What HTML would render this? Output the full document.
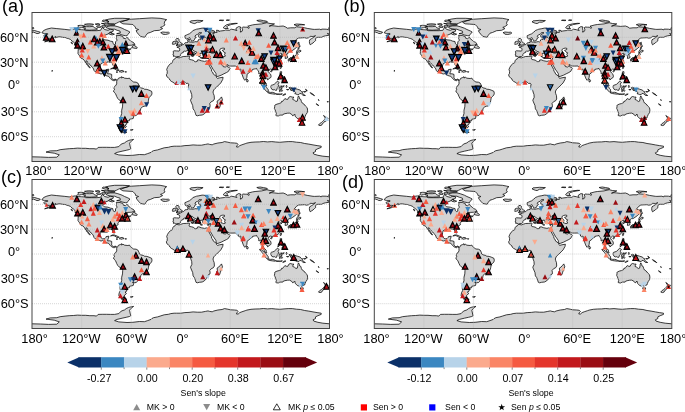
<!DOCTYPE html><html><head><meta charset="utf-8"><title>Figure</title><style>html,body{margin:0;padding:0;background:#fff}svg{display:block}text{font-family:"Liberation Sans", Arial, Helvetica, sans-serif;fill:#000}</style></head><body>
<svg width="685" height="412" viewBox="0 0 685 412">
<rect width="685" height="412" fill="#fff"/>
<clipPath id="clip"><rect x="0" y="0" width="297.5" height="149.0"/></clipPath>
<clipPath id="clipa"><rect x="32.0" y="12.5" width="297.5" height="149.0"/></clipPath>
<clipPath id="clipb"><rect x="374.3" y="12.5" width="297.5" height="149.0"/></clipPath>
<clipPath id="clipc"><rect x="32.0" y="179.5" width="297.5" height="149.0"/></clipPath>
<clipPath id="clipd"><rect x="374.3" y="179.5" width="297.5" height="149.0"/></clipPath>
<g transform="translate(32.0 12.5)">
<rect x="0" y="0" width="297.5" height="149.0" fill="#fff"/>
<g clip-path="url(#clip)">
<path d="M0.0 144.3L8.3 144.5L16.5 144.9L24.8 144.7L27.3 142.4L22.3 140.7L14.0 139.6L18.2 138.4L24.8 138.2L28.1 137.2L33.1 136.6L37.2 136.2L41.3 136.0L45.5 135.6L49.6 135.8L53.7 135.8L57.8 136.2L62.0 136.2L64.5 136.6L66.1 134.9L70.2 134.8L74.4 134.8L78.5 134.9L82.6 134.9L86.8 134.1L89.2 131.6L92.6 130.4L94.2 129.1L96.7 127.9L99.2 127.3L101.6 126.9L100.4 127.9L98.8 129.1L97.5 130.8L97.9 132.4L98.3 134.5L98.8 136.2L97.5 137.0L94.2 137.8L90.1 138.7L85.1 139.9L82.6 141.1L86.8 142.4L95.0 143.0L100.8 142.8L107.4 142.0L112.4 142.2L115.7 141.1L119.0 139.9L119.8 139.1L121.5 138.2L125.6 137.4L128.1 136.6L132.2 135.3L136.4 134.8L138.8 134.1L142.1 133.7L144.6 133.7L148.8 133.7L152.9 133.1L157.0 132.9L161.1 132.4L165.3 132.7L169.4 132.7L173.5 131.9L176.0 131.4L177.7 131.9L180.2 132.3L181.8 131.5L185.9 130.5L190.1 130.0L192.5 129.1L195.9 129.7L198.3 130.3L202.5 130.5L204.9 130.8L206.2 132.0L204.9 133.3L204.5 134.5L206.2 134.5L207.8 133.1L209.9 132.3L213.2 131.2L214.9 130.6L219.0 129.8L223.1 129.5L227.3 129.4L231.4 129.0L235.5 129.4L239.7 129.1L243.8 129.5L247.9 129.8L252.0 129.4L256.2 129.1L260.3 129.1L264.4 129.7L268.6 130.0L272.7 131.0L276.8 131.6L281.0 132.4L285.1 133.1L289.2 133.7L289.2 134.9L285.9 136.2L283.5 137.4L283.5 139.1L281.0 140.3L281.8 141.6L285.9 142.8L290.9 143.7L297.5 144.3L297.5 149.0L0.0 149.0Z" fill="#d3d3d3" stroke="none"/>
<path d="M0.0 144.3L8.3 144.5L16.5 144.9L24.8 144.7L27.3 142.4L22.3 140.7L14.0 139.6L18.2 138.4L24.8 138.2L28.1 137.2L33.1 136.6L37.2 136.2L41.3 136.0L45.5 135.6L49.6 135.8L53.7 135.8L57.8 136.2L62.0 136.2L64.5 136.6L66.1 134.9L70.2 134.8L74.4 134.8L78.5 134.9L82.6 134.9L86.8 134.1L89.2 131.6L92.6 130.4L94.2 129.1L96.7 127.9L99.2 127.3L101.6 126.9L100.4 127.9L98.8 129.1L97.5 130.8L97.9 132.4L98.3 134.5L98.8 136.2L97.5 137.0L94.2 137.8L90.1 138.7L85.1 139.9L82.6 141.1L86.8 142.4L95.0 143.0L100.8 142.8L107.4 142.0L112.4 142.2L115.7 141.1L119.0 139.9L119.8 139.1L121.5 138.2L125.6 137.4L128.1 136.6L132.2 135.3L136.4 134.8L138.8 134.1L142.1 133.7L144.6 133.7L148.8 133.7L152.9 133.1L157.0 132.9L161.1 132.4L165.3 132.7L169.4 132.7L173.5 131.9L176.0 131.4L177.7 131.9L180.2 132.3L181.8 131.5L185.9 130.5L190.1 130.0L192.5 129.1L195.9 129.7L198.3 130.3L202.5 130.5L204.9 130.8L206.2 132.0L204.9 133.3L204.5 134.5L206.2 134.5L207.8 133.1L209.9 132.3L213.2 131.2L214.9 130.6L219.0 129.8L223.1 129.5L227.3 129.4L231.4 129.0L235.5 129.4L239.7 129.1L243.8 129.5L247.9 129.8L252.0 129.4L256.2 129.1L260.3 129.1L264.4 129.7L268.6 130.0L272.7 131.0L276.8 131.6L281.0 132.4L285.1 133.1L289.2 133.7L289.2 134.9L285.9 136.2L283.5 137.4L283.5 139.1L281.0 140.3L281.8 141.6L285.9 142.8L290.9 143.7L297.5 144.3" fill="none" stroke="#000" stroke-width="0.75"/>
<path d="M9.9 20.3L11.6 18.0L14.9 16.6L19.4 15.5L24.8 16.1L32.2 16.8L37.2 17.4L43.0 16.4L46.3 17.0L52.1 17.4L53.7 18.2L59.5 18.2L64.5 18.2L68.6 17.8L70.2 14.9L72.7 17.0L76.0 17.8L78.5 16.7L81.4 17.4L81.0 19.0L77.7 19.9L76.9 21.1L71.9 23.2L70.7 25.7L72.3 27.3L76.0 27.7L78.5 28.7L80.7 29.0L81.0 31.0L82.2 32.1L83.5 31.6L83.5 29.4L85.1 27.7L84.3 25.9L84.7 24.4L84.3 22.8L88.0 23.0L90.9 24.0L91.3 25.7L93.4 26.2L95.0 24.6L95.9 26.1L97.9 27.7L99.2 29.0L101.2 29.8L102.5 31.0L100.0 32.7L95.9 32.9L93.4 33.5L90.9 35.2L92.6 34.1L95.4 33.9L95.0 35.2L95.4 36.3L97.9 36.6L99.2 36.0L98.3 37.1L95.9 37.8L94.2 38.5L94.2 37.4L93.4 37.2L90.9 38.3L90.5 39.7L90.9 40.0L89.2 40.4L87.6 40.9L87.4 41.8L86.4 43.0L85.9 43.9L86.2 45.1L84.7 46.1L83.1 47.2L81.8 48.2L81.6 49.7L82.6 52.1L82.4 53.6L81.4 53.4L80.4 51.5L80.3 50.1L79.3 49.7L78.1 49.8L76.4 49.4L74.8 49.5L74.8 50.3L73.1 50.2L71.1 50.0L69.0 51.1L68.3 53.0L68.0 55.9L69.2 58.4L70.7 59.4L72.7 59.1L73.9 57.9L74.1 57.1L76.9 56.7L76.4 58.8L75.9 60.0L75.6 61.4L77.7 61.3L79.7 61.9L79.7 64.2L79.6 65.4L80.6 66.8L81.8 67.2L83.1 66.6L84.7 67.3L85.3 67.9L86.4 65.8L88.4 65.0L89.7 64.2L89.7 65.6L90.9 64.7L92.6 65.7L95.9 66.0L97.5 65.6L98.3 67.0L100.4 68.7L101.6 69.5L104.1 69.7L105.8 70.5L107.0 72.8L107.4 74.5L108.7 75.3L111.6 76.0L112.4 76.7L114.9 76.9L116.9 77.6L119.6 78.8L120.0 80.7L119.6 82.4L118.2 84.0L116.9 85.3L116.5 87.7L116.1 89.8L115.0 91.9L114.0 93.5L112.0 93.7L110.3 94.5L108.7 96.0L108.5 97.9L107.0 100.0L105.4 101.8L104.3 103.0L102.1 103.3L100.5 102.6L101.6 104.3L101.2 106.0L97.5 106.8L97.3 108.3L95.0 108.4L96.1 109.7L94.8 110.5L94.6 111.8L93.0 112.6L94.4 113.8L93.0 115.5L91.7 116.7L92.2 117.8L90.1 119.0L88.0 118.0L86.8 115.9L87.2 113.4L88.4 110.9L88.0 108.9L88.0 106.0L88.8 103.9L89.7 101.0L89.7 97.7L90.5 94.4L90.7 91.1L90.6 89.6L89.2 88.6L86.8 87.2L85.7 85.9L84.7 84.0L83.5 81.1L81.8 79.5L81.6 78.1L82.6 77.2L82.0 76.4L82.2 74.9L82.6 73.8L83.6 73.3L84.7 71.4L84.7 69.1L84.4 68.5L84.0 67.6L83.1 67.2L82.4 68.3L81.4 68.1L80.2 67.6L79.6 67.3L78.5 66.2L77.8 65.4L76.4 63.7L75.6 63.6L73.5 63.0L72.3 62.2L70.7 61.1L69.0 61.5L66.9 60.8L64.9 60.0L62.8 58.8L61.6 57.7L61.7 56.7L60.7 55.0L59.1 53.6L58.3 52.4L57.0 51.3L55.8 50.1L55.2 48.7L54.0 48.3L54.0 49.7L55.4 51.3L56.6 53.0L57.6 54.5L58.3 55.4L57.6 55.2L56.2 54.0L55.9 52.8L54.3 51.7L54.3 50.7L53.1 49.4L52.1 47.6L50.8 46.4L49.1 45.9L48.0 44.2L47.5 43.2L46.4 41.8L46.0 41.1L46.1 38.9L46.3 36.3L45.7 34.4L47.1 33.9L45.9 33.1L43.8 32.3L43.0 31.0L41.3 29.4L40.1 28.6L38.4 26.9L36.4 26.1L35.1 25.8L33.2 25.0L30.6 24.8L28.1 24.3L26.0 24.4L23.6 25.4L24.0 24.0L22.3 24.8L21.1 26.1L19.0 27.3L16.9 28.3L14.5 29.0L12.6 29.3L14.9 28.3L16.5 27.7L18.6 26.1L17.4 25.9L14.9 25.9L14.9 24.8L12.4 24.2L11.6 23.2L12.8 22.4L15.7 21.9L15.7 21.1L12.4 21.1ZM88.4 9.8L92.6 8.3L97.5 6.8L107.4 6.2L119.8 5.4L128.1 5.8L132.2 6.6L134.7 7.2L133.0 8.3L132.2 10.8L133.0 12.4L130.6 14.1L128.5 14.9L130.6 16.1L127.3 17.8L122.3 18.2L118.2 20.0L115.7 20.7L114.0 22.8L112.8 24.8L110.7 24.4L108.7 24.0L106.6 21.9L105.0 19.9L104.1 18.2L106.6 17.0L103.7 16.1L103.3 14.5L100.8 12.0L95.0 11.6L90.9 11.3L89.2 10.3ZM95.0 23.3L95.9 21.9L97.9 19.5L95.9 18.4L92.6 17.0L90.1 15.7L85.9 14.2L82.6 13.4L78.5 13.4L74.8 14.1L74.4 15.3L78.5 16.6L82.6 16.7L85.1 17.8L88.0 18.6L88.4 20.3L84.7 21.1L87.2 21.3L90.1 22.5L93.4 23.2ZM64.9 17.4L62.0 17.5L57.8 17.7L54.5 17.5L52.1 16.7L53.7 15.7L50.8 15.3L51.2 14.3L54.5 14.1L57.8 14.2L61.2 13.8L62.4 15.3L65.3 16.1ZM45.5 14.9L47.1 15.6L49.2 15.1L51.6 14.2L53.3 13.7L51.6 13.0L48.3 12.8L45.9 13.1L46.3 14.1ZM76.0 11.2L82.6 11.4L84.3 10.8L86.8 9.5L89.2 8.7L95.0 7.5L97.5 6.2L90.9 5.8L82.6 5.8L76.9 6.6L73.5 7.5L76.0 8.3L76.9 9.5L75.2 10.3ZM82.6 12.7L77.7 12.8L72.7 12.7L72.3 11.6L69.4 10.9L75.2 11.3L78.5 11.8L81.8 11.8L83.1 12.4ZM76.9 9.1L73.5 9.7L70.2 8.7L71.1 7.5L74.4 7.9ZM71.9 14.9L69.8 14.5L69.8 13.2L73.5 13.2L74.0 14.1ZM68.6 14.9L65.3 14.9L64.5 13.7L67.4 13.3L68.6 14.1ZM61.2 12.4L57.8 12.7L54.5 12.6L52.5 11.8L56.2 11.3L59.5 11.4L61.6 11.8ZM67.8 12.4L65.3 12.3L63.2 11.6L66.1 11.0L67.8 11.6ZM82.4 21.7L80.2 22.4L77.7 21.8L76.9 21.1L78.1 19.9L79.7 20.0L78.9 20.7L81.0 21.1ZM99.7 35.0L102.9 35.8L105.0 35.8L105.2 35.1L104.5 34.3L102.6 33.3L102.9 31.9L101.6 32.3L101.0 33.5L99.8 34.5ZM46.9 34.4L45.5 34.2L42.7 32.5L43.8 32.4L45.5 33.1L46.7 33.9ZM40.5 31.5L38.8 30.0L39.8 29.7ZM78.5 56.5L80.2 55.5L82.2 55.4L85.1 56.6L87.4 57.8L84.7 58.0L84.3 57.4L82.6 56.5L81.0 56.0L79.3 56.4ZM87.3 59.3L88.8 58.0L90.9 58.1L92.2 59.1L90.5 59.4L89.5 59.8L88.4 59.4ZM84.0 59.4L85.7 59.4L85.7 59.7L84.5 59.8ZM93.2 59.2L94.5 59.3L94.4 59.6L93.2 59.6ZM92.1 118.0L92.4 118.6L94.9 119.8L92.6 120.3L90.1 120.0L89.2 119.4L90.5 118.9L90.7 118.2ZM98.3 117.4L101.0 117.0L100.4 117.7L98.8 117.7ZM128.7 20.2L130.6 19.5L133.9 19.8L136.5 19.7L137.5 20.5L136.4 21.3L133.5 22.0L130.6 21.7L130.2 20.9ZM157.8 9.5L161.1 10.8L162.8 11.1L165.3 9.7L167.8 9.7L170.2 8.7L171.1 8.1L165.3 7.8L158.7 8.4ZM191.3 15.3L192.5 16.0L196.3 16.0L194.6 14.5L195.9 13.2L199.2 12.0L205.4 10.9L203.3 10.8L198.3 11.3L194.6 12.3L192.5 13.7ZM187.2 7.9L190.9 8.2L191.7 7.7L188.4 7.5ZM227.3 9.1L231.4 9.8L235.5 9.5L234.7 8.7L231.4 8.1L228.1 7.5L224.8 8.0ZM262.0 12.2L265.3 13.4L267.8 12.4L272.7 12.3L269.4 11.8L264.4 11.5ZM296.3 15.8L297.5 15.8L297.5 15.3L296.7 15.3ZM0.0 15.8L2.1 15.7L1.7 15.3L0.0 15.3ZM0.0 17.5L2.5 18.0L5.8 19.0L8.3 19.7L7.9 20.3L6.2 21.1L4.1 20.9L3.3 20.3L1.2 19.6L0.0 20.4ZM170.1 15.6L171.9 15.7L174.4 16.3L173.5 16.7L176.0 17.1L178.5 17.2L182.6 18.6L182.6 19.3L181.8 19.7L177.7 19.5L175.6 19.0L177.5 21.1L179.3 21.7L180.2 21.3L182.2 21.0L181.8 19.9L185.1 19.9L184.5 17.7L186.8 18.0L186.8 19.0L188.4 18.5L192.5 18.0L193.4 17.5L197.5 17.8L199.2 16.7L202.1 17.2L204.9 18.0L204.1 17.0L204.0 15.7L206.6 14.1L208.7 14.5L208.2 15.7L208.7 18.2L208.2 19.6L209.9 19.0L210.7 17.4L209.9 15.3L210.7 14.5L213.2 14.7L214.9 14.7L216.9 15.9L217.3 14.9L215.7 13.7L220.6 12.4L223.1 12.0L229.7 11.4L234.9 10.2L238.0 11.0L242.5 11.4L237.2 13.7L239.7 13.2L242.1 13.4L246.3 13.9L251.2 13.5L253.7 14.5L255.4 15.7L258.7 15.3L262.8 15.3L264.4 14.3L269.4 14.7L272.7 15.3L275.2 15.9L281.0 16.8L282.6 16.9L287.6 16.7L289.2 17.4L289.6 16.6L294.2 16.7L297.5 17.5L297.5 20.5L296.3 21.1L295.4 20.9L296.9 22.8L293.4 23.3L290.9 24.0L289.5 24.8L285.9 24.8L284.3 25.0L283.5 26.7L283.7 28.0L282.5 29.0L281.0 30.5L279.7 31.3L278.2 32.3L277.5 30.6L277.4 29.0L277.7 27.3L279.3 26.3L281.4 25.0L283.5 23.2L281.0 24.0L278.1 23.8L276.8 25.3L274.4 25.7L272.7 25.2L269.0 25.4L266.5 25.5L264.4 26.9L262.0 29.8L262.8 30.0L265.3 30.4L264.7 32.3L264.9 34.4L263.2 36.0L260.7 37.8L258.7 39.1L257.0 39.2L255.9 40.1L255.8 41.4L254.1 41.8L254.9 43.0L255.7 44.3L255.5 45.4L254.1 45.8L253.1 45.9L253.3 44.3L253.5 43.3L252.0 43.0L252.3 41.8L251.5 41.4L249.3 42.2L249.6 40.9L248.7 40.7L247.5 41.6L246.3 42.1L246.0 42.6L247.1 43.5L248.6 43.2L250.0 43.7L248.7 44.3L247.3 45.5L248.3 46.8L249.4 48.2L249.5 49.0L248.3 49.4L249.6 49.8L249.2 51.1L247.9 52.6L247.1 53.8L245.9 54.8L244.6 55.5L243.2 56.0L242.1 56.3L240.5 56.9L239.9 57.7L239.5 56.7L238.2 56.6L237.0 57.5L236.2 58.8L237.2 60.4L238.6 61.7L239.1 63.7L238.8 65.0L237.2 65.9L236.8 66.6L235.5 67.3L235.5 66.2L234.3 65.7L233.5 64.6L232.2 64.0L231.8 63.3L231.4 64.2L230.8 65.8L231.4 67.0L231.8 68.5L233.0 69.4L234.2 70.8L234.3 72.4L234.9 73.3L234.2 73.3L232.5 72.2L231.7 69.9L231.1 69.0L230.0 67.6L230.1 65.8L230.3 64.2L229.6 62.5L229.4 60.8L228.1 60.6L227.5 61.4L226.7 61.2L226.8 59.6L226.0 58.1L224.8 56.7L224.6 55.9L223.5 56.3L222.3 56.5L220.6 56.9L220.5 57.7L219.0 58.4L216.9 60.4L215.1 61.7L215.0 63.5L214.8 65.0L214.3 66.0L214.0 66.8L213.4 67.2L212.8 67.8L211.8 66.4L211.0 64.6L210.3 62.5L209.5 60.8L208.9 58.8L208.8 57.1L208.5 56.5L207.4 57.3L205.8 56.0L206.6 55.6L205.2 55.0L204.1 54.0L203.7 53.5L200.0 53.6L197.5 53.5L196.0 52.6L195.4 52.1L193.8 52.5L192.1 51.7L190.7 50.5L190.1 49.5L189.1 49.3L188.4 50.2L189.1 51.3L190.1 52.4L190.3 53.2L191.1 52.9L191.3 54.2L193.4 54.5L195.2 52.8L195.4 54.2L197.3 55.0L198.2 55.9L197.1 57.5L196.5 58.8L194.6 60.0L191.9 61.3L189.2 62.7L185.9 63.9L184.7 64.0L184.1 62.5L183.9 60.8L182.2 58.4L181.0 56.7L179.7 54.4L178.1 51.7L177.5 51.1L177.7 50.1L177.1 51.5L176.0 50.5L175.6 49.7L176.4 51.5L178.1 54.6L179.5 57.1L179.6 58.8L180.6 59.6L181.4 61.7L182.8 62.5L184.4 64.2L184.5 65.0L185.5 65.9L187.6 65.3L191.1 64.7L190.7 67.0L188.8 70.4L186.8 72.4L184.7 74.5L183.0 76.0L181.8 77.4L181.0 79.5L181.4 81.1L182.2 83.2L182.4 86.5L181.4 88.2L179.3 89.2L177.7 91.1L178.1 92.7L178.0 94.4L176.0 95.6L175.9 96.8L174.4 99.2L172.3 101.4L170.2 102.5L167.3 102.8L165.3 103.3L164.0 102.8L163.6 101.4L162.4 98.1L161.1 96.4L160.7 93.1L159.1 89.4L158.5 87.7L159.9 84.8L159.7 82.0L158.8 79.5L158.5 78.2L156.4 75.7L156.4 73.7L156.8 71.6L155.9 70.8L154.1 70.9L152.9 69.7L152.3 69.3L150.8 69.3L149.6 69.6L147.1 70.5L145.0 70.2L142.6 70.9L140.9 69.7L139.2 68.8L137.8 67.5L137.6 66.4L136.4 65.4L134.9 64.2L134.3 62.3L135.1 61.3L135.3 58.8L134.7 57.1L135.5 54.9L136.8 52.8L138.4 51.3L140.5 50.1L140.7 48.4L141.7 46.9L143.1 46.3L143.9 44.9L144.4 44.8L147.1 45.4L148.8 44.8L151.2 44.0L154.5 43.9L157.0 43.6L157.8 43.9L157.4 45.1L157.0 46.4L157.8 47.0L159.5 47.3L161.4 47.8L162.0 48.6L163.6 49.3L165.3 48.8L165.3 47.6L166.9 47.3L169.4 48.3L172.7 48.9L174.4 48.4L175.4 48.7L177.0 48.6L177.7 47.3L178.3 45.5L178.5 44.0L176.8 44.5L175.2 44.5L174.0 44.0L172.7 44.3L171.5 43.9L170.6 42.6L170.6 41.8L170.4 41.2L170.2 40.7L168.6 40.7L168.4 41.4L167.6 41.1L167.8 42.2L168.6 43.0L167.8 43.5L167.8 44.3L166.7 44.0L166.3 43.0L165.3 41.6L164.8 40.6L164.9 39.7L162.8 38.9L161.1 37.7L160.2 37.2L160.1 36.7L158.9 37.0L159.1 38.1L160.3 39.5L162.0 39.9L164.0 41.3L162.6 41.4L162.9 42.2L161.7 43.0L161.8 41.4L160.6 40.7L158.9 40.0L157.4 38.9L157.0 38.1L156.0 37.7L154.9 38.2L153.7 38.8L152.1 38.5L151.3 39.3L151.4 39.9L149.4 40.7L148.5 41.8L148.9 42.5L148.2 43.4L147.1 44.0L145.0 44.1L144.1 44.7L143.5 44.1L142.7 43.7L141.4 43.9L141.5 42.6L140.9 42.4L141.5 40.6L141.1 38.9L142.1 38.3L144.6 38.4L147.1 38.6L147.7 37.7L147.8 36.4L146.9 35.4L145.0 34.8L144.9 34.4L147.4 34.2L147.3 33.4L148.9 33.5L150.1 32.4L151.6 32.0L152.5 31.0L152.9 30.4L154.5 30.1L155.9 29.9L155.9 28.6L155.5 27.3L157.5 26.7L157.3 27.7L157.0 28.6L156.8 29.1L157.8 29.6L159.1 29.5L160.5 29.8L162.4 29.4L164.0 29.1L165.1 29.5L166.1 28.7L166.1 27.5L167.3 26.7L168.6 27.2L168.9 26.2L168.2 25.5L169.4 25.2L171.9 25.2L173.5 24.8L172.3 24.3L170.2 24.5L167.8 24.9L166.4 24.2L166.4 23.2L166.5 22.2L169.0 20.9L169.7 20.3L168.7 20.0L166.9 20.3L166.4 21.1L165.7 21.8L163.9 22.5L163.0 23.6L163.0 24.3L164.3 24.8L163.8 25.5L162.6 26.1L162.4 27.3L162.0 28.0L160.6 28.5L159.4 28.6L159.2 28.0L158.5 26.7L158.0 25.7L157.5 25.0L156.6 25.7L154.5 26.5L153.3 25.8L152.9 24.4L152.9 23.2L154.5 22.5L155.8 21.9L157.4 21.3L159.1 19.9L160.7 18.6L161.1 18.0L163.2 17.2L164.5 16.7L166.9 16.3ZM189.5 84.4L190.5 87.3L189.7 89.0L188.4 92.7L187.6 95.2L185.9 95.6L184.7 94.0L184.5 92.3L185.4 91.1L185.1 88.6L186.8 87.5L188.4 85.7ZM144.0 33.0L145.9 32.8L149.9 32.1L150.2 30.8L148.9 30.5L147.7 29.0L147.1 28.1L147.1 26.8L146.0 26.0L144.6 26.0L143.8 27.1L144.2 28.3L144.6 29.1L146.1 29.4L146.3 30.3L145.0 30.5L145.3 31.3L144.5 31.6L146.1 32.0L145.0 32.3ZM140.5 31.8L142.1 31.7L143.5 31.3L143.8 30.2L144.1 29.3L143.4 28.8L142.0 28.8L140.5 29.6L141.1 30.5L140.2 31.3ZM159.1 43.0L161.6 42.9L161.2 44.1L159.2 43.5ZM155.5 42.2L155.6 40.6L156.7 40.6L156.7 42.1ZM155.9 39.3L156.5 38.9L156.6 40.1L156.0 40.1ZM168.2 45.1L170.5 45.4L169.0 45.6ZM175.4 45.5L177.3 45.0L176.7 45.7L175.9 45.9ZM214.7 66.6L215.0 66.4L216.3 68.3L215.7 69.4L214.9 69.5L214.6 67.9ZM238.6 58.5L240.1 57.9L240.5 58.4L239.2 59.4L238.6 59.1ZM248.0 55.5L248.7 53.6L249.6 53.8L249.2 55.5L248.6 56.3ZM256.9 46.4L258.2 45.1L260.7 45.0L261.7 43.7L263.2 43.5L264.4 41.8L264.4 41.0L265.5 40.2L265.7 41.1L266.1 41.8L265.3 43.0L265.1 44.0L264.9 45.1L264.3 45.5L263.5 45.8L262.0 45.9L261.8 46.2L261.0 46.8L260.3 45.9L258.7 46.1L257.0 46.4ZM256.2 46.8L257.4 46.6L257.7 47.3L257.0 48.7L256.3 48.6L256.2 47.6ZM258.2 46.5L259.9 46.2L259.7 46.9L258.7 47.3ZM264.4 40.1L264.7 38.7L265.8 36.9L266.9 37.7L268.8 37.9L269.0 38.7L267.3 39.7L265.7 39.2L265.3 40.0ZM266.1 36.4L267.3 35.8L266.9 33.9L268.2 33.9L267.1 31.5L266.9 29.6L266.1 30.2L266.1 33.1L266.1 34.8ZM248.3 59.2L249.7 59.2L249.6 60.8L249.2 62.1L251.2 63.7L250.4 63.2L248.7 63.2L248.3 62.5L247.9 61.3ZM249.6 68.7L250.8 67.4L252.5 66.4L253.3 67.9L253.0 69.3L252.5 69.8L251.2 69.1L250.8 68.3ZM251.5 64.2L252.5 64.3L252.5 66.0L251.8 66.1ZM249.6 64.7L250.6 65.0L250.6 66.9L250.0 66.5L249.6 65.8ZM245.6 67.5L247.5 65.1L247.3 66.0L246.0 67.5ZM238.8 73.3L239.4 72.8L240.7 72.4L242.1 71.9L243.8 70.4L245.3 68.7L246.0 69.1L247.3 70.1L246.3 70.9L246.1 72.0L247.1 73.7L246.1 73.8L245.9 75.2L245.0 76.2L244.6 77.8L243.4 77.8L242.5 77.2L241.1 77.4L239.8 76.8L238.8 74.9L238.8 74.1ZM227.5 69.9L229.3 70.2L231.4 72.0L232.6 72.8L234.3 74.3L235.1 76.0L236.3 77.0L236.2 79.3L235.1 79.3L233.3 77.8L231.8 75.5L230.3 73.1L228.5 71.4ZM235.7 80.1L236.9 79.5L238.4 79.9L240.3 79.8L241.9 80.2L243.4 80.9L243.4 81.7L240.5 81.4L238.0 81.0L236.7 80.6ZM247.4 79.1L247.6 77.4L246.9 76.8L247.8 74.3L248.6 73.4L250.4 73.7L252.2 73.2L251.6 74.2L248.7 74.1L248.1 75.2L249.2 75.2L250.6 75.2L250.1 75.8L249.2 76.1L249.8 77.2L250.6 78.2L250.0 79.0L249.2 78.3L248.7 76.8L248.2 77.0L248.2 79.1ZM257.0 75.2L258.2 74.8L259.5 75.2L260.3 77.2L262.4 75.8L265.3 76.7L268.2 77.6L269.4 79.1L270.9 79.5L270.2 80.1L271.5 82.0L273.4 83.0L271.1 82.9L269.4 81.3L267.8 80.9L266.9 82.1L265.3 82.1L263.6 81.3L262.8 81.4L263.5 80.3L262.8 79.1L260.7 78.2L258.7 77.8L258.5 76.8L259.5 76.4L257.8 76.3L257.0 75.7ZM271.5 79.1L273.1 79.1L274.5 78.0L274.4 78.8L272.7 79.7ZM250.8 83.0L252.0 81.6L253.9 81.5L252.0 82.6ZM243.8 81.3L245.4 81.4L247.1 81.5L248.7 81.5L250.4 81.4L248.7 81.9L246.3 81.9L244.6 81.9ZM254.1 73.7L254.5 72.8L255.1 73.7L254.5 75.2ZM254.5 77.0L256.8 77.1L255.4 77.4ZM242.7 93.1L243.0 92.5L245.0 91.6L247.1 91.1L249.2 90.2L249.8 88.6L250.8 88.8L251.6 87.7L252.9 86.1L254.5 86.8L255.8 86.8L256.8 84.8L258.2 84.0L260.3 84.6L261.8 84.6L261.1 85.7L260.7 86.9L262.4 87.7L264.0 89.0L265.3 88.6L265.8 86.1L265.9 84.8L266.5 83.4L267.3 84.8L267.6 86.3L268.8 86.9L269.4 89.0L270.2 90.5L271.9 91.5L273.4 93.5L275.2 95.2L275.6 97.7L275.2 100.2L273.9 102.1L273.1 103.9L272.7 105.4L270.6 106.0L269.7 106.8L268.4 106.0L267.3 106.6L265.3 106.0L264.2 104.7L263.2 103.9L262.8 101.8L262.6 101.5L261.1 103.3L260.7 103.3L259.5 101.7L257.4 100.6L255.4 100.7L252.9 101.2L251.2 101.8L250.8 102.6L247.9 102.6L246.3 103.5L244.6 103.3L243.8 102.9L244.4 101.0L243.8 99.3L243.1 97.3L242.4 96.0L242.7 94.2ZM268.3 108.3L269.8 108.5L271.2 108.3L271.2 109.4L270.4 110.5L269.4 110.5L268.7 109.5ZM291.5 103.0L292.8 103.9L293.8 104.7L294.2 105.6L296.1 105.7L295.7 106.9L295.0 107.1L294.4 108.4L293.4 108.9L293.2 107.6L292.4 107.0L293.1 106.0L292.8 104.7ZM291.5 108.0L292.7 108.9L291.7 110.3L290.3 111.2L289.8 112.6L288.0 113.1L286.5 112.6L287.6 111.2L289.6 109.9L290.7 108.9ZM284.3 91.2L286.8 93.0L286.1 92.9L284.3 91.7ZM19.8 58.8L20.7 58.4L20.0 57.8ZM295.3 89.0L296.3 89.0L296.2 89.6L295.4 89.6ZM194.2 7.8L197.1 7.9L197.5 7.5L195.0 7.4ZM273.4 76.7L274.8 77.6L275.2 78.4L274.5 77.8ZM278.1 80.1L280.1 81.1L281.8 82.4L282.5 83.2L281.0 82.4L278.9 81.1ZM286.4 86.9L287.0 87.6L286.9 88.2L286.5 87.6Z" fill="#d3d3d3" stroke="#000" stroke-width="0.75" stroke-linejoin="round"/>
<path d="M171.9 40.1L172.5 38.5L172.4 37.8L173.3 37.1L174.2 36.0L175.2 36.2L176.4 36.4L175.6 37.0L176.4 37.7L178.1 37.2L179.0 37.0L177.7 36.3L180.6 35.4L181.0 36.4L179.7 37.0L179.6 37.5L180.6 37.9L181.8 38.7L183.0 39.3L183.0 40.1L181.4 40.6L179.7 40.6L178.9 40.3L177.7 39.7L176.0 39.7L174.6 40.4L172.9 40.4ZM189.2 36.0L190.9 35.6L192.5 35.8L192.5 37.0L191.1 37.6L190.3 37.8L190.9 38.7L192.4 39.7L192.3 40.1L193.4 40.3L192.5 41.8L193.4 43.6L191.7 44.1L190.3 43.6L189.2 43.4L189.2 42.6L189.7 41.1L189.2 40.1L188.0 38.9L187.6 37.7L188.0 36.7Z" fill="#fff" stroke="#000" stroke-width="0.75" stroke-linejoin="round"/>
<path d="M49.6 0V149.0M99.2 0V149.0M148.8 0V149.0M198.3 0V149.0M247.9 0V149.0M0 24.8H297.5M0 49.7H297.5M0 74.5H297.5M0 99.3H297.5M0 124.2H297.5" fill="none" stroke="#b4b4b4" stroke-width="0.55" stroke-dasharray="1 1"/>
</g>
</g>
<g clip-path="url(#clipa)">
<polygon points="45.7,33.3 48.2,38.4 43.2,38.4" fill="#3b87c1"/><polygon points="46.2,34.7 49.0,40.3 43.4,40.3" fill="#65000c" stroke="#000" stroke-width="1.1"/><rect x="45.5" y="37.5" width="1.5" height="1.5" fill="#b8121a"/><polygon points="52.2,36.1 55.0,41.7 49.4,41.7" fill="#65000c" stroke="#000" stroke-width="1.1"/><rect x="51.5" y="38.9" width="1.5" height="1.5" fill="#b8121a"/><polygon points="71.7,32.0 74.2,26.9 69.2,26.9" fill="#b7d3e9"/><polygon points="76.5,30.5 78.8,35.1 74.2,35.1" fill="#65000c" stroke="#000" stroke-width="1.1"/><polygon points="76.5,33.2 79.5,27.2 73.5,27.2" fill="#3b87c1"/><polygon points="83.7,32.3 86.2,37.4 81.2,37.4" fill="#f55a41"/><polygon points="80.7,39.5 83.2,34.4 78.2,34.4" fill="#fbaa8d"/><polygon points="77.5,39.0 80.3,44.6 74.7,44.6" fill="#65000c" stroke="#000" stroke-width="1.1"/><rect x="76.8" y="41.8" width="1.5" height="1.5" fill="#b8121a"/><polygon points="79.8,47.2 82.3,42.2 77.2,42.2" fill="#b7d3e9"/><polygon points="77.5,42.5 80.3,48.1 74.7,48.1" fill="#65000c" stroke="#000" stroke-width="1.1"/><rect x="76.8" y="45.3" width="1.5" height="1.5" fill="#b8121a"/><polygon points="82.8,43.3 85.6,48.9 80.0,48.9" fill="#65000c" stroke="#000" stroke-width="1.1"/><rect x="82.0" y="46.1" width="1.5" height="1.5" fill="#b8121a"/><polygon points="82.2,47.5 84.8,52.5 79.7,52.5" fill="#e4352b"/><polygon points="81.6,52.5 84.2,57.5 79.1,57.5" fill="#f55a41"/><polygon points="87.7,54.0 90.2,49.0 85.2,49.0" fill="#fbaa8d"/><polygon points="88.7,54.4 91.2,59.5 86.2,59.5" fill="#f55a41"/><polygon points="90.3,39.3 92.8,44.4 87.8,44.4" fill="#f55a41"/><polygon points="95.8,35.3 98.3,40.4 93.2,40.4" fill="#3b87c1"/><polygon points="94.2,36.1 97.0,41.7 91.4,41.7" fill="#65000c" stroke="#000" stroke-width="1.1"/><rect x="93.5" y="38.9" width="1.5" height="1.5" fill="#b8121a"/><polygon points="93.8,43.4 96.3,48.5 91.2,48.5" fill="#fbaa8d"/><polygon points="101.5,31.8 104.0,36.9 99.0,36.9" fill="#e4352b"/><polygon points="104.3,32.9 106.8,38.0 101.8,38.0" fill="#fa8566"/><polygon points="99.8,35.7 102.3,40.8 97.2,40.8" fill="#fbaa8d"/><polygon points="99.8,38.8 102.6,44.4 97.0,44.4" fill="#0b3068" stroke="#000" stroke-width="1.1"/><rect x="99.0" y="41.6" width="1.5" height="1.5" fill="#b8121a"/><polygon points="97.3,39.4 100.1,45.0 94.5,45.0" fill="#65000c" stroke="#000" stroke-width="1.1"/><rect x="96.5" y="42.2" width="1.5" height="1.5" fill="#b8121a"/><polygon points="102.9,39.3 105.7,44.9 100.1,44.9" fill="#65000c" stroke="#000" stroke-width="1.1"/><rect x="102.2" y="42.1" width="1.5" height="1.5" fill="#b8121a"/><polygon points="98.4,48.8 101.0,43.7 95.9,43.7" fill="#3b87c1"/><polygon points="103.9,44.4 106.7,50.0 101.1,50.0" fill="#65000c" stroke="#000" stroke-width="1.1"/><rect x="103.2" y="47.2" width="1.5" height="1.5" fill="#b8121a"/><polygon points="108.2,43.7 110.8,48.8 105.7,48.8" fill="#e4352b"/><polygon points="101.9,55.3 104.5,60.4 99.4,60.4" fill="#fbaa8d"/><polygon points="102.8,63.5 105.3,58.5 100.2,58.5" fill="#3b87c1"/><polygon points="105.2,60.4 107.8,65.5 102.7,65.5" fill="#fa8566"/><polygon points="97.2,60.4 100.0,66.0 94.4,66.0" fill="#65000c" stroke="#000" stroke-width="1.1"/><rect x="96.5" y="63.2" width="1.5" height="1.5" fill="#b8121a"/><polygon points="99.3,65.2 102.1,70.8 96.5,70.8" fill="#9a0e14" stroke="#000" stroke-width="1.1"/><rect x="98.5" y="68.0" width="1.5" height="1.5" fill="#b8121a"/><polygon points="97.5,68.5 100.0,73.5 95.0,73.5" fill="#f55a41"/><polygon points="104.4,75.9 107.2,70.3 101.6,70.3" fill="#0b3068" stroke="#000" stroke-width="1.1"/><rect x="103.7" y="71.7" width="1.5" height="1.5" fill="#1a4596"/><polygon points="125.9,41.1 127.9,45.1 123.9,45.1" fill="#65000c" stroke="#000" stroke-width="1.1"/><polygon points="122.3,42.1 124.8,47.1 119.8,47.1" fill="#3b87c1"/><polygon points="117.2,44.7 119.8,49.8 114.7,49.8" fill="#fa8566"/><polygon points="115.1,45.4 117.9,51.0 112.3,51.0" fill="#65000c" stroke="#000" stroke-width="1.1"/><rect x="114.4" y="48.2" width="1.5" height="1.5" fill="#b8121a"/><polygon points="118.7,48.0 121.9,54.4 115.5,54.4" fill="#fa8566"/><polygon points="122.8,54.0 126.1,47.4 119.5,47.4" fill="#0b3068" stroke="#000" stroke-width="1.1"/><rect x="122.0" y="49.2" width="1.5" height="1.5" fill="#1a4596"/><polygon points="126.9,47.9 129.7,53.5 124.1,53.5" fill="#c2181c" stroke="#000" stroke-width="1.1"/><rect x="126.2" y="50.7" width="1.5" height="1.5" fill="#b8121a"/><polygon points="112.1,54.8 115.1,48.8 109.1,48.8" fill="#0b3068" stroke="#000" stroke-width="1.1"/><rect x="111.4" y="50.4" width="1.5" height="1.5" fill="#1a4596"/><polygon points="109.9,61.2 113.3,54.4 106.5,54.4" fill="#0b3068" stroke="#000" stroke-width="1.1"/><rect x="109.2" y="56.4" width="1.5" height="1.5" fill="#1a4596"/><polygon points="114.1,56.3 116.7,61.4 111.6,61.4" fill="#e4352b"/><polygon points="116.4,60.7 119.5,54.5 113.3,54.5" fill="#0b3068" stroke="#000" stroke-width="1.1"/><rect x="115.7" y="56.1" width="1.5" height="1.5" fill="#1a4596"/><polygon points="113.7,66.2 116.2,61.2 111.2,61.2" fill="#fbaa8d"/><polygon points="115.6,64.1 117.6,68.1 113.6,68.1" fill="#65000c" stroke="#000" stroke-width="1.1"/><polygon points="132.7,91.9 135.5,86.3 129.9,86.3" fill="#0b3068" stroke="#000" stroke-width="1.1"/><rect x="131.9" y="87.7" width="1.5" height="1.5" fill="#1a4596"/><polygon points="136.1,91.6 138.9,86.0 133.3,86.0" fill="#0b3068" stroke="#000" stroke-width="1.1"/><rect x="135.3" y="87.3" width="1.5" height="1.5" fill="#1a4596"/><polygon points="141.4,90.8 144.2,96.4 138.6,96.4" fill="#65000c" stroke="#000" stroke-width="1.1"/><rect x="140.6" y="93.6" width="1.5" height="1.5" fill="#b8121a"/><polygon points="146.5,93.0 149.1,98.0 143.9,98.0" fill="#f55a41"/><polygon points="123.0,97.2 125.8,102.8 120.2,102.8" fill="#65000c" stroke="#000" stroke-width="1.1"/><rect x="122.2" y="100.0" width="1.5" height="1.5" fill="#b8121a"/><polygon points="141.4,100.2 143.9,105.3 138.8,105.3" fill="#fa8566"/><polygon points="146.7,107.3 149.2,102.2 144.1,102.2" fill="#0b3068"/><polygon points="139.6,109.5 142.2,114.5 137.0,114.5" fill="#c2181c"/><polygon points="134.5,107.7 137.1,112.8 131.9,112.8" fill="#fbaa8d"/><polygon points="130.6,115.5 133.2,110.5 128.0,110.5" fill="#fbaa8d"/><polygon points="133.2,110.8 135.8,115.8 130.6,115.8" fill="#f55a41"/><polygon points="121.1,122.0 123.7,116.9 118.6,116.9" fill="#3b87c1"/><polygon points="124.9,116.7 127.7,122.3 122.1,122.3" fill="#9a0e14" stroke="#000" stroke-width="1.1"/><rect x="124.2" y="119.5" width="1.5" height="1.5" fill="#b8121a"/><polygon points="121.3,120.3 124.1,125.9 118.5,125.9" fill="#65000c" stroke="#000" stroke-width="1.1"/><rect x="120.5" y="123.1" width="1.5" height="1.5" fill="#b8121a"/><polygon points="122.1,123.4 123.9,127.0 120.3,127.0" fill="#e4352b"/><polygon points="123.8,125.7 125.6,129.3 122.0,129.3" fill="#fbaa8d"/><polygon points="119.9,130.3 122.7,124.7 117.1,124.7" fill="#0b3068" stroke="#000" stroke-width="1.1"/><rect x="119.2" y="126.0" width="1.5" height="1.5" fill="#1a4596"/><polygon points="121.2,132.5 124.0,126.9 118.4,126.9" fill="#0b3068" stroke="#000" stroke-width="1.1"/><rect x="120.5" y="128.2" width="1.5" height="1.5" fill="#1a4596"/><polygon points="124.9,134.4 127.5,129.3 122.4,129.3" fill="#0b3068"/><polygon points="205.9,32.9 208.4,27.8 203.3,27.8" fill="#0b3068"/><polygon points="209.9,32.9 212.4,27.8 207.3,27.8" fill="#3b87c1"/><polygon points="205.9,37.0 208.4,31.9 203.3,31.9" fill="#b7d3e9"/><polygon points="209.9,32.7 212.7,38.3 207.1,38.3" fill="#9a0e14" stroke="#000" stroke-width="1.1"/><rect x="209.1" y="35.5" width="1.5" height="1.5" fill="#b8121a"/><polygon points="213.5,35.3 216.3,40.9 210.7,40.9" fill="#65000c" stroke="#000" stroke-width="1.1"/><rect x="212.8" y="38.1" width="1.5" height="1.5" fill="#b8121a"/><polygon points="208.4,37.3 211.2,42.9 205.6,42.9" fill="#c2181c" stroke="#000" stroke-width="1.1"/><rect x="207.6" y="40.1" width="1.5" height="1.5" fill="#b8121a"/><polygon points="202.3,40.6 204.8,35.6 199.7,35.6" fill="#0b3068"/><polygon points="204.3,37.8 206.1,41.4 202.5,41.4" fill="#fbaa8d"/><polygon points="198.9,40.7 201.4,45.8 196.3,45.8" fill="#fa8566"/><polygon points="226.3,37.6 228.8,42.6 223.7,42.6" fill="#fa8566"/><polygon points="235.5,35.6 238.1,40.6 232.9,40.6" fill="#c2181c"/><polygon points="188.5,50.6 191.3,45.0 185.7,45.0" fill="#0b3068" stroke="#000" stroke-width="1.1"/><rect x="187.8" y="46.4" width="1.5" height="1.5" fill="#1a4596"/><polygon points="191.0,51.1 193.8,45.5 188.2,45.5" fill="#0b3068" stroke="#000" stroke-width="1.1"/><rect x="190.2" y="46.9" width="1.5" height="1.5" fill="#1a4596"/><polygon points="190.5,49.1 193.3,54.7 187.7,54.7" fill="#9a0e14" stroke="#000" stroke-width="1.1"/><rect x="189.8" y="51.9" width="1.5" height="1.5" fill="#b8121a"/><polygon points="206.4,43.2 208.9,48.2 203.8,48.2" fill="#fbaa8d"/><polygon points="206.4,46.3 208.9,51.4 203.8,51.4" fill="#c2181c"/><polygon points="212.5,46.5 215.3,52.1 209.7,52.1" fill="#e4352b" stroke="#000" stroke-width="1.1"/><rect x="211.8" y="49.3" width="1.5" height="1.5" fill="#b8121a"/><polygon points="216.6,51.4 219.6,57.4 213.6,57.4" fill="#9a0e14" stroke="#000" stroke-width="1.1"/><rect x="215.8" y="54.4" width="1.5" height="1.5" fill="#b8121a"/><polygon points="220.2,52.0 223.0,57.6 217.4,57.6" fill="#c2181c" stroke="#000" stroke-width="1.1"/><rect x="219.4" y="54.8" width="1.5" height="1.5" fill="#b8121a"/><polygon points="204.3,56.7 207.1,51.1 201.5,51.1" fill="#3b87c1" stroke="#000" stroke-width="1.1"/><rect x="203.5" y="52.5" width="1.5" height="1.5" fill="#1a4596"/><polygon points="205.3,52.7 208.1,58.3 202.5,58.3" fill="#c2181c" stroke="#000" stroke-width="1.1"/><rect x="204.5" y="55.5" width="1.5" height="1.5" fill="#b8121a"/><polygon points="208.9,53.0 211.4,58.0 206.3,58.0" fill="#fa8566"/><polygon points="198.2,50.9 200.8,56.0 195.6,56.0" fill="#fbaa8d"/><polygon points="234.7,53.4 237.5,59.0 231.9,59.0" fill="#9a0e14" stroke="#000" stroke-width="1.1"/><rect x="233.9" y="56.2" width="1.5" height="1.5" fill="#b8121a"/><polygon points="208.9,58.6 211.4,63.6 206.3,63.6" fill="#e4352b"/><polygon points="220.7,58.6 223.2,63.6 218.1,63.6" fill="#fa8566"/><polygon points="207.4,59.9 209.9,65.0 204.8,65.0" fill="#f55a41"/><polygon points="210.2,59.4 212.8,64.5 207.6,64.5" fill="#f55a41"/><polygon points="220.7,59.4 223.2,64.5 218.1,64.5" fill="#f55a41"/><polygon points="224.6,60.4 227.2,65.5 222.0,65.5" fill="#fbaa8d"/><polygon points="237.5,64.9 240.1,70.0 234.9,70.0" fill="#f55a41"/><polygon points="243.1,68.8 245.7,73.8 240.5,73.8" fill="#c2181c"/><polygon points="193.1,78.5 195.7,73.4 190.5,73.4" fill="#b7d3e9"/><polygon points="182.9,79.6 185.4,84.7 180.3,84.7" fill="#c2181c"/><polygon points="176.7,80.7 178.9,85.1 174.5,85.1" fill="#c2181c"/><polygon points="178.8,79.2 181.3,84.3 176.2,84.3" fill="#b7d3e9"/><polygon points="208.1,90.3 210.9,84.7 205.3,84.7" fill="#0b3068" stroke="#000" stroke-width="1.1"/><rect x="207.3" y="86.0" width="1.5" height="1.5" fill="#1a4596"/><polygon points="189.0,86.7 190.8,90.3 187.2,90.3" fill="#b7d3e9"/><polygon points="202.3,107.6 204.8,112.7 199.7,112.7" fill="#c2181c"/><polygon points="204.3,111.2 206.8,106.1 201.7,106.1" fill="#0b3068"/><polygon points="207.4,107.6 209.9,112.7 204.8,112.7" fill="#c2181c"/><polygon points="208.7,110.9 210.5,107.3 206.9,107.3" fill="#0b3068"/><polygon points="217.1,103.5 219.7,108.5 214.5,108.5" fill="#c2181c"/><polygon points="217.1,104.9 217.5,106.0 218.7,106.1 217.7,106.8 218.1,108.0 217.1,107.3 216.1,108.0 216.5,106.8 215.5,106.1 216.7,106.0" fill="#000"/><polygon points="221.2,99.5 223.8,104.5 218.6,104.5" fill="#c2181c"/><polygon points="221.2,100.9 221.6,102.0 222.8,102.1 221.8,102.8 222.2,104.0 221.2,103.3 220.2,104.0 220.6,102.8 219.6,102.1 220.8,102.0" fill="#000"/><polygon points="258.2,33.4 260.8,28.3 255.6,28.3" fill="#0b3068"/><polygon points="258.7,30.2 261.5,35.8 255.9,35.8" fill="#65000c" stroke="#000" stroke-width="1.1"/><rect x="257.9" y="33.0" width="1.5" height="1.5" fill="#b8121a"/><polygon points="273.5,32.7 276.3,38.3 270.7,38.3" fill="#65000c" stroke="#000" stroke-width="1.1"/><rect x="272.8" y="35.5" width="1.5" height="1.5" fill="#b8121a"/><polygon points="274.5,39.4 277.3,45.0 271.7,45.0" fill="#65000c" stroke="#000" stroke-width="1.1"/><rect x="273.8" y="42.2" width="1.5" height="1.5" fill="#b8121a"/><polygon points="302.7,26.4 305.2,31.6 300.1,31.6" fill="#c2181c"/><polygon points="302.7,27.9 303.1,29.0 304.3,29.1 303.3,29.8 303.7,31.0 302.7,30.3 301.7,31.0 302.1,29.8 301.1,29.1 302.3,29.0" fill="#000"/><polygon points="245.2,40.2 248.0,45.8 242.4,45.8" fill="#65000c" stroke="#000" stroke-width="1.1"/><rect x="244.4" y="43.0" width="1.5" height="1.5" fill="#b8121a"/><polygon points="241.2,40.7 243.8,45.8 238.6,45.8" fill="#fbaa8d"/><polygon points="249.3,39.7 251.8,44.8 246.7,44.8" fill="#f55a41"/><polygon points="243.8,50.9 246.3,45.8 241.2,45.8" fill="#fbaa8d"/><polygon points="249.5,46.5 252.3,52.1 246.7,52.1" fill="#65000c" stroke="#000" stroke-width="1.1"/><rect x="248.8" y="49.3" width="1.5" height="1.5" fill="#b8121a"/><polygon points="248.0,48.4 250.6,53.5 245.4,53.5" fill="#fbaa8d"/><polygon points="252.1,49.6 254.9,55.2 249.3,55.2" fill="#c2181c" stroke="#000" stroke-width="1.1"/><rect x="251.3" y="52.4" width="1.5" height="1.5" fill="#b8121a"/><polygon points="253.4,45.8 255.9,50.9 250.8,50.9" fill="#fbaa8d"/><polygon points="268.7,42.7 271.2,47.8 266.1,47.8" fill="#f55a41"/><polygon points="271.0,55.5 273.6,50.5 268.4,50.5" fill="#0b3068"/><polygon points="278.1,45.0 280.9,50.6 275.3,50.6" fill="#65000c" stroke="#000" stroke-width="1.1"/><rect x="277.3" y="47.8" width="1.5" height="1.5" fill="#b8121a"/><polygon points="277.1,49.9 279.6,55.0 274.5,55.0" fill="#c2181c"/><polygon points="283.2,51.7 286.0,46.1 280.4,46.1" fill="#0b3068" stroke="#000" stroke-width="1.1"/><rect x="282.4" y="47.5" width="1.5" height="1.5" fill="#1a4596"/><polygon points="285.4,52.4 288.2,46.8 282.6,46.8" fill="#3b87c1" stroke="#000" stroke-width="1.1"/><rect x="284.6" y="48.1" width="1.5" height="1.5" fill="#1a4596"/><polygon points="287.2,39.9 289.8,45.0 284.6,45.0" fill="#fa8566"/><polygon points="288.9,43.7 291.4,48.8 286.3,48.8" fill="#f55a41"/><polygon points="290.5,47.7 293.1,52.8 287.9,52.8" fill="#f55a41"/><polygon points="284.6,51.4 287.1,56.5 282.0,56.5" fill="#fa8566"/><polygon points="293.6,46.3 296.4,40.7 290.8,40.7" fill="#0b3068" stroke="#000" stroke-width="1.1"/><rect x="292.8" y="42.0" width="1.5" height="1.5" fill="#1a4596"/><polygon points="296.6,41.9 299.1,47.0 294.0,47.0" fill="#fbaa8d"/><polygon points="293.4,55.8 296.2,61.4 290.6,61.4" fill="#65000c" stroke="#000" stroke-width="1.1"/><rect x="292.6" y="58.6" width="1.5" height="1.5" fill="#b8121a"/><polygon points="297.0,54.0 299.6,59.0 294.4,59.0" fill="#fbaa8d"/><polygon points="258.2,53.3 260.8,58.4 255.6,58.4" fill="#fa8566"/><polygon points="256.1,54.0 258.7,59.0 253.6,59.0" fill="#fa8566"/><polygon points="261.3,55.8 264.1,61.4 258.5,61.4" fill="#65000c" stroke="#000" stroke-width="1.1"/><rect x="260.6" y="58.6" width="1.5" height="1.5" fill="#b8121a"/><polygon points="264.6,59.4 267.4,53.8 261.8,53.8" fill="#0b3068" stroke="#000" stroke-width="1.1"/><rect x="263.8" y="55.1" width="1.5" height="1.5" fill="#1a4596"/><polygon points="241.3,55.8 243.8,60.9 238.7,60.9" fill="#b7d3e9"/><polygon points="241.7,58.0 244.5,63.6 238.9,63.6" fill="#65000c" stroke="#000" stroke-width="1.1"/><rect x="240.9" y="60.8" width="1.5" height="1.5" fill="#b8121a"/><polygon points="273.5,62.9 276.3,57.3 270.7,57.3" fill="#0b3068" stroke="#000" stroke-width="1.1"/><rect x="272.8" y="58.6" width="1.5" height="1.5" fill="#1a4596"/><polygon points="277.1,55.0 279.6,60.0 274.5,60.0" fill="#fbaa8d"/><polygon points="279.5,61.6 282.3,56.0 276.7,56.0" fill="#0b3068" stroke="#000" stroke-width="1.1"/><rect x="278.8" y="57.4" width="1.5" height="1.5" fill="#1a4596"/><polygon points="280.2,58.6 282.8,63.6 277.6,63.6" fill="#e4352b"/><polygon points="255.6,58.6 258.1,63.6 253.0,63.6" fill="#3b87c1"/><polygon points="248.0,59.9 250.6,65.0 245.4,65.0" fill="#f55a41"/><polygon points="250.0,59.1 251.8,62.7 248.2,62.7" fill="#b7d3e9"/><polygon points="254.1,59.1 256.6,64.2 251.5,64.2" fill="#3b87c1"/><polygon points="256.2,59.1 258.8,64.2 253.6,64.2" fill="#3b87c1"/><polygon points="250.0,67.2 252.6,72.3 247.4,72.3" fill="#f55a41"/><polygon points="263.3,62.7 266.1,68.3 260.5,68.3" fill="#65000c" stroke="#000" stroke-width="1.1"/><rect x="262.6" y="65.5" width="1.5" height="1.5" fill="#b8121a"/><polygon points="265.9,64.7 268.7,70.3 263.1,70.3" fill="#65000c" stroke="#000" stroke-width="1.1"/><rect x="265.1" y="67.5" width="1.5" height="1.5" fill="#b8121a"/><polygon points="262.6,70.3 265.4,75.9 259.8,75.9" fill="#65000c" stroke="#000" stroke-width="1.1"/><rect x="261.8" y="73.1" width="1.5" height="1.5" fill="#b8121a"/><polygon points="265.9,71.7 268.4,76.8 263.3,76.8" fill="#c2181c"/><polygon points="262.8,73.1 265.6,78.7 260.0,78.7" fill="#9a0e14" stroke="#000" stroke-width="1.1"/><rect x="262.1" y="75.9" width="1.5" height="1.5" fill="#b8121a"/><polygon points="262.6,77.5 265.4,83.1 259.8,83.1" fill="#f55a41" stroke="#000" stroke-width="1.1"/><rect x="261.8" y="80.2" width="1.5" height="1.5" fill="#b8121a"/><polygon points="263.8,90.0 266.4,85.0 261.2,85.0" fill="#3b87c1"/><polygon points="273.5,64.7 276.3,59.1 270.7,59.1" fill="#3b87c1" stroke="#000" stroke-width="1.1"/><rect x="272.8" y="60.5" width="1.5" height="1.5" fill="#1a4596"/><polygon points="274.5,63.2 277.3,57.6 271.7,57.6" fill="#0b3068" stroke="#000" stroke-width="1.1"/><rect x="273.8" y="59.0" width="1.5" height="1.5" fill="#1a4596"/><polygon points="276.6,60.1 279.4,65.7 273.8,65.7" fill="#65000c" stroke="#000" stroke-width="1.1"/><rect x="275.8" y="62.9" width="1.5" height="1.5" fill="#b8121a"/><polygon points="280.7,59.4 283.2,64.5 278.1,64.5" fill="#e4352b"/><polygon points="279.1,60.6 281.9,66.2 276.3,66.2" fill="#65000c" stroke="#000" stroke-width="1.1"/><rect x="278.3" y="63.4" width="1.5" height="1.5" fill="#b8121a"/><polygon points="275.1,64.2 277.9,69.8 272.3,69.8" fill="#65000c" stroke="#000" stroke-width="1.1"/><rect x="274.3" y="67.0" width="1.5" height="1.5" fill="#b8121a"/><polygon points="280.7,73.4 283.5,79.0 277.9,79.0" fill="#9a0e14" stroke="#000" stroke-width="1.1"/><rect x="279.9" y="76.2" width="1.5" height="1.5" fill="#b8121a"/><polygon points="284.6,77.0 287.4,82.6 281.8,82.6" fill="#65000c" stroke="#000" stroke-width="1.1"/><rect x="283.8" y="79.8" width="1.5" height="1.5" fill="#b8121a"/><polygon points="293.9,92.5 296.4,87.4 291.3,87.4" fill="#0b3068"/><polygon points="302.5,114.6 305.3,120.2 299.7,120.2" fill="#9a0e14" stroke="#000" stroke-width="1.1"/><rect x="301.8" y="117.4" width="1.5" height="1.5" fill="#b8121a"/><polygon points="299.4,116.9 301.9,122.0 296.8,122.0" fill="#c2181c"/><polygon points="302.0,119.7 304.8,125.3 299.2,125.3" fill="#c2181c" stroke="#000" stroke-width="1.1"/><rect x="301.2" y="122.5" width="1.5" height="1.5" fill="#b8121a"/><polygon points="326.5,115.9 329.1,121.0 323.9,121.0" fill="#b7d3e9"/>
</g>
<rect x="32.0" y="12.5" width="297.5" height="149.0" fill="none" stroke="#444" stroke-width="1"/>
<g transform="translate(374.3 12.5)">
<rect x="0" y="0" width="297.5" height="149.0" fill="#fff"/>
<g clip-path="url(#clip)">
<path d="M0.0 144.3L8.3 144.5L16.5 144.9L24.8 144.7L27.3 142.4L22.3 140.7L14.0 139.6L18.2 138.4L24.8 138.2L28.1 137.2L33.1 136.6L37.2 136.2L41.3 136.0L45.5 135.6L49.6 135.8L53.7 135.8L57.8 136.2L62.0 136.2L64.5 136.6L66.1 134.9L70.2 134.8L74.4 134.8L78.5 134.9L82.6 134.9L86.8 134.1L89.2 131.6L92.6 130.4L94.2 129.1L96.7 127.9L99.2 127.3L101.6 126.9L100.4 127.9L98.8 129.1L97.5 130.8L97.9 132.4L98.3 134.5L98.8 136.2L97.5 137.0L94.2 137.8L90.1 138.7L85.1 139.9L82.6 141.1L86.8 142.4L95.0 143.0L100.8 142.8L107.4 142.0L112.4 142.2L115.7 141.1L119.0 139.9L119.8 139.1L121.5 138.2L125.6 137.4L128.1 136.6L132.2 135.3L136.4 134.8L138.8 134.1L142.1 133.7L144.6 133.7L148.8 133.7L152.9 133.1L157.0 132.9L161.1 132.4L165.3 132.7L169.4 132.7L173.5 131.9L176.0 131.4L177.7 131.9L180.2 132.3L181.8 131.5L185.9 130.5L190.1 130.0L192.5 129.1L195.9 129.7L198.3 130.3L202.5 130.5L204.9 130.8L206.2 132.0L204.9 133.3L204.5 134.5L206.2 134.5L207.8 133.1L209.9 132.3L213.2 131.2L214.9 130.6L219.0 129.8L223.1 129.5L227.3 129.4L231.4 129.0L235.5 129.4L239.7 129.1L243.8 129.5L247.9 129.8L252.0 129.4L256.2 129.1L260.3 129.1L264.4 129.7L268.6 130.0L272.7 131.0L276.8 131.6L281.0 132.4L285.1 133.1L289.2 133.7L289.2 134.9L285.9 136.2L283.5 137.4L283.5 139.1L281.0 140.3L281.8 141.6L285.9 142.8L290.9 143.7L297.5 144.3L297.5 149.0L0.0 149.0Z" fill="#d3d3d3" stroke="none"/>
<path d="M0.0 144.3L8.3 144.5L16.5 144.9L24.8 144.7L27.3 142.4L22.3 140.7L14.0 139.6L18.2 138.4L24.8 138.2L28.1 137.2L33.1 136.6L37.2 136.2L41.3 136.0L45.5 135.6L49.6 135.8L53.7 135.8L57.8 136.2L62.0 136.2L64.5 136.6L66.1 134.9L70.2 134.8L74.4 134.8L78.5 134.9L82.6 134.9L86.8 134.1L89.2 131.6L92.6 130.4L94.2 129.1L96.7 127.9L99.2 127.3L101.6 126.9L100.4 127.9L98.8 129.1L97.5 130.8L97.9 132.4L98.3 134.5L98.8 136.2L97.5 137.0L94.2 137.8L90.1 138.7L85.1 139.9L82.6 141.1L86.8 142.4L95.0 143.0L100.8 142.8L107.4 142.0L112.4 142.2L115.7 141.1L119.0 139.9L119.8 139.1L121.5 138.2L125.6 137.4L128.1 136.6L132.2 135.3L136.4 134.8L138.8 134.1L142.1 133.7L144.6 133.7L148.8 133.7L152.9 133.1L157.0 132.9L161.1 132.4L165.3 132.7L169.4 132.7L173.5 131.9L176.0 131.4L177.7 131.9L180.2 132.3L181.8 131.5L185.9 130.5L190.1 130.0L192.5 129.1L195.9 129.7L198.3 130.3L202.5 130.5L204.9 130.8L206.2 132.0L204.9 133.3L204.5 134.5L206.2 134.5L207.8 133.1L209.9 132.3L213.2 131.2L214.9 130.6L219.0 129.8L223.1 129.5L227.3 129.4L231.4 129.0L235.5 129.4L239.7 129.1L243.8 129.5L247.9 129.8L252.0 129.4L256.2 129.1L260.3 129.1L264.4 129.7L268.6 130.0L272.7 131.0L276.8 131.6L281.0 132.4L285.1 133.1L289.2 133.7L289.2 134.9L285.9 136.2L283.5 137.4L283.5 139.1L281.0 140.3L281.8 141.6L285.9 142.8L290.9 143.7L297.5 144.3" fill="none" stroke="#000" stroke-width="0.75"/>
<path d="M9.9 20.3L11.6 18.0L14.9 16.6L19.4 15.5L24.8 16.1L32.2 16.8L37.2 17.4L43.0 16.4L46.3 17.0L52.1 17.4L53.7 18.2L59.5 18.2L64.5 18.2L68.6 17.8L70.2 14.9L72.7 17.0L76.0 17.8L78.5 16.7L81.4 17.4L81.0 19.0L77.7 19.9L76.9 21.1L71.9 23.2L70.7 25.7L72.3 27.3L76.0 27.7L78.5 28.7L80.7 29.0L81.0 31.0L82.2 32.1L83.5 31.6L83.5 29.4L85.1 27.7L84.3 25.9L84.7 24.4L84.3 22.8L88.0 23.0L90.9 24.0L91.3 25.7L93.4 26.2L95.0 24.6L95.9 26.1L97.9 27.7L99.2 29.0L101.2 29.8L102.5 31.0L100.0 32.7L95.9 32.9L93.4 33.5L90.9 35.2L92.6 34.1L95.4 33.9L95.0 35.2L95.4 36.3L97.9 36.6L99.2 36.0L98.3 37.1L95.9 37.8L94.2 38.5L94.2 37.4L93.4 37.2L90.9 38.3L90.5 39.7L90.9 40.0L89.2 40.4L87.6 40.9L87.4 41.8L86.4 43.0L85.9 43.9L86.2 45.1L84.7 46.1L83.1 47.2L81.8 48.2L81.6 49.7L82.6 52.1L82.4 53.6L81.4 53.4L80.4 51.5L80.3 50.1L79.3 49.7L78.1 49.8L76.4 49.4L74.8 49.5L74.8 50.3L73.1 50.2L71.1 50.0L69.0 51.1L68.3 53.0L68.0 55.9L69.2 58.4L70.7 59.4L72.7 59.1L73.9 57.9L74.1 57.1L76.9 56.7L76.4 58.8L75.9 60.0L75.6 61.4L77.7 61.3L79.7 61.9L79.7 64.2L79.6 65.4L80.6 66.8L81.8 67.2L83.1 66.6L84.7 67.3L85.3 67.9L86.4 65.8L88.4 65.0L89.7 64.2L89.7 65.6L90.9 64.7L92.6 65.7L95.9 66.0L97.5 65.6L98.3 67.0L100.4 68.7L101.6 69.5L104.1 69.7L105.8 70.5L107.0 72.8L107.4 74.5L108.7 75.3L111.6 76.0L112.4 76.7L114.9 76.9L116.9 77.6L119.6 78.8L120.0 80.7L119.6 82.4L118.2 84.0L116.9 85.3L116.5 87.7L116.1 89.8L115.0 91.9L114.0 93.5L112.0 93.7L110.3 94.5L108.7 96.0L108.5 97.9L107.0 100.0L105.4 101.8L104.3 103.0L102.1 103.3L100.5 102.6L101.6 104.3L101.2 106.0L97.5 106.8L97.3 108.3L95.0 108.4L96.1 109.7L94.8 110.5L94.6 111.8L93.0 112.6L94.4 113.8L93.0 115.5L91.7 116.7L92.2 117.8L90.1 119.0L88.0 118.0L86.8 115.9L87.2 113.4L88.4 110.9L88.0 108.9L88.0 106.0L88.8 103.9L89.7 101.0L89.7 97.7L90.5 94.4L90.7 91.1L90.6 89.6L89.2 88.6L86.8 87.2L85.7 85.9L84.7 84.0L83.5 81.1L81.8 79.5L81.6 78.1L82.6 77.2L82.0 76.4L82.2 74.9L82.6 73.8L83.6 73.3L84.7 71.4L84.7 69.1L84.4 68.5L84.0 67.6L83.1 67.2L82.4 68.3L81.4 68.1L80.2 67.6L79.6 67.3L78.5 66.2L77.8 65.4L76.4 63.7L75.6 63.6L73.5 63.0L72.3 62.2L70.7 61.1L69.0 61.5L66.9 60.8L64.9 60.0L62.8 58.8L61.6 57.7L61.7 56.7L60.7 55.0L59.1 53.6L58.3 52.4L57.0 51.3L55.8 50.1L55.2 48.7L54.0 48.3L54.0 49.7L55.4 51.3L56.6 53.0L57.6 54.5L58.3 55.4L57.6 55.2L56.2 54.0L55.9 52.8L54.3 51.7L54.3 50.7L53.1 49.4L52.1 47.6L50.8 46.4L49.1 45.9L48.0 44.2L47.5 43.2L46.4 41.8L46.0 41.1L46.1 38.9L46.3 36.3L45.7 34.4L47.1 33.9L45.9 33.1L43.8 32.3L43.0 31.0L41.3 29.4L40.1 28.6L38.4 26.9L36.4 26.1L35.1 25.8L33.2 25.0L30.6 24.8L28.1 24.3L26.0 24.4L23.6 25.4L24.0 24.0L22.3 24.8L21.1 26.1L19.0 27.3L16.9 28.3L14.5 29.0L12.6 29.3L14.9 28.3L16.5 27.7L18.6 26.1L17.4 25.9L14.9 25.9L14.9 24.8L12.4 24.2L11.6 23.2L12.8 22.4L15.7 21.9L15.7 21.1L12.4 21.1ZM88.4 9.8L92.6 8.3L97.5 6.8L107.4 6.2L119.8 5.4L128.1 5.8L132.2 6.6L134.7 7.2L133.0 8.3L132.2 10.8L133.0 12.4L130.6 14.1L128.5 14.9L130.6 16.1L127.3 17.8L122.3 18.2L118.2 20.0L115.7 20.7L114.0 22.8L112.8 24.8L110.7 24.4L108.7 24.0L106.6 21.9L105.0 19.9L104.1 18.2L106.6 17.0L103.7 16.1L103.3 14.5L100.8 12.0L95.0 11.6L90.9 11.3L89.2 10.3ZM95.0 23.3L95.9 21.9L97.9 19.5L95.9 18.4L92.6 17.0L90.1 15.7L85.9 14.2L82.6 13.4L78.5 13.4L74.8 14.1L74.4 15.3L78.5 16.6L82.6 16.7L85.1 17.8L88.0 18.6L88.4 20.3L84.7 21.1L87.2 21.3L90.1 22.5L93.4 23.2ZM64.9 17.4L62.0 17.5L57.8 17.7L54.5 17.5L52.1 16.7L53.7 15.7L50.8 15.3L51.2 14.3L54.5 14.1L57.8 14.2L61.2 13.8L62.4 15.3L65.3 16.1ZM45.5 14.9L47.1 15.6L49.2 15.1L51.6 14.2L53.3 13.7L51.6 13.0L48.3 12.8L45.9 13.1L46.3 14.1ZM76.0 11.2L82.6 11.4L84.3 10.8L86.8 9.5L89.2 8.7L95.0 7.5L97.5 6.2L90.9 5.8L82.6 5.8L76.9 6.6L73.5 7.5L76.0 8.3L76.9 9.5L75.2 10.3ZM82.6 12.7L77.7 12.8L72.7 12.7L72.3 11.6L69.4 10.9L75.2 11.3L78.5 11.8L81.8 11.8L83.1 12.4ZM76.9 9.1L73.5 9.7L70.2 8.7L71.1 7.5L74.4 7.9ZM71.9 14.9L69.8 14.5L69.8 13.2L73.5 13.2L74.0 14.1ZM68.6 14.9L65.3 14.9L64.5 13.7L67.4 13.3L68.6 14.1ZM61.2 12.4L57.8 12.7L54.5 12.6L52.5 11.8L56.2 11.3L59.5 11.4L61.6 11.8ZM67.8 12.4L65.3 12.3L63.2 11.6L66.1 11.0L67.8 11.6ZM82.4 21.7L80.2 22.4L77.7 21.8L76.9 21.1L78.1 19.9L79.7 20.0L78.9 20.7L81.0 21.1ZM99.7 35.0L102.9 35.8L105.0 35.8L105.2 35.1L104.5 34.3L102.6 33.3L102.9 31.9L101.6 32.3L101.0 33.5L99.8 34.5ZM46.9 34.4L45.5 34.2L42.7 32.5L43.8 32.4L45.5 33.1L46.7 33.9ZM40.5 31.5L38.8 30.0L39.8 29.7ZM78.5 56.5L80.2 55.5L82.2 55.4L85.1 56.6L87.4 57.8L84.7 58.0L84.3 57.4L82.6 56.5L81.0 56.0L79.3 56.4ZM87.3 59.3L88.8 58.0L90.9 58.1L92.2 59.1L90.5 59.4L89.5 59.8L88.4 59.4ZM84.0 59.4L85.7 59.4L85.7 59.7L84.5 59.8ZM93.2 59.2L94.5 59.3L94.4 59.6L93.2 59.6ZM92.1 118.0L92.4 118.6L94.9 119.8L92.6 120.3L90.1 120.0L89.2 119.4L90.5 118.9L90.7 118.2ZM98.3 117.4L101.0 117.0L100.4 117.7L98.8 117.7ZM128.7 20.2L130.6 19.5L133.9 19.8L136.5 19.7L137.5 20.5L136.4 21.3L133.5 22.0L130.6 21.7L130.2 20.9ZM157.8 9.5L161.1 10.8L162.8 11.1L165.3 9.7L167.8 9.7L170.2 8.7L171.1 8.1L165.3 7.8L158.7 8.4ZM191.3 15.3L192.5 16.0L196.3 16.0L194.6 14.5L195.9 13.2L199.2 12.0L205.4 10.9L203.3 10.8L198.3 11.3L194.6 12.3L192.5 13.7ZM187.2 7.9L190.9 8.2L191.7 7.7L188.4 7.5ZM227.3 9.1L231.4 9.8L235.5 9.5L234.7 8.7L231.4 8.1L228.1 7.5L224.8 8.0ZM262.0 12.2L265.3 13.4L267.8 12.4L272.7 12.3L269.4 11.8L264.4 11.5ZM296.3 15.8L297.5 15.8L297.5 15.3L296.7 15.3ZM0.0 15.8L2.1 15.7L1.7 15.3L0.0 15.3ZM0.0 17.5L2.5 18.0L5.8 19.0L8.3 19.7L7.9 20.3L6.2 21.1L4.1 20.9L3.3 20.3L1.2 19.6L0.0 20.4ZM170.1 15.6L171.9 15.7L174.4 16.3L173.5 16.7L176.0 17.1L178.5 17.2L182.6 18.6L182.6 19.3L181.8 19.7L177.7 19.5L175.6 19.0L177.5 21.1L179.3 21.7L180.2 21.3L182.2 21.0L181.8 19.9L185.1 19.9L184.5 17.7L186.8 18.0L186.8 19.0L188.4 18.5L192.5 18.0L193.4 17.5L197.5 17.8L199.2 16.7L202.1 17.2L204.9 18.0L204.1 17.0L204.0 15.7L206.6 14.1L208.7 14.5L208.2 15.7L208.7 18.2L208.2 19.6L209.9 19.0L210.7 17.4L209.9 15.3L210.7 14.5L213.2 14.7L214.9 14.7L216.9 15.9L217.3 14.9L215.7 13.7L220.6 12.4L223.1 12.0L229.7 11.4L234.9 10.2L238.0 11.0L242.5 11.4L237.2 13.7L239.7 13.2L242.1 13.4L246.3 13.9L251.2 13.5L253.7 14.5L255.4 15.7L258.7 15.3L262.8 15.3L264.4 14.3L269.4 14.7L272.7 15.3L275.2 15.9L281.0 16.8L282.6 16.9L287.6 16.7L289.2 17.4L289.6 16.6L294.2 16.7L297.5 17.5L297.5 20.5L296.3 21.1L295.4 20.9L296.9 22.8L293.4 23.3L290.9 24.0L289.5 24.8L285.9 24.8L284.3 25.0L283.5 26.7L283.7 28.0L282.5 29.0L281.0 30.5L279.7 31.3L278.2 32.3L277.5 30.6L277.4 29.0L277.7 27.3L279.3 26.3L281.4 25.0L283.5 23.2L281.0 24.0L278.1 23.8L276.8 25.3L274.4 25.7L272.7 25.2L269.0 25.4L266.5 25.5L264.4 26.9L262.0 29.8L262.8 30.0L265.3 30.4L264.7 32.3L264.9 34.4L263.2 36.0L260.7 37.8L258.7 39.1L257.0 39.2L255.9 40.1L255.8 41.4L254.1 41.8L254.9 43.0L255.7 44.3L255.5 45.4L254.1 45.8L253.1 45.9L253.3 44.3L253.5 43.3L252.0 43.0L252.3 41.8L251.5 41.4L249.3 42.2L249.6 40.9L248.7 40.7L247.5 41.6L246.3 42.1L246.0 42.6L247.1 43.5L248.6 43.2L250.0 43.7L248.7 44.3L247.3 45.5L248.3 46.8L249.4 48.2L249.5 49.0L248.3 49.4L249.6 49.8L249.2 51.1L247.9 52.6L247.1 53.8L245.9 54.8L244.6 55.5L243.2 56.0L242.1 56.3L240.5 56.9L239.9 57.7L239.5 56.7L238.2 56.6L237.0 57.5L236.2 58.8L237.2 60.4L238.6 61.7L239.1 63.7L238.8 65.0L237.2 65.9L236.8 66.6L235.5 67.3L235.5 66.2L234.3 65.7L233.5 64.6L232.2 64.0L231.8 63.3L231.4 64.2L230.8 65.8L231.4 67.0L231.8 68.5L233.0 69.4L234.2 70.8L234.3 72.4L234.9 73.3L234.2 73.3L232.5 72.2L231.7 69.9L231.1 69.0L230.0 67.6L230.1 65.8L230.3 64.2L229.6 62.5L229.4 60.8L228.1 60.6L227.5 61.4L226.7 61.2L226.8 59.6L226.0 58.1L224.8 56.7L224.6 55.9L223.5 56.3L222.3 56.5L220.6 56.9L220.5 57.7L219.0 58.4L216.9 60.4L215.1 61.7L215.0 63.5L214.8 65.0L214.3 66.0L214.0 66.8L213.4 67.2L212.8 67.8L211.8 66.4L211.0 64.6L210.3 62.5L209.5 60.8L208.9 58.8L208.8 57.1L208.5 56.5L207.4 57.3L205.8 56.0L206.6 55.6L205.2 55.0L204.1 54.0L203.7 53.5L200.0 53.6L197.5 53.5L196.0 52.6L195.4 52.1L193.8 52.5L192.1 51.7L190.7 50.5L190.1 49.5L189.1 49.3L188.4 50.2L189.1 51.3L190.1 52.4L190.3 53.2L191.1 52.9L191.3 54.2L193.4 54.5L195.2 52.8L195.4 54.2L197.3 55.0L198.2 55.9L197.1 57.5L196.5 58.8L194.6 60.0L191.9 61.3L189.2 62.7L185.9 63.9L184.7 64.0L184.1 62.5L183.9 60.8L182.2 58.4L181.0 56.7L179.7 54.4L178.1 51.7L177.5 51.1L177.7 50.1L177.1 51.5L176.0 50.5L175.6 49.7L176.4 51.5L178.1 54.6L179.5 57.1L179.6 58.8L180.6 59.6L181.4 61.7L182.8 62.5L184.4 64.2L184.5 65.0L185.5 65.9L187.6 65.3L191.1 64.7L190.7 67.0L188.8 70.4L186.8 72.4L184.7 74.5L183.0 76.0L181.8 77.4L181.0 79.5L181.4 81.1L182.2 83.2L182.4 86.5L181.4 88.2L179.3 89.2L177.7 91.1L178.1 92.7L178.0 94.4L176.0 95.6L175.9 96.8L174.4 99.2L172.3 101.4L170.2 102.5L167.3 102.8L165.3 103.3L164.0 102.8L163.6 101.4L162.4 98.1L161.1 96.4L160.7 93.1L159.1 89.4L158.5 87.7L159.9 84.8L159.7 82.0L158.8 79.5L158.5 78.2L156.4 75.7L156.4 73.7L156.8 71.6L155.9 70.8L154.1 70.9L152.9 69.7L152.3 69.3L150.8 69.3L149.6 69.6L147.1 70.5L145.0 70.2L142.6 70.9L140.9 69.7L139.2 68.8L137.8 67.5L137.6 66.4L136.4 65.4L134.9 64.2L134.3 62.3L135.1 61.3L135.3 58.8L134.7 57.1L135.5 54.9L136.8 52.8L138.4 51.3L140.5 50.1L140.7 48.4L141.7 46.9L143.1 46.3L143.9 44.9L144.4 44.8L147.1 45.4L148.8 44.8L151.2 44.0L154.5 43.9L157.0 43.6L157.8 43.9L157.4 45.1L157.0 46.4L157.8 47.0L159.5 47.3L161.4 47.8L162.0 48.6L163.6 49.3L165.3 48.8L165.3 47.6L166.9 47.3L169.4 48.3L172.7 48.9L174.4 48.4L175.4 48.7L177.0 48.6L177.7 47.3L178.3 45.5L178.5 44.0L176.8 44.5L175.2 44.5L174.0 44.0L172.7 44.3L171.5 43.9L170.6 42.6L170.6 41.8L170.4 41.2L170.2 40.7L168.6 40.7L168.4 41.4L167.6 41.1L167.8 42.2L168.6 43.0L167.8 43.5L167.8 44.3L166.7 44.0L166.3 43.0L165.3 41.6L164.8 40.6L164.9 39.7L162.8 38.9L161.1 37.7L160.2 37.2L160.1 36.7L158.9 37.0L159.1 38.1L160.3 39.5L162.0 39.9L164.0 41.3L162.6 41.4L162.9 42.2L161.7 43.0L161.8 41.4L160.6 40.7L158.9 40.0L157.4 38.9L157.0 38.1L156.0 37.7L154.9 38.2L153.7 38.8L152.1 38.5L151.3 39.3L151.4 39.9L149.4 40.7L148.5 41.8L148.9 42.5L148.2 43.4L147.1 44.0L145.0 44.1L144.1 44.7L143.5 44.1L142.7 43.7L141.4 43.9L141.5 42.6L140.9 42.4L141.5 40.6L141.1 38.9L142.1 38.3L144.6 38.4L147.1 38.6L147.7 37.7L147.8 36.4L146.9 35.4L145.0 34.8L144.9 34.4L147.4 34.2L147.3 33.4L148.9 33.5L150.1 32.4L151.6 32.0L152.5 31.0L152.9 30.4L154.5 30.1L155.9 29.9L155.9 28.6L155.5 27.3L157.5 26.7L157.3 27.7L157.0 28.6L156.8 29.1L157.8 29.6L159.1 29.5L160.5 29.8L162.4 29.4L164.0 29.1L165.1 29.5L166.1 28.7L166.1 27.5L167.3 26.7L168.6 27.2L168.9 26.2L168.2 25.5L169.4 25.2L171.9 25.2L173.5 24.8L172.3 24.3L170.2 24.5L167.8 24.9L166.4 24.2L166.4 23.2L166.5 22.2L169.0 20.9L169.7 20.3L168.7 20.0L166.9 20.3L166.4 21.1L165.7 21.8L163.9 22.5L163.0 23.6L163.0 24.3L164.3 24.8L163.8 25.5L162.6 26.1L162.4 27.3L162.0 28.0L160.6 28.5L159.4 28.6L159.2 28.0L158.5 26.7L158.0 25.7L157.5 25.0L156.6 25.7L154.5 26.5L153.3 25.8L152.9 24.4L152.9 23.2L154.5 22.5L155.8 21.9L157.4 21.3L159.1 19.9L160.7 18.6L161.1 18.0L163.2 17.2L164.5 16.7L166.9 16.3ZM189.5 84.4L190.5 87.3L189.7 89.0L188.4 92.7L187.6 95.2L185.9 95.6L184.7 94.0L184.5 92.3L185.4 91.1L185.1 88.6L186.8 87.5L188.4 85.7ZM144.0 33.0L145.9 32.8L149.9 32.1L150.2 30.8L148.9 30.5L147.7 29.0L147.1 28.1L147.1 26.8L146.0 26.0L144.6 26.0L143.8 27.1L144.2 28.3L144.6 29.1L146.1 29.4L146.3 30.3L145.0 30.5L145.3 31.3L144.5 31.6L146.1 32.0L145.0 32.3ZM140.5 31.8L142.1 31.7L143.5 31.3L143.8 30.2L144.1 29.3L143.4 28.8L142.0 28.8L140.5 29.6L141.1 30.5L140.2 31.3ZM159.1 43.0L161.6 42.9L161.2 44.1L159.2 43.5ZM155.5 42.2L155.6 40.6L156.7 40.6L156.7 42.1ZM155.9 39.3L156.5 38.9L156.6 40.1L156.0 40.1ZM168.2 45.1L170.5 45.4L169.0 45.6ZM175.4 45.5L177.3 45.0L176.7 45.7L175.9 45.9ZM214.7 66.6L215.0 66.4L216.3 68.3L215.7 69.4L214.9 69.5L214.6 67.9ZM238.6 58.5L240.1 57.9L240.5 58.4L239.2 59.4L238.6 59.1ZM248.0 55.5L248.7 53.6L249.6 53.8L249.2 55.5L248.6 56.3ZM256.9 46.4L258.2 45.1L260.7 45.0L261.7 43.7L263.2 43.5L264.4 41.8L264.4 41.0L265.5 40.2L265.7 41.1L266.1 41.8L265.3 43.0L265.1 44.0L264.9 45.1L264.3 45.5L263.5 45.8L262.0 45.9L261.8 46.2L261.0 46.8L260.3 45.9L258.7 46.1L257.0 46.4ZM256.2 46.8L257.4 46.6L257.7 47.3L257.0 48.7L256.3 48.6L256.2 47.6ZM258.2 46.5L259.9 46.2L259.7 46.9L258.7 47.3ZM264.4 40.1L264.7 38.7L265.8 36.9L266.9 37.7L268.8 37.9L269.0 38.7L267.3 39.7L265.7 39.2L265.3 40.0ZM266.1 36.4L267.3 35.8L266.9 33.9L268.2 33.9L267.1 31.5L266.9 29.6L266.1 30.2L266.1 33.1L266.1 34.8ZM248.3 59.2L249.7 59.2L249.6 60.8L249.2 62.1L251.2 63.7L250.4 63.2L248.7 63.2L248.3 62.5L247.9 61.3ZM249.6 68.7L250.8 67.4L252.5 66.4L253.3 67.9L253.0 69.3L252.5 69.8L251.2 69.1L250.8 68.3ZM251.5 64.2L252.5 64.3L252.5 66.0L251.8 66.1ZM249.6 64.7L250.6 65.0L250.6 66.9L250.0 66.5L249.6 65.8ZM245.6 67.5L247.5 65.1L247.3 66.0L246.0 67.5ZM238.8 73.3L239.4 72.8L240.7 72.4L242.1 71.9L243.8 70.4L245.3 68.7L246.0 69.1L247.3 70.1L246.3 70.9L246.1 72.0L247.1 73.7L246.1 73.8L245.9 75.2L245.0 76.2L244.6 77.8L243.4 77.8L242.5 77.2L241.1 77.4L239.8 76.8L238.8 74.9L238.8 74.1ZM227.5 69.9L229.3 70.2L231.4 72.0L232.6 72.8L234.3 74.3L235.1 76.0L236.3 77.0L236.2 79.3L235.1 79.3L233.3 77.8L231.8 75.5L230.3 73.1L228.5 71.4ZM235.7 80.1L236.9 79.5L238.4 79.9L240.3 79.8L241.9 80.2L243.4 80.9L243.4 81.7L240.5 81.4L238.0 81.0L236.7 80.6ZM247.4 79.1L247.6 77.4L246.9 76.8L247.8 74.3L248.6 73.4L250.4 73.7L252.2 73.2L251.6 74.2L248.7 74.1L248.1 75.2L249.2 75.2L250.6 75.2L250.1 75.8L249.2 76.1L249.8 77.2L250.6 78.2L250.0 79.0L249.2 78.3L248.7 76.8L248.2 77.0L248.2 79.1ZM257.0 75.2L258.2 74.8L259.5 75.2L260.3 77.2L262.4 75.8L265.3 76.7L268.2 77.6L269.4 79.1L270.9 79.5L270.2 80.1L271.5 82.0L273.4 83.0L271.1 82.9L269.4 81.3L267.8 80.9L266.9 82.1L265.3 82.1L263.6 81.3L262.8 81.4L263.5 80.3L262.8 79.1L260.7 78.2L258.7 77.8L258.5 76.8L259.5 76.4L257.8 76.3L257.0 75.7ZM271.5 79.1L273.1 79.1L274.5 78.0L274.4 78.8L272.7 79.7ZM250.8 83.0L252.0 81.6L253.9 81.5L252.0 82.6ZM243.8 81.3L245.4 81.4L247.1 81.5L248.7 81.5L250.4 81.4L248.7 81.9L246.3 81.9L244.6 81.9ZM254.1 73.7L254.5 72.8L255.1 73.7L254.5 75.2ZM254.5 77.0L256.8 77.1L255.4 77.4ZM242.7 93.1L243.0 92.5L245.0 91.6L247.1 91.1L249.2 90.2L249.8 88.6L250.8 88.8L251.6 87.7L252.9 86.1L254.5 86.8L255.8 86.8L256.8 84.8L258.2 84.0L260.3 84.6L261.8 84.6L261.1 85.7L260.7 86.9L262.4 87.7L264.0 89.0L265.3 88.6L265.8 86.1L265.9 84.8L266.5 83.4L267.3 84.8L267.6 86.3L268.8 86.9L269.4 89.0L270.2 90.5L271.9 91.5L273.4 93.5L275.2 95.2L275.6 97.7L275.2 100.2L273.9 102.1L273.1 103.9L272.7 105.4L270.6 106.0L269.7 106.8L268.4 106.0L267.3 106.6L265.3 106.0L264.2 104.7L263.2 103.9L262.8 101.8L262.6 101.5L261.1 103.3L260.7 103.3L259.5 101.7L257.4 100.6L255.4 100.7L252.9 101.2L251.2 101.8L250.8 102.6L247.9 102.6L246.3 103.5L244.6 103.3L243.8 102.9L244.4 101.0L243.8 99.3L243.1 97.3L242.4 96.0L242.7 94.2ZM268.3 108.3L269.8 108.5L271.2 108.3L271.2 109.4L270.4 110.5L269.4 110.5L268.7 109.5ZM291.5 103.0L292.8 103.9L293.8 104.7L294.2 105.6L296.1 105.7L295.7 106.9L295.0 107.1L294.4 108.4L293.4 108.9L293.2 107.6L292.4 107.0L293.1 106.0L292.8 104.7ZM291.5 108.0L292.7 108.9L291.7 110.3L290.3 111.2L289.8 112.6L288.0 113.1L286.5 112.6L287.6 111.2L289.6 109.9L290.7 108.9ZM284.3 91.2L286.8 93.0L286.1 92.9L284.3 91.7ZM19.8 58.8L20.7 58.4L20.0 57.8ZM295.3 89.0L296.3 89.0L296.2 89.6L295.4 89.6ZM194.2 7.8L197.1 7.9L197.5 7.5L195.0 7.4ZM273.4 76.7L274.8 77.6L275.2 78.4L274.5 77.8ZM278.1 80.1L280.1 81.1L281.8 82.4L282.5 83.2L281.0 82.4L278.9 81.1ZM286.4 86.9L287.0 87.6L286.9 88.2L286.5 87.6Z" fill="#d3d3d3" stroke="#000" stroke-width="0.75" stroke-linejoin="round"/>
<path d="M171.9 40.1L172.5 38.5L172.4 37.8L173.3 37.1L174.2 36.0L175.2 36.2L176.4 36.4L175.6 37.0L176.4 37.7L178.1 37.2L179.0 37.0L177.7 36.3L180.6 35.4L181.0 36.4L179.7 37.0L179.6 37.5L180.6 37.9L181.8 38.7L183.0 39.3L183.0 40.1L181.4 40.6L179.7 40.6L178.9 40.3L177.7 39.7L176.0 39.7L174.6 40.4L172.9 40.4ZM189.2 36.0L190.9 35.6L192.5 35.8L192.5 37.0L191.1 37.6L190.3 37.8L190.9 38.7L192.4 39.7L192.3 40.1L193.4 40.3L192.5 41.8L193.4 43.6L191.7 44.1L190.3 43.6L189.2 43.4L189.2 42.6L189.7 41.1L189.2 40.1L188.0 38.9L187.6 37.7L188.0 36.7Z" fill="#fff" stroke="#000" stroke-width="0.75" stroke-linejoin="round"/>
<path d="M49.6 0V149.0M99.2 0V149.0M148.8 0V149.0M198.3 0V149.0M247.9 0V149.0M0 24.8H297.5M0 49.7H297.5M0 74.5H297.5M0 99.3H297.5M0 124.2H297.5" fill="none" stroke="#b4b4b4" stroke-width="0.55" stroke-dasharray="1 1"/>
</g>
</g>
<g clip-path="url(#clipb)">
<polygon points="387.8,33.3 390.4,38.4 385.2,38.4" fill="#3b87c1"/><polygon points="388.3,35.0 390.9,40.0 385.8,40.0" fill="#9a0e14"/><polygon points="394.3,36.1 397.1,41.7 391.5,41.7" fill="#65000c" stroke="#000" stroke-width="1.1"/><rect x="393.6" y="38.9" width="1.5" height="1.5" fill="#b8121a"/><polygon points="413.8,32.0 416.4,26.9 411.2,26.9" fill="#3b87c1"/><polygon points="418.6,30.5 420.9,35.1 416.3,35.1" fill="#65000c" stroke="#000" stroke-width="1.1"/><polygon points="418.6,33.2 421.6,27.2 415.6,27.2" fill="#3b87c1"/><polygon points="425.8,37.4 428.4,32.3 423.2,32.3" fill="#b7d3e9"/><polygon points="422.8,39.5 425.4,34.4 420.2,34.4" fill="#0b3068"/><polygon points="419.6,39.0 422.4,44.6 416.8,44.6" fill="#65000c" stroke="#000" stroke-width="1.1"/><rect x="418.9" y="41.8" width="1.5" height="1.5" fill="#b8121a"/><polygon points="421.9,47.2 424.4,42.2 419.3,42.2" fill="#b7d3e9"/><polygon points="419.6,42.5 422.4,48.1 416.8,48.1" fill="#65000c" stroke="#000" stroke-width="1.1"/><rect x="418.9" y="45.3" width="1.5" height="1.5" fill="#b8121a"/><polygon points="424.9,43.3 427.7,48.9 422.1,48.9" fill="#65000c" stroke="#000" stroke-width="1.1"/><rect x="424.1" y="46.1" width="1.5" height="1.5" fill="#b8121a"/><polygon points="424.3,47.5 426.9,52.5 421.8,52.5" fill="#e4352b"/><polygon points="423.7,52.5 426.3,57.5 421.2,57.5" fill="#fbaa8d"/><polygon points="429.8,49.0 432.4,54.0 427.2,54.0" fill="#b7d3e9"/><polygon points="430.8,54.4 433.4,59.5 428.2,59.5" fill="#9a0e14"/><polygon points="432.4,39.3 434.9,44.4 429.8,44.4" fill="#9a0e14"/><polygon points="437.9,35.3 440.4,40.4 435.3,40.4" fill="#3b87c1"/><polygon points="436.3,41.7 439.1,36.1 433.5,36.1" fill="#0b3068" stroke="#000" stroke-width="1.1"/><rect x="435.6" y="37.5" width="1.5" height="1.5" fill="#1a4596"/><polygon points="435.9,48.1 438.1,43.7 433.7,43.7" fill="#3b87c1"/><polygon points="443.6,31.8 446.2,36.9 441.1,36.9" fill="#f55a41"/><polygon points="446.4,33.2 448.6,37.6 444.2,37.6" fill="#fbaa8d"/><polygon points="441.9,35.7 444.4,40.8 439.3,40.8" fill="#e4352b"/><polygon points="441.9,44.1 444.4,39.1 439.3,39.1" fill="#0b3068"/><polygon points="439.4,39.7 441.9,44.8 436.8,44.8" fill="#f55a41"/><polygon points="445.0,39.3 447.8,44.9 442.2,44.9" fill="#65000c" stroke="#000" stroke-width="1.1"/><rect x="444.2" y="42.1" width="1.5" height="1.5" fill="#b8121a"/><polygon points="440.5,48.8 443.1,43.7 437.9,43.7" fill="#3b87c1"/><polygon points="446.0,44.4 448.8,50.0 443.2,50.0" fill="#65000c" stroke="#000" stroke-width="1.1"/><rect x="445.2" y="47.2" width="1.5" height="1.5" fill="#b8121a"/><polygon points="450.3,43.7 452.9,48.8 447.8,48.8" fill="#fbaa8d"/><polygon points="444.0,55.3 446.6,60.4 441.4,60.4" fill="#fbaa8d"/><polygon points="444.9,63.5 447.4,58.5 442.3,58.5" fill="#3b87c1"/><polygon points="447.3,60.4 449.9,65.5 444.8,65.5" fill="#fa8566"/><polygon points="439.3,60.4 442.1,66.0 436.5,66.0" fill="#65000c" stroke="#000" stroke-width="1.1"/><rect x="438.6" y="63.2" width="1.5" height="1.5" fill="#b8121a"/><polygon points="441.4,65.2 444.2,70.8 438.6,70.8" fill="#9a0e14" stroke="#000" stroke-width="1.1"/><rect x="440.6" y="68.0" width="1.5" height="1.5" fill="#b8121a"/><polygon points="439.6,68.5 442.2,73.5 437.1,73.5" fill="#f55a41"/><polygon points="446.5,75.7 449.1,70.6 443.9,70.6" fill="#0b3068"/><polygon points="468.0,41.1 470.0,45.1 466.0,45.1" fill="#65000c" stroke="#000" stroke-width="1.1"/><polygon points="464.4,47.1 466.9,42.1 461.8,42.1" fill="#0b3068"/><polygon points="459.3,44.7 461.9,49.8 456.8,49.8" fill="#fa8566"/><polygon points="457.2,45.4 460.0,51.0 454.4,51.0" fill="#65000c" stroke="#000" stroke-width="1.1"/><rect x="456.5" y="48.2" width="1.5" height="1.5" fill="#b8121a"/><polygon points="460.8,48.0 464.0,54.4 457.6,54.4" fill="#fa8566"/><polygon points="464.9,54.0 468.2,47.4 461.6,47.4" fill="#0b3068" stroke="#000" stroke-width="1.1"/><rect x="464.1" y="49.2" width="1.5" height="1.5" fill="#1a4596"/><polygon points="469.0,47.9 471.8,53.5 466.2,53.5" fill="#65000c" stroke="#000" stroke-width="1.1"/><rect x="468.2" y="50.7" width="1.5" height="1.5" fill="#b8121a"/><polygon points="454.2,54.8 457.2,48.8 451.2,48.8" fill="#0b3068" stroke="#000" stroke-width="1.1"/><rect x="453.5" y="50.4" width="1.5" height="1.5" fill="#1a4596"/><polygon points="452.0,61.2 455.4,54.4 448.6,54.4" fill="#0b3068" stroke="#000" stroke-width="1.1"/><rect x="451.2" y="56.4" width="1.5" height="1.5" fill="#1a4596"/><polygon points="456.2,56.3 458.8,61.4 453.7,61.4" fill="#e4352b"/><polygon points="458.5,60.7 461.6,54.5 455.4,54.5" fill="#0b3068" stroke="#000" stroke-width="1.1"/><rect x="457.8" y="56.1" width="1.5" height="1.5" fill="#1a4596"/><polygon points="455.8,66.2 458.4,61.2 453.2,61.2" fill="#fbaa8d"/><polygon points="457.7,64.1 459.7,68.1 455.7,68.1" fill="#65000c" stroke="#000" stroke-width="1.1"/><polygon points="474.8,91.9 477.6,86.3 472.0,86.3" fill="#0b3068" stroke="#000" stroke-width="1.1"/><rect x="474.1" y="87.7" width="1.5" height="1.5" fill="#1a4596"/><polygon points="478.2,91.6 481.0,86.0 475.4,86.0" fill="#0b3068" stroke="#000" stroke-width="1.1"/><rect x="477.5" y="87.3" width="1.5" height="1.5" fill="#1a4596"/><polygon points="483.5,90.8 486.3,96.4 480.7,96.4" fill="#65000c" stroke="#000" stroke-width="1.1"/><rect x="482.8" y="93.6" width="1.5" height="1.5" fill="#b8121a"/><polygon points="488.6,93.0 491.2,98.0 486.1,98.0" fill="#f55a41"/><polygon points="465.1,97.2 467.9,102.8 462.3,102.8" fill="#65000c" stroke="#000" stroke-width="1.1"/><rect x="464.4" y="100.0" width="1.5" height="1.5" fill="#b8121a"/><polygon points="483.5,100.2 486.1,105.3 480.9,105.3" fill="#fa8566"/><polygon points="488.8,107.3 491.4,102.2 486.2,102.2" fill="#b7d3e9"/><polygon points="481.7,109.5 484.3,114.5 479.2,114.5" fill="#e4352b"/><polygon points="476.6,107.7 479.2,112.8 474.1,112.8" fill="#fbaa8d"/><polygon points="472.7,115.5 475.3,110.5 470.2,110.5" fill="#fbaa8d"/><polygon points="475.3,110.8 477.9,115.8 472.8,115.8" fill="#f55a41"/><polygon points="463.2,122.0 465.8,116.9 460.7,116.9" fill="#0b3068"/><polygon points="467.0,116.7 469.8,122.3 464.2,122.3" fill="#9a0e14" stroke="#000" stroke-width="1.1"/><rect x="466.2" y="119.5" width="1.5" height="1.5" fill="#b8121a"/><polygon points="463.4,120.3 466.2,125.9 460.6,125.9" fill="#65000c" stroke="#000" stroke-width="1.1"/><rect x="462.6" y="123.1" width="1.5" height="1.5" fill="#b8121a"/><polygon points="464.2,123.4 466.0,127.0 462.4,127.0" fill="#e4352b"/><polygon points="465.9,125.7 467.7,129.3 464.1,129.3" fill="#fbaa8d"/><polygon points="462.0,130.3 464.8,124.7 459.2,124.7" fill="#0b3068" stroke="#000" stroke-width="1.1"/><rect x="461.2" y="126.0" width="1.5" height="1.5" fill="#1a4596"/><polygon points="463.3,132.5 466.1,126.9 460.5,126.9" fill="#0b3068" stroke="#000" stroke-width="1.1"/><rect x="462.6" y="128.2" width="1.5" height="1.5" fill="#1a4596"/><polygon points="467.0,134.4 469.6,129.3 464.4,129.3" fill="#3b87c1"/><polygon points="548.0,32.9 550.5,27.8 545.5,27.8" fill="#0b3068"/><polygon points="552.0,32.9 554.5,27.8 549.5,27.8" fill="#0b3068"/><polygon points="548.0,37.0 550.5,31.9 545.5,31.9" fill="#3b87c1"/><polygon points="552.0,32.7 554.8,38.3 549.2,38.3" fill="#9a0e14" stroke="#000" stroke-width="1.1"/><rect x="551.2" y="35.5" width="1.5" height="1.5" fill="#b8121a"/><polygon points="555.6,35.3 558.4,40.9 552.8,40.9" fill="#65000c" stroke="#000" stroke-width="1.1"/><rect x="554.9" y="38.1" width="1.5" height="1.5" fill="#b8121a"/><polygon points="550.5,37.3 553.3,42.9 547.7,42.9" fill="#c2181c" stroke="#000" stroke-width="1.1"/><rect x="549.8" y="40.1" width="1.5" height="1.5" fill="#b8121a"/><polygon points="544.4,40.6 546.9,35.6 541.9,35.6" fill="#0b3068"/><polygon points="546.4,37.8 548.2,41.4 544.6,41.4" fill="#fbaa8d"/><polygon points="541.0,40.7 543.5,45.8 538.5,45.8" fill="#fbaa8d"/><polygon points="568.4,42.6 570.9,37.6 565.9,37.6" fill="#b7d3e9"/><polygon points="577.6,35.6 580.1,40.6 575.1,40.6" fill="#65000c"/><polygon points="530.6,50.6 533.4,45.0 527.8,45.0" fill="#0b3068" stroke="#000" stroke-width="1.1"/><rect x="529.9" y="46.4" width="1.5" height="1.5" fill="#1a4596"/><polygon points="533.1,51.1 535.9,45.5 530.3,45.5" fill="#0b3068" stroke="#000" stroke-width="1.1"/><rect x="532.4" y="46.9" width="1.5" height="1.5" fill="#1a4596"/><polygon points="532.6,49.1 535.4,54.7 529.8,54.7" fill="#9a0e14" stroke="#000" stroke-width="1.1"/><rect x="531.9" y="51.9" width="1.5" height="1.5" fill="#b8121a"/><polygon points="548.5,43.2 551.0,48.2 546.0,48.2" fill="#fbaa8d"/><polygon points="548.5,46.0 551.3,51.6 545.7,51.6" fill="#c2181c" stroke="#000" stroke-width="1.1"/><rect x="547.8" y="48.8" width="1.5" height="1.5" fill="#b8121a"/><polygon points="554.6,46.5 557.4,52.1 551.8,52.1" fill="#f55a41" stroke="#000" stroke-width="1.1"/><rect x="553.9" y="49.3" width="1.5" height="1.5" fill="#b8121a"/><polygon points="558.7,51.4 561.7,57.4 555.7,57.4" fill="#c2181c" stroke="#000" stroke-width="1.1"/><rect x="558.0" y="54.4" width="1.5" height="1.5" fill="#b8121a"/><polygon points="562.3,52.0 565.1,57.6 559.5,57.6" fill="#c2181c" stroke="#000" stroke-width="1.1"/><rect x="561.5" y="54.8" width="1.5" height="1.5" fill="#b8121a"/><polygon points="546.4,56.7 549.2,51.1 543.6,51.1" fill="#3b87c1" stroke="#000" stroke-width="1.1"/><rect x="545.6" y="52.5" width="1.5" height="1.5" fill="#1a4596"/><polygon points="547.4,52.7 550.2,58.3 544.6,58.3" fill="#c2181c" stroke="#000" stroke-width="1.1"/><rect x="546.6" y="55.5" width="1.5" height="1.5" fill="#b8121a"/><polygon points="551.0,53.0 553.5,58.0 548.5,58.0" fill="#fa8566"/><polygon points="540.3,50.9 542.8,56.0 537.8,56.0" fill="#fbaa8d"/><polygon points="576.8,53.4 579.6,59.0 574.0,59.0" fill="#c2181c" stroke="#000" stroke-width="1.1"/><rect x="576.0" y="56.2" width="1.5" height="1.5" fill="#b8121a"/><polygon points="551.0,58.6 553.5,63.6 548.5,63.6" fill="#e4352b"/><polygon points="562.8,58.6 565.3,63.6 560.2,63.6" fill="#fa8566"/><polygon points="549.5,59.9 552.0,65.0 547.0,65.0" fill="#f55a41"/><polygon points="552.3,59.4 554.8,64.5 549.8,64.5" fill="#f55a41"/><polygon points="562.8,59.4 565.3,64.5 560.2,64.5" fill="#fa8566"/><polygon points="566.7,60.4 569.2,65.5 564.2,65.5" fill="#fbaa8d"/><polygon points="579.6,64.9 582.1,70.0 577.1,70.0" fill="#fa8566"/><polygon points="585.2,68.5 588.0,74.1 582.4,74.1" fill="#65000c" stroke="#000" stroke-width="1.1"/><rect x="584.5" y="71.2" width="1.5" height="1.5" fill="#b8121a"/><polygon points="535.2,78.5 537.8,73.4 532.7,73.4" fill="#b7d3e9"/><polygon points="525.0,79.6 527.5,84.7 522.5,84.7" fill="#e4352b"/><polygon points="518.8,80.4 521.3,85.5 516.2,85.5" fill="#fa8566"/><polygon points="520.9,79.2 523.4,84.3 518.4,84.3" fill="#b7d3e9"/><polygon points="550.2,90.3 553.0,84.7 547.4,84.7" fill="#3b87c1" stroke="#000" stroke-width="1.1"/><rect x="549.5" y="86.0" width="1.5" height="1.5" fill="#1a4596"/><polygon points="531.1,86.7 532.9,90.3 529.3,90.3" fill="#b7d3e9"/><polygon points="544.4,107.6 546.9,112.7 541.9,112.7" fill="#e4352b"/><polygon points="546.4,111.2 548.9,106.1 543.9,106.1" fill="#3b87c1"/><polygon points="549.5,107.9 551.7,112.3 547.3,112.3" fill="#9a0e14"/><polygon points="550.8,110.9 552.6,107.3 549.0,107.3" fill="#0b3068"/><polygon points="559.2,103.2 562.0,108.8 556.4,108.8" fill="#65000c" stroke="#000" stroke-width="1.1"/><rect x="558.5" y="106.0" width="1.5" height="1.5" fill="#b8121a"/><polygon points="563.3,99.2 566.1,104.8 560.5,104.8" fill="#65000c" stroke="#000" stroke-width="1.1"/><rect x="562.5" y="102.0" width="1.5" height="1.5" fill="#b8121a"/><polygon points="600.3,33.4 602.8,28.3 597.8,28.3" fill="#0b3068"/><polygon points="600.8,30.2 603.6,35.8 598.0,35.8" fill="#65000c" stroke="#000" stroke-width="1.1"/><rect x="600.0" y="33.0" width="1.5" height="1.5" fill="#b8121a"/><polygon points="615.6,32.7 618.4,38.3 612.8,38.3" fill="#65000c" stroke="#000" stroke-width="1.1"/><rect x="614.9" y="35.5" width="1.5" height="1.5" fill="#b8121a"/><polygon points="616.6,39.4 619.4,45.0 613.8,45.0" fill="#65000c" stroke="#000" stroke-width="1.1"/><rect x="615.9" y="42.2" width="1.5" height="1.5" fill="#b8121a"/><polygon points="644.8,26.2 647.6,31.8 642.0,31.8" fill="#65000c" stroke="#000" stroke-width="1.1"/><rect x="644.0" y="28.9" width="1.5" height="1.5" fill="#b8121a"/><polygon points="587.3,40.2 590.1,45.8 584.5,45.8" fill="#65000c" stroke="#000" stroke-width="1.1"/><rect x="586.5" y="43.0" width="1.5" height="1.5" fill="#b8121a"/><polygon points="583.3,45.8 585.8,40.7 580.8,40.7" fill="#3b87c1"/><polygon points="591.4,44.8 593.9,39.7 588.9,39.7" fill="#b7d3e9"/><polygon points="585.9,50.9 588.4,45.8 583.4,45.8" fill="#3b87c1"/><polygon points="591.6,46.5 594.4,52.1 588.8,52.1" fill="#65000c" stroke="#000" stroke-width="1.1"/><rect x="590.9" y="49.3" width="1.5" height="1.5" fill="#b8121a"/><polygon points="590.1,48.4 592.6,53.5 587.6,53.5" fill="#fa8566"/><polygon points="594.2,49.6 597.0,55.2 591.4,55.2" fill="#c2181c" stroke="#000" stroke-width="1.1"/><rect x="593.5" y="52.4" width="1.5" height="1.5" fill="#b8121a"/><polygon points="595.5,50.9 598.0,45.8 593.0,45.8" fill="#3b87c1"/><polygon points="610.8,42.7 613.3,47.8 608.2,47.8" fill="#f55a41"/><polygon points="613.1,55.5 615.6,50.5 610.6,50.5" fill="#0b3068"/><polygon points="620.2,45.0 623.0,50.6 617.4,50.6" fill="#65000c" stroke="#000" stroke-width="1.1"/><rect x="619.5" y="47.8" width="1.5" height="1.5" fill="#b8121a"/><polygon points="619.2,49.9 621.8,55.0 616.7,55.0" fill="#c2181c"/><polygon points="625.3,51.7 628.1,46.1 622.5,46.1" fill="#0b3068" stroke="#000" stroke-width="1.1"/><rect x="624.5" y="47.5" width="1.5" height="1.5" fill="#1a4596"/><polygon points="627.5,52.4 630.3,46.8 624.7,46.8" fill="#3b87c1" stroke="#000" stroke-width="1.1"/><rect x="626.8" y="48.1" width="1.5" height="1.5" fill="#1a4596"/><polygon points="629.3,39.9 631.8,45.0 626.8,45.0" fill="#c2181c"/><polygon points="631.0,43.7 633.5,48.8 628.5,48.8" fill="#f55a41"/><polygon points="632.6,47.7 635.1,52.8 630.1,52.8" fill="#f55a41"/><polygon points="626.7,56.5 629.2,51.4 624.2,51.4" fill="#b7d3e9"/><polygon points="635.7,46.3 638.5,40.7 632.9,40.7" fill="#0b3068" stroke="#000" stroke-width="1.1"/><rect x="635.0" y="42.0" width="1.5" height="1.5" fill="#1a4596"/><polygon points="638.7,41.9 641.2,47.0 636.2,47.0" fill="#fbaa8d"/><polygon points="635.5,55.8 638.3,61.4 632.7,61.4" fill="#65000c" stroke="#000" stroke-width="1.1"/><rect x="634.8" y="58.6" width="1.5" height="1.5" fill="#b8121a"/><polygon points="639.1,54.0 641.6,59.0 636.6,59.0" fill="#fbaa8d"/><polygon points="600.3,53.3 602.8,58.4 597.8,58.4" fill="#fa8566"/><polygon points="598.2,54.0 600.8,59.0 595.7,59.0" fill="#fa8566"/><polygon points="603.4,55.8 606.2,61.4 600.6,61.4" fill="#65000c" stroke="#000" stroke-width="1.1"/><rect x="602.7" y="58.6" width="1.5" height="1.5" fill="#b8121a"/><polygon points="606.7,59.4 609.5,53.8 603.9,53.8" fill="#0b3068" stroke="#000" stroke-width="1.1"/><rect x="606.0" y="55.1" width="1.5" height="1.5" fill="#1a4596"/><polygon points="583.4,60.9 585.9,55.8 580.9,55.8" fill="#3b87c1"/><polygon points="583.8,58.0 586.6,63.6 581.0,63.6" fill="#65000c" stroke="#000" stroke-width="1.1"/><rect x="583.0" y="60.8" width="1.5" height="1.5" fill="#b8121a"/><polygon points="615.6,62.9 618.4,57.3 612.8,57.3" fill="#0b3068" stroke="#000" stroke-width="1.1"/><rect x="614.9" y="58.6" width="1.5" height="1.5" fill="#1a4596"/><polygon points="619.2,55.0 621.8,60.0 616.7,60.0" fill="#fbaa8d"/><polygon points="621.6,61.6 624.4,56.0 618.8,56.0" fill="#0b3068" stroke="#000" stroke-width="1.1"/><rect x="620.9" y="57.4" width="1.5" height="1.5" fill="#1a4596"/><polygon points="622.3,58.6 624.8,63.6 619.8,63.6" fill="#e4352b"/><polygon points="597.7,63.6 600.2,58.6 595.2,58.6" fill="#3b87c1"/><polygon points="590.1,59.9 592.6,65.0 587.6,65.0" fill="#fa8566"/><polygon points="592.1,63.5 594.6,58.4 589.6,58.4" fill="#3b87c1"/><polygon points="596.2,59.1 598.8,64.2 593.7,64.2" fill="#b7d3e9"/><polygon points="598.3,59.1 600.8,64.2 595.8,64.2" fill="#b7d3e9"/><polygon points="592.1,67.2 594.6,72.3 589.6,72.3" fill="#fa8566"/><polygon points="605.4,62.7 608.2,68.3 602.6,68.3" fill="#65000c" stroke="#000" stroke-width="1.1"/><rect x="604.7" y="65.5" width="1.5" height="1.5" fill="#b8121a"/><polygon points="608.0,64.7 610.8,70.3 605.2,70.3" fill="#c2181c" stroke="#000" stroke-width="1.1"/><rect x="607.2" y="67.5" width="1.5" height="1.5" fill="#b8121a"/><polygon points="604.7,70.3 607.5,75.9 601.9,75.9" fill="#65000c" stroke="#000" stroke-width="1.1"/><rect x="604.0" y="73.1" width="1.5" height="1.5" fill="#b8121a"/><polygon points="608.0,71.7 610.5,76.8 605.5,76.8" fill="#c2181c"/><polygon points="604.9,73.1 607.7,78.7 602.1,78.7" fill="#9a0e14" stroke="#000" stroke-width="1.1"/><rect x="604.2" y="75.9" width="1.5" height="1.5" fill="#b8121a"/><polygon points="604.7,77.5 607.5,83.1 601.9,83.1" fill="#f55a41" stroke="#000" stroke-width="1.1"/><rect x="604.0" y="80.2" width="1.5" height="1.5" fill="#b8121a"/><polygon points="605.9,90.0 608.5,85.0 603.4,85.0" fill="#0b3068"/><polygon points="615.6,64.7 618.4,59.1 612.8,59.1" fill="#3b87c1" stroke="#000" stroke-width="1.1"/><rect x="614.9" y="60.5" width="1.5" height="1.5" fill="#1a4596"/><polygon points="616.6,63.2 619.4,57.6 613.8,57.6" fill="#0b3068" stroke="#000" stroke-width="1.1"/><rect x="615.9" y="59.0" width="1.5" height="1.5" fill="#1a4596"/><polygon points="618.7,60.1 621.5,65.7 615.9,65.7" fill="#65000c" stroke="#000" stroke-width="1.1"/><rect x="618.0" y="62.9" width="1.5" height="1.5" fill="#b8121a"/><polygon points="622.8,59.7 625.0,64.1 620.6,64.1" fill="#fbaa8d"/><polygon points="621.2,60.6 624.0,66.2 618.4,66.2" fill="#65000c" stroke="#000" stroke-width="1.1"/><rect x="620.5" y="63.4" width="1.5" height="1.5" fill="#b8121a"/><polygon points="617.2,64.2 620.0,69.8 614.4,69.8" fill="#65000c" stroke="#000" stroke-width="1.1"/><rect x="616.5" y="67.0" width="1.5" height="1.5" fill="#b8121a"/><polygon points="622.8,73.4 625.6,79.0 620.0,79.0" fill="#65000c" stroke="#000" stroke-width="1.1"/><rect x="622.0" y="76.2" width="1.5" height="1.5" fill="#b8121a"/><polygon points="626.7,77.0 629.5,82.6 623.9,82.6" fill="#65000c" stroke="#000" stroke-width="1.1"/><rect x="626.0" y="79.8" width="1.5" height="1.5" fill="#b8121a"/><polygon points="636.0,92.5 638.5,87.4 633.5,87.4" fill="#3b87c1"/><polygon points="644.6,114.9 647.1,120.0 642.1,120.0" fill="#9a0e14"/><polygon points="644.6,116.3 645.0,117.4 646.2,117.5 645.2,118.2 645.6,119.4 644.6,118.7 643.6,119.4 644.0,118.2 643.0,117.5 644.2,117.4" fill="#000"/><polygon points="641.5,116.9 644.0,122.0 639.0,122.0" fill="#9a0e14"/><polygon points="644.1,119.7 646.9,125.3 641.3,125.3" fill="#9a0e14" stroke="#000" stroke-width="1.1"/><rect x="643.4" y="122.5" width="1.5" height="1.5" fill="#b8121a"/><polygon points="668.6,115.9 671.1,121.0 666.1,121.0" fill="#f55a41"/><polygon points="426.3,34.3 428.1,37.9 424.5,37.9" fill="#e4352b"/><polygon points="628.3,53.8 630.8,48.7 625.8,48.7" fill="#3b87c1"/><polygon points="595.7,48.0 597.9,52.4 593.5,52.4" fill="#fa8566"/><polygon points="592.8,63.0 595.3,57.9 590.2,57.9" fill="#3b87c1"/><polygon points="596.8,62.8 599.3,57.7 594.2,57.7" fill="#b7d3e9"/>
</g>
<rect x="374.3" y="12.5" width="297.5" height="149.0" fill="none" stroke="#444" stroke-width="1"/>
<g transform="translate(32.0 179.5)">
<rect x="0" y="0" width="297.5" height="149.0" fill="#fff"/>
<g clip-path="url(#clip)">
<path d="M0.0 144.3L8.3 144.5L16.5 144.9L24.8 144.7L27.3 142.4L22.3 140.7L14.0 139.6L18.2 138.4L24.8 138.2L28.1 137.2L33.1 136.6L37.2 136.2L41.3 136.0L45.5 135.6L49.6 135.8L53.7 135.8L57.8 136.2L62.0 136.2L64.5 136.6L66.1 134.9L70.2 134.8L74.4 134.8L78.5 134.9L82.6 134.9L86.8 134.1L89.2 131.6L92.6 130.4L94.2 129.1L96.7 127.9L99.2 127.3L101.6 126.9L100.4 127.9L98.8 129.1L97.5 130.8L97.9 132.4L98.3 134.5L98.8 136.2L97.5 137.0L94.2 137.8L90.1 138.7L85.1 139.9L82.6 141.1L86.8 142.4L95.0 143.0L100.8 142.8L107.4 142.0L112.4 142.2L115.7 141.1L119.0 139.9L119.8 139.1L121.5 138.2L125.6 137.4L128.1 136.6L132.2 135.3L136.4 134.8L138.8 134.1L142.1 133.7L144.6 133.7L148.8 133.7L152.9 133.1L157.0 132.9L161.1 132.4L165.3 132.7L169.4 132.7L173.5 131.9L176.0 131.4L177.7 131.9L180.2 132.3L181.8 131.5L185.9 130.5L190.1 130.0L192.5 129.1L195.9 129.7L198.3 130.3L202.5 130.5L204.9 130.8L206.2 132.0L204.9 133.3L204.5 134.5L206.2 134.5L207.8 133.1L209.9 132.3L213.2 131.2L214.9 130.6L219.0 129.8L223.1 129.5L227.3 129.4L231.4 129.0L235.5 129.4L239.7 129.1L243.8 129.5L247.9 129.8L252.0 129.4L256.2 129.1L260.3 129.1L264.4 129.7L268.6 130.0L272.7 131.0L276.8 131.6L281.0 132.4L285.1 133.1L289.2 133.7L289.2 134.9L285.9 136.2L283.5 137.4L283.5 139.1L281.0 140.3L281.8 141.6L285.9 142.8L290.9 143.7L297.5 144.3L297.5 149.0L0.0 149.0Z" fill="#d3d3d3" stroke="none"/>
<path d="M0.0 144.3L8.3 144.5L16.5 144.9L24.8 144.7L27.3 142.4L22.3 140.7L14.0 139.6L18.2 138.4L24.8 138.2L28.1 137.2L33.1 136.6L37.2 136.2L41.3 136.0L45.5 135.6L49.6 135.8L53.7 135.8L57.8 136.2L62.0 136.2L64.5 136.6L66.1 134.9L70.2 134.8L74.4 134.8L78.5 134.9L82.6 134.9L86.8 134.1L89.2 131.6L92.6 130.4L94.2 129.1L96.7 127.9L99.2 127.3L101.6 126.9L100.4 127.9L98.8 129.1L97.5 130.8L97.9 132.4L98.3 134.5L98.8 136.2L97.5 137.0L94.2 137.8L90.1 138.7L85.1 139.9L82.6 141.1L86.8 142.4L95.0 143.0L100.8 142.8L107.4 142.0L112.4 142.2L115.7 141.1L119.0 139.9L119.8 139.1L121.5 138.2L125.6 137.4L128.1 136.6L132.2 135.3L136.4 134.8L138.8 134.1L142.1 133.7L144.6 133.7L148.8 133.7L152.9 133.1L157.0 132.9L161.1 132.4L165.3 132.7L169.4 132.7L173.5 131.9L176.0 131.4L177.7 131.9L180.2 132.3L181.8 131.5L185.9 130.5L190.1 130.0L192.5 129.1L195.9 129.7L198.3 130.3L202.5 130.5L204.9 130.8L206.2 132.0L204.9 133.3L204.5 134.5L206.2 134.5L207.8 133.1L209.9 132.3L213.2 131.2L214.9 130.6L219.0 129.8L223.1 129.5L227.3 129.4L231.4 129.0L235.5 129.4L239.7 129.1L243.8 129.5L247.9 129.8L252.0 129.4L256.2 129.1L260.3 129.1L264.4 129.7L268.6 130.0L272.7 131.0L276.8 131.6L281.0 132.4L285.1 133.1L289.2 133.7L289.2 134.9L285.9 136.2L283.5 137.4L283.5 139.1L281.0 140.3L281.8 141.6L285.9 142.8L290.9 143.7L297.5 144.3" fill="none" stroke="#000" stroke-width="0.75"/>
<path d="M9.9 20.3L11.6 18.0L14.9 16.6L19.4 15.5L24.8 16.1L32.2 16.8L37.2 17.4L43.0 16.4L46.3 17.0L52.1 17.4L53.7 18.2L59.5 18.2L64.5 18.2L68.6 17.8L70.2 14.9L72.7 17.0L76.0 17.8L78.5 16.7L81.4 17.4L81.0 19.0L77.7 19.9L76.9 21.1L71.9 23.2L70.7 25.7L72.3 27.3L76.0 27.7L78.5 28.7L80.7 29.0L81.0 31.0L82.2 32.1L83.5 31.6L83.5 29.4L85.1 27.7L84.3 25.9L84.7 24.4L84.3 22.8L88.0 23.0L90.9 24.0L91.3 25.7L93.4 26.2L95.0 24.6L95.9 26.1L97.9 27.7L99.2 29.0L101.2 29.8L102.5 31.0L100.0 32.7L95.9 32.9L93.4 33.5L90.9 35.2L92.6 34.1L95.4 33.9L95.0 35.2L95.4 36.3L97.9 36.6L99.2 36.0L98.3 37.1L95.9 37.8L94.2 38.5L94.2 37.4L93.4 37.2L90.9 38.3L90.5 39.7L90.9 40.0L89.2 40.4L87.6 40.9L87.4 41.8L86.4 43.0L85.9 43.9L86.2 45.1L84.7 46.1L83.1 47.2L81.8 48.2L81.6 49.7L82.6 52.1L82.4 53.6L81.4 53.4L80.4 51.5L80.3 50.1L79.3 49.7L78.1 49.8L76.4 49.4L74.8 49.5L74.8 50.3L73.1 50.2L71.1 50.0L69.0 51.1L68.3 53.0L68.0 55.9L69.2 58.4L70.7 59.4L72.7 59.1L73.9 57.9L74.1 57.1L76.9 56.7L76.4 58.8L75.9 60.0L75.6 61.4L77.7 61.3L79.7 61.9L79.7 64.2L79.6 65.4L80.6 66.8L81.8 67.2L83.1 66.6L84.7 67.3L85.3 67.9L86.4 65.8L88.4 65.0L89.7 64.2L89.7 65.6L90.9 64.7L92.6 65.7L95.9 66.0L97.5 65.6L98.3 67.0L100.4 68.7L101.6 69.5L104.1 69.7L105.8 70.5L107.0 72.8L107.4 74.5L108.7 75.3L111.6 76.0L112.4 76.7L114.9 76.9L116.9 77.6L119.6 78.8L120.0 80.7L119.6 82.4L118.2 84.0L116.9 85.3L116.5 87.7L116.1 89.8L115.0 91.9L114.0 93.5L112.0 93.7L110.3 94.5L108.7 96.0L108.5 97.9L107.0 100.0L105.4 101.8L104.3 103.0L102.1 103.3L100.5 102.6L101.6 104.3L101.2 106.0L97.5 106.8L97.3 108.3L95.0 108.4L96.1 109.7L94.8 110.5L94.6 111.8L93.0 112.6L94.4 113.8L93.0 115.5L91.7 116.7L92.2 117.8L90.1 119.0L88.0 118.0L86.8 115.9L87.2 113.4L88.4 110.9L88.0 108.9L88.0 106.0L88.8 103.9L89.7 101.0L89.7 97.7L90.5 94.4L90.7 91.1L90.6 89.6L89.2 88.6L86.8 87.2L85.7 85.9L84.7 84.0L83.5 81.1L81.8 79.5L81.6 78.1L82.6 77.2L82.0 76.4L82.2 74.9L82.6 73.8L83.6 73.3L84.7 71.4L84.7 69.1L84.4 68.5L84.0 67.6L83.1 67.2L82.4 68.3L81.4 68.1L80.2 67.6L79.6 67.3L78.5 66.2L77.8 65.4L76.4 63.7L75.6 63.6L73.5 63.0L72.3 62.2L70.7 61.1L69.0 61.5L66.9 60.8L64.9 60.0L62.8 58.8L61.6 57.7L61.7 56.7L60.7 55.0L59.1 53.6L58.3 52.4L57.0 51.3L55.8 50.1L55.2 48.7L54.0 48.3L54.0 49.7L55.4 51.3L56.6 53.0L57.6 54.5L58.3 55.4L57.6 55.2L56.2 54.0L55.9 52.8L54.3 51.7L54.3 50.7L53.1 49.4L52.1 47.6L50.8 46.4L49.1 45.9L48.0 44.2L47.5 43.2L46.4 41.8L46.0 41.1L46.1 38.9L46.3 36.3L45.7 34.4L47.1 33.9L45.9 33.1L43.8 32.3L43.0 31.0L41.3 29.4L40.1 28.6L38.4 26.9L36.4 26.1L35.1 25.8L33.2 25.0L30.6 24.8L28.1 24.3L26.0 24.4L23.6 25.4L24.0 24.0L22.3 24.8L21.1 26.1L19.0 27.3L16.9 28.3L14.5 29.0L12.6 29.3L14.9 28.3L16.5 27.7L18.6 26.1L17.4 25.9L14.9 25.9L14.9 24.8L12.4 24.2L11.6 23.2L12.8 22.4L15.7 21.9L15.7 21.1L12.4 21.1ZM88.4 9.8L92.6 8.3L97.5 6.8L107.4 6.2L119.8 5.4L128.1 5.8L132.2 6.6L134.7 7.2L133.0 8.3L132.2 10.8L133.0 12.4L130.6 14.1L128.5 14.9L130.6 16.1L127.3 17.8L122.3 18.2L118.2 20.0L115.7 20.7L114.0 22.8L112.8 24.8L110.7 24.4L108.7 24.0L106.6 21.9L105.0 19.9L104.1 18.2L106.6 17.0L103.7 16.1L103.3 14.5L100.8 12.0L95.0 11.6L90.9 11.3L89.2 10.3ZM95.0 23.3L95.9 21.9L97.9 19.5L95.9 18.4L92.6 17.0L90.1 15.7L85.9 14.2L82.6 13.4L78.5 13.4L74.8 14.1L74.4 15.3L78.5 16.6L82.6 16.7L85.1 17.8L88.0 18.6L88.4 20.3L84.7 21.1L87.2 21.3L90.1 22.5L93.4 23.2ZM64.9 17.4L62.0 17.5L57.8 17.7L54.5 17.5L52.1 16.7L53.7 15.7L50.8 15.3L51.2 14.3L54.5 14.1L57.8 14.2L61.2 13.8L62.4 15.3L65.3 16.1ZM45.5 14.9L47.1 15.6L49.2 15.1L51.6 14.2L53.3 13.7L51.6 13.0L48.3 12.8L45.9 13.1L46.3 14.1ZM76.0 11.2L82.6 11.4L84.3 10.8L86.8 9.5L89.2 8.7L95.0 7.5L97.5 6.2L90.9 5.8L82.6 5.8L76.9 6.6L73.5 7.5L76.0 8.3L76.9 9.5L75.2 10.3ZM82.6 12.7L77.7 12.8L72.7 12.7L72.3 11.6L69.4 10.9L75.2 11.3L78.5 11.8L81.8 11.8L83.1 12.4ZM76.9 9.1L73.5 9.7L70.2 8.7L71.1 7.5L74.4 7.9ZM71.9 14.9L69.8 14.5L69.8 13.2L73.5 13.2L74.0 14.1ZM68.6 14.9L65.3 14.9L64.5 13.7L67.4 13.3L68.6 14.1ZM61.2 12.4L57.8 12.7L54.5 12.6L52.5 11.8L56.2 11.3L59.5 11.4L61.6 11.8ZM67.8 12.4L65.3 12.3L63.2 11.6L66.1 11.0L67.8 11.6ZM82.4 21.7L80.2 22.4L77.7 21.8L76.9 21.1L78.1 19.9L79.7 20.0L78.9 20.7L81.0 21.1ZM99.7 35.0L102.9 35.8L105.0 35.8L105.2 35.1L104.5 34.3L102.6 33.3L102.9 31.9L101.6 32.3L101.0 33.5L99.8 34.5ZM46.9 34.4L45.5 34.2L42.7 32.5L43.8 32.4L45.5 33.1L46.7 33.9ZM40.5 31.5L38.8 30.0L39.8 29.7ZM78.5 56.5L80.2 55.5L82.2 55.4L85.1 56.6L87.4 57.8L84.7 58.0L84.3 57.4L82.6 56.5L81.0 56.0L79.3 56.4ZM87.3 59.3L88.8 58.0L90.9 58.1L92.2 59.1L90.5 59.4L89.5 59.8L88.4 59.4ZM84.0 59.4L85.7 59.4L85.7 59.7L84.5 59.8ZM93.2 59.2L94.5 59.3L94.4 59.6L93.2 59.6ZM92.1 118.0L92.4 118.6L94.9 119.8L92.6 120.3L90.1 120.0L89.2 119.4L90.5 118.9L90.7 118.2ZM98.3 117.4L101.0 117.0L100.4 117.7L98.8 117.7ZM128.7 20.2L130.6 19.5L133.9 19.8L136.5 19.7L137.5 20.5L136.4 21.3L133.5 22.0L130.6 21.7L130.2 20.9ZM157.8 9.5L161.1 10.8L162.8 11.1L165.3 9.7L167.8 9.7L170.2 8.7L171.1 8.1L165.3 7.8L158.7 8.4ZM191.3 15.3L192.5 16.0L196.3 16.0L194.6 14.5L195.9 13.2L199.2 12.0L205.4 10.9L203.3 10.8L198.3 11.3L194.6 12.3L192.5 13.7ZM187.2 7.9L190.9 8.2L191.7 7.7L188.4 7.5ZM227.3 9.1L231.4 9.8L235.5 9.5L234.7 8.7L231.4 8.1L228.1 7.5L224.8 8.0ZM262.0 12.2L265.3 13.4L267.8 12.4L272.7 12.3L269.4 11.8L264.4 11.5ZM296.3 15.8L297.5 15.8L297.5 15.3L296.7 15.3ZM0.0 15.8L2.1 15.7L1.7 15.3L0.0 15.3ZM0.0 17.5L2.5 18.0L5.8 19.0L8.3 19.7L7.9 20.3L6.2 21.1L4.1 20.9L3.3 20.3L1.2 19.6L0.0 20.4ZM170.1 15.6L171.9 15.7L174.4 16.3L173.5 16.7L176.0 17.1L178.5 17.2L182.6 18.6L182.6 19.3L181.8 19.7L177.7 19.5L175.6 19.0L177.5 21.1L179.3 21.7L180.2 21.3L182.2 21.0L181.8 19.9L185.1 19.9L184.5 17.7L186.8 18.0L186.8 19.0L188.4 18.5L192.5 18.0L193.4 17.5L197.5 17.8L199.2 16.7L202.1 17.2L204.9 18.0L204.1 17.0L204.0 15.7L206.6 14.1L208.7 14.5L208.2 15.7L208.7 18.2L208.2 19.6L209.9 19.0L210.7 17.4L209.9 15.3L210.7 14.5L213.2 14.7L214.9 14.7L216.9 15.9L217.3 14.9L215.7 13.7L220.6 12.4L223.1 12.0L229.7 11.4L234.9 10.2L238.0 11.0L242.5 11.4L237.2 13.7L239.7 13.2L242.1 13.4L246.3 13.9L251.2 13.5L253.7 14.5L255.4 15.7L258.7 15.3L262.8 15.3L264.4 14.3L269.4 14.7L272.7 15.3L275.2 15.9L281.0 16.8L282.6 16.9L287.6 16.7L289.2 17.4L289.6 16.6L294.2 16.7L297.5 17.5L297.5 20.5L296.3 21.1L295.4 20.9L296.9 22.8L293.4 23.3L290.9 24.0L289.5 24.8L285.9 24.8L284.3 25.0L283.5 26.7L283.7 28.0L282.5 29.0L281.0 30.5L279.7 31.3L278.2 32.3L277.5 30.6L277.4 29.0L277.7 27.3L279.3 26.3L281.4 25.0L283.5 23.2L281.0 24.0L278.1 23.8L276.8 25.3L274.4 25.7L272.7 25.2L269.0 25.4L266.5 25.5L264.4 26.9L262.0 29.8L262.8 30.0L265.3 30.4L264.7 32.3L264.9 34.4L263.2 36.0L260.7 37.8L258.7 39.1L257.0 39.2L255.9 40.1L255.8 41.4L254.1 41.8L254.9 43.0L255.7 44.3L255.5 45.4L254.1 45.8L253.1 45.9L253.3 44.3L253.5 43.3L252.0 43.0L252.3 41.8L251.5 41.4L249.3 42.2L249.6 40.9L248.7 40.7L247.5 41.6L246.3 42.1L246.0 42.6L247.1 43.5L248.6 43.2L250.0 43.7L248.7 44.3L247.3 45.5L248.3 46.8L249.4 48.2L249.5 49.0L248.3 49.4L249.6 49.8L249.2 51.1L247.9 52.6L247.1 53.8L245.9 54.8L244.6 55.5L243.2 56.0L242.1 56.3L240.5 56.9L239.9 57.7L239.5 56.7L238.2 56.6L237.0 57.5L236.2 58.8L237.2 60.4L238.6 61.7L239.1 63.7L238.8 65.0L237.2 65.9L236.8 66.6L235.5 67.3L235.5 66.2L234.3 65.7L233.5 64.6L232.2 64.0L231.8 63.3L231.4 64.2L230.8 65.8L231.4 67.0L231.8 68.5L233.0 69.4L234.2 70.8L234.3 72.4L234.9 73.3L234.2 73.3L232.5 72.2L231.7 69.9L231.1 69.0L230.0 67.6L230.1 65.8L230.3 64.2L229.6 62.5L229.4 60.8L228.1 60.6L227.5 61.4L226.7 61.2L226.8 59.6L226.0 58.1L224.8 56.7L224.6 55.9L223.5 56.3L222.3 56.5L220.6 56.9L220.5 57.7L219.0 58.4L216.9 60.4L215.1 61.7L215.0 63.5L214.8 65.0L214.3 66.0L214.0 66.8L213.4 67.2L212.8 67.8L211.8 66.4L211.0 64.6L210.3 62.5L209.5 60.8L208.9 58.8L208.8 57.1L208.5 56.5L207.4 57.3L205.8 56.0L206.6 55.6L205.2 55.0L204.1 54.0L203.7 53.5L200.0 53.6L197.5 53.5L196.0 52.6L195.4 52.1L193.8 52.5L192.1 51.7L190.7 50.5L190.1 49.5L189.1 49.3L188.4 50.2L189.1 51.3L190.1 52.4L190.3 53.2L191.1 52.9L191.3 54.2L193.4 54.5L195.2 52.8L195.4 54.2L197.3 55.0L198.2 55.9L197.1 57.5L196.5 58.8L194.6 60.0L191.9 61.3L189.2 62.7L185.9 63.9L184.7 64.0L184.1 62.5L183.9 60.8L182.2 58.4L181.0 56.7L179.7 54.4L178.1 51.7L177.5 51.1L177.7 50.1L177.1 51.5L176.0 50.5L175.6 49.7L176.4 51.5L178.1 54.6L179.5 57.1L179.6 58.8L180.6 59.6L181.4 61.7L182.8 62.5L184.4 64.2L184.5 65.0L185.5 65.9L187.6 65.3L191.1 64.7L190.7 67.0L188.8 70.4L186.8 72.4L184.7 74.5L183.0 76.0L181.8 77.4L181.0 79.5L181.4 81.1L182.2 83.2L182.4 86.5L181.4 88.2L179.3 89.2L177.7 91.1L178.1 92.7L178.0 94.4L176.0 95.6L175.9 96.8L174.4 99.2L172.3 101.4L170.2 102.5L167.3 102.8L165.3 103.3L164.0 102.8L163.6 101.4L162.4 98.1L161.1 96.4L160.7 93.1L159.1 89.4L158.5 87.7L159.9 84.8L159.7 82.0L158.8 79.5L158.5 78.2L156.4 75.7L156.4 73.7L156.8 71.6L155.9 70.8L154.1 70.9L152.9 69.7L152.3 69.3L150.8 69.3L149.6 69.6L147.1 70.5L145.0 70.2L142.6 70.9L140.9 69.7L139.2 68.8L137.8 67.5L137.6 66.4L136.4 65.4L134.9 64.2L134.3 62.3L135.1 61.3L135.3 58.8L134.7 57.1L135.5 54.9L136.8 52.8L138.4 51.3L140.5 50.1L140.7 48.4L141.7 46.9L143.1 46.3L143.9 44.9L144.4 44.8L147.1 45.4L148.8 44.8L151.2 44.0L154.5 43.9L157.0 43.6L157.8 43.9L157.4 45.1L157.0 46.4L157.8 47.0L159.5 47.3L161.4 47.8L162.0 48.6L163.6 49.3L165.3 48.8L165.3 47.6L166.9 47.3L169.4 48.3L172.7 48.9L174.4 48.4L175.4 48.7L177.0 48.6L177.7 47.3L178.3 45.5L178.5 44.0L176.8 44.5L175.2 44.5L174.0 44.0L172.7 44.3L171.5 43.9L170.6 42.6L170.6 41.8L170.4 41.2L170.2 40.7L168.6 40.7L168.4 41.4L167.6 41.1L167.8 42.2L168.6 43.0L167.8 43.5L167.8 44.3L166.7 44.0L166.3 43.0L165.3 41.6L164.8 40.6L164.9 39.7L162.8 38.9L161.1 37.7L160.2 37.2L160.1 36.7L158.9 37.0L159.1 38.1L160.3 39.5L162.0 39.9L164.0 41.3L162.6 41.4L162.9 42.2L161.7 43.0L161.8 41.4L160.6 40.7L158.9 40.0L157.4 38.9L157.0 38.1L156.0 37.7L154.9 38.2L153.7 38.8L152.1 38.5L151.3 39.3L151.4 39.9L149.4 40.7L148.5 41.8L148.9 42.5L148.2 43.4L147.1 44.0L145.0 44.1L144.1 44.7L143.5 44.1L142.7 43.7L141.4 43.9L141.5 42.6L140.9 42.4L141.5 40.6L141.1 38.9L142.1 38.3L144.6 38.4L147.1 38.6L147.7 37.7L147.8 36.4L146.9 35.4L145.0 34.8L144.9 34.4L147.4 34.2L147.3 33.4L148.9 33.5L150.1 32.4L151.6 32.0L152.5 31.0L152.9 30.4L154.5 30.1L155.9 29.9L155.9 28.6L155.5 27.3L157.5 26.7L157.3 27.7L157.0 28.6L156.8 29.1L157.8 29.6L159.1 29.5L160.5 29.8L162.4 29.4L164.0 29.1L165.1 29.5L166.1 28.7L166.1 27.5L167.3 26.7L168.6 27.2L168.9 26.2L168.2 25.5L169.4 25.2L171.9 25.2L173.5 24.8L172.3 24.3L170.2 24.5L167.8 24.9L166.4 24.2L166.4 23.2L166.5 22.2L169.0 20.9L169.7 20.3L168.7 20.0L166.9 20.3L166.4 21.1L165.7 21.8L163.9 22.5L163.0 23.6L163.0 24.3L164.3 24.8L163.8 25.5L162.6 26.1L162.4 27.3L162.0 28.0L160.6 28.5L159.4 28.6L159.2 28.0L158.5 26.7L158.0 25.7L157.5 25.0L156.6 25.7L154.5 26.5L153.3 25.8L152.9 24.4L152.9 23.2L154.5 22.5L155.8 21.9L157.4 21.3L159.1 19.9L160.7 18.6L161.1 18.0L163.2 17.2L164.5 16.7L166.9 16.3ZM189.5 84.4L190.5 87.3L189.7 89.0L188.4 92.7L187.6 95.2L185.9 95.6L184.7 94.0L184.5 92.3L185.4 91.1L185.1 88.6L186.8 87.5L188.4 85.7ZM144.0 33.0L145.9 32.8L149.9 32.1L150.2 30.8L148.9 30.5L147.7 29.0L147.1 28.1L147.1 26.8L146.0 26.0L144.6 26.0L143.8 27.1L144.2 28.3L144.6 29.1L146.1 29.4L146.3 30.3L145.0 30.5L145.3 31.3L144.5 31.6L146.1 32.0L145.0 32.3ZM140.5 31.8L142.1 31.7L143.5 31.3L143.8 30.2L144.1 29.3L143.4 28.8L142.0 28.8L140.5 29.6L141.1 30.5L140.2 31.3ZM159.1 43.0L161.6 42.9L161.2 44.1L159.2 43.5ZM155.5 42.2L155.6 40.6L156.7 40.6L156.7 42.1ZM155.9 39.3L156.5 38.9L156.6 40.1L156.0 40.1ZM168.2 45.1L170.5 45.4L169.0 45.6ZM175.4 45.5L177.3 45.0L176.7 45.7L175.9 45.9ZM214.7 66.6L215.0 66.4L216.3 68.3L215.7 69.4L214.9 69.5L214.6 67.9ZM238.6 58.5L240.1 57.9L240.5 58.4L239.2 59.4L238.6 59.1ZM248.0 55.5L248.7 53.6L249.6 53.8L249.2 55.5L248.6 56.3ZM256.9 46.4L258.2 45.1L260.7 45.0L261.7 43.7L263.2 43.5L264.4 41.8L264.4 41.0L265.5 40.2L265.7 41.1L266.1 41.8L265.3 43.0L265.1 44.0L264.9 45.1L264.3 45.5L263.5 45.8L262.0 45.9L261.8 46.2L261.0 46.8L260.3 45.9L258.7 46.1L257.0 46.4ZM256.2 46.8L257.4 46.6L257.7 47.3L257.0 48.7L256.3 48.6L256.2 47.6ZM258.2 46.5L259.9 46.2L259.7 46.9L258.7 47.3ZM264.4 40.1L264.7 38.7L265.8 36.9L266.9 37.7L268.8 37.9L269.0 38.7L267.3 39.7L265.7 39.2L265.3 40.0ZM266.1 36.4L267.3 35.8L266.9 33.9L268.2 33.9L267.1 31.5L266.9 29.6L266.1 30.2L266.1 33.1L266.1 34.8ZM248.3 59.2L249.7 59.2L249.6 60.8L249.2 62.1L251.2 63.7L250.4 63.2L248.7 63.2L248.3 62.5L247.9 61.3ZM249.6 68.7L250.8 67.4L252.5 66.4L253.3 67.9L253.0 69.3L252.5 69.8L251.2 69.1L250.8 68.3ZM251.5 64.2L252.5 64.3L252.5 66.0L251.8 66.1ZM249.6 64.7L250.6 65.0L250.6 66.9L250.0 66.5L249.6 65.8ZM245.6 67.5L247.5 65.1L247.3 66.0L246.0 67.5ZM238.8 73.3L239.4 72.8L240.7 72.4L242.1 71.9L243.8 70.4L245.3 68.7L246.0 69.1L247.3 70.1L246.3 70.9L246.1 72.0L247.1 73.7L246.1 73.8L245.9 75.2L245.0 76.2L244.6 77.8L243.4 77.8L242.5 77.2L241.1 77.4L239.8 76.8L238.8 74.9L238.8 74.1ZM227.5 69.9L229.3 70.2L231.4 72.0L232.6 72.8L234.3 74.3L235.1 76.0L236.3 77.0L236.2 79.3L235.1 79.3L233.3 77.8L231.8 75.5L230.3 73.1L228.5 71.4ZM235.7 80.1L236.9 79.5L238.4 79.9L240.3 79.8L241.9 80.2L243.4 80.9L243.4 81.7L240.5 81.4L238.0 81.0L236.7 80.6ZM247.4 79.1L247.6 77.4L246.9 76.8L247.8 74.3L248.6 73.4L250.4 73.7L252.2 73.2L251.6 74.2L248.7 74.1L248.1 75.2L249.2 75.2L250.6 75.2L250.1 75.8L249.2 76.1L249.8 77.2L250.6 78.2L250.0 79.0L249.2 78.3L248.7 76.8L248.2 77.0L248.2 79.1ZM257.0 75.2L258.2 74.8L259.5 75.2L260.3 77.2L262.4 75.8L265.3 76.7L268.2 77.6L269.4 79.1L270.9 79.5L270.2 80.1L271.5 82.0L273.4 83.0L271.1 82.9L269.4 81.3L267.8 80.9L266.9 82.1L265.3 82.1L263.6 81.3L262.8 81.4L263.5 80.3L262.8 79.1L260.7 78.2L258.7 77.8L258.5 76.8L259.5 76.4L257.8 76.3L257.0 75.7ZM271.5 79.1L273.1 79.1L274.5 78.0L274.4 78.8L272.7 79.7ZM250.8 83.0L252.0 81.6L253.9 81.5L252.0 82.6ZM243.8 81.3L245.4 81.4L247.1 81.5L248.7 81.5L250.4 81.4L248.7 81.9L246.3 81.9L244.6 81.9ZM254.1 73.7L254.5 72.8L255.1 73.7L254.5 75.2ZM254.5 77.0L256.8 77.1L255.4 77.4ZM242.7 93.1L243.0 92.5L245.0 91.6L247.1 91.1L249.2 90.2L249.8 88.6L250.8 88.8L251.6 87.7L252.9 86.1L254.5 86.8L255.8 86.8L256.8 84.8L258.2 84.0L260.3 84.6L261.8 84.6L261.1 85.7L260.7 86.9L262.4 87.7L264.0 89.0L265.3 88.6L265.8 86.1L265.9 84.8L266.5 83.4L267.3 84.8L267.6 86.3L268.8 86.9L269.4 89.0L270.2 90.5L271.9 91.5L273.4 93.5L275.2 95.2L275.6 97.7L275.2 100.2L273.9 102.1L273.1 103.9L272.7 105.4L270.6 106.0L269.7 106.8L268.4 106.0L267.3 106.6L265.3 106.0L264.2 104.7L263.2 103.9L262.8 101.8L262.6 101.5L261.1 103.3L260.7 103.3L259.5 101.7L257.4 100.6L255.4 100.7L252.9 101.2L251.2 101.8L250.8 102.6L247.9 102.6L246.3 103.5L244.6 103.3L243.8 102.9L244.4 101.0L243.8 99.3L243.1 97.3L242.4 96.0L242.7 94.2ZM268.3 108.3L269.8 108.5L271.2 108.3L271.2 109.4L270.4 110.5L269.4 110.5L268.7 109.5ZM291.5 103.0L292.8 103.9L293.8 104.7L294.2 105.6L296.1 105.7L295.7 106.9L295.0 107.1L294.4 108.4L293.4 108.9L293.2 107.6L292.4 107.0L293.1 106.0L292.8 104.7ZM291.5 108.0L292.7 108.9L291.7 110.3L290.3 111.2L289.8 112.6L288.0 113.1L286.5 112.6L287.6 111.2L289.6 109.9L290.7 108.9ZM284.3 91.2L286.8 93.0L286.1 92.9L284.3 91.7ZM19.8 58.8L20.7 58.4L20.0 57.8ZM295.3 89.0L296.3 89.0L296.2 89.6L295.4 89.6ZM194.2 7.8L197.1 7.9L197.5 7.5L195.0 7.4ZM273.4 76.7L274.8 77.6L275.2 78.4L274.5 77.8ZM278.1 80.1L280.1 81.1L281.8 82.4L282.5 83.2L281.0 82.4L278.9 81.1ZM286.4 86.9L287.0 87.6L286.9 88.2L286.5 87.6Z" fill="#d3d3d3" stroke="#000" stroke-width="0.75" stroke-linejoin="round"/>
<path d="M171.9 40.1L172.5 38.5L172.4 37.8L173.3 37.1L174.2 36.0L175.2 36.2L176.4 36.4L175.6 37.0L176.4 37.7L178.1 37.2L179.0 37.0L177.7 36.3L180.6 35.4L181.0 36.4L179.7 37.0L179.6 37.5L180.6 37.9L181.8 38.7L183.0 39.3L183.0 40.1L181.4 40.6L179.7 40.6L178.9 40.3L177.7 39.7L176.0 39.7L174.6 40.4L172.9 40.4ZM189.2 36.0L190.9 35.6L192.5 35.8L192.5 37.0L191.1 37.6L190.3 37.8L190.9 38.7L192.4 39.7L192.3 40.1L193.4 40.3L192.5 41.8L193.4 43.6L191.7 44.1L190.3 43.6L189.2 43.4L189.2 42.6L189.7 41.1L189.2 40.1L188.0 38.9L187.6 37.7L188.0 36.7Z" fill="#fff" stroke="#000" stroke-width="0.75" stroke-linejoin="round"/>
<path d="M49.6 0V149.0M99.2 0V149.0M148.8 0V149.0M198.3 0V149.0M247.9 0V149.0M0 24.8H297.5M0 49.7H297.5M0 74.5H297.5M0 99.3H297.5M0 124.2H297.5" fill="none" stroke="#b4b4b4" stroke-width="0.55" stroke-dasharray="1 1"/>
</g>
</g>
<g clip-path="url(#clipc)">
<polygon points="46.5,202.9 48.4,206.7 44.6,206.7" fill="#e4352b"/><polygon points="52.6,202.5 55.4,208.1 49.8,208.1" fill="#65000c" stroke="#000" stroke-width="1.1"/><rect x="51.9" y="205.2" width="1.5" height="1.5" fill="#b8121a"/><polygon points="71.7,194.5 74.2,199.7 69.2,199.7" fill="#fa8566"/><polygon points="76.9,196.1 79.7,201.7 74.1,201.7" fill="#65000c" stroke="#000" stroke-width="1.1"/><rect x="76.2" y="198.8" width="1.5" height="1.5" fill="#b8121a"/><polygon points="83.9,198.8 86.5,203.9 81.4,203.9" fill="#c2181c"/><polygon points="80.7,201.9 83.2,207.1 78.2,207.1" fill="#e4352b"/><polygon points="76.4,206.2 78.2,209.8 74.6,209.8" fill="#b7d3e9"/><polygon points="77.5,206.8 80.0,211.9 75.0,211.9" fill="#fa8566"/><polygon points="80.2,211.2 82.8,216.3 77.7,216.3" fill="#fa8566"/><polygon points="77.5,210.3 80.3,215.9 74.7,215.9" fill="#65000c" stroke="#000" stroke-width="1.1"/><rect x="76.8" y="213.0" width="1.5" height="1.5" fill="#b8121a"/><polygon points="82.8,209.5 85.6,215.1 80.0,215.1" fill="#65000c" stroke="#000" stroke-width="1.1"/><rect x="82.0" y="212.2" width="1.5" height="1.5" fill="#b8121a"/><polygon points="82.2,214.4 84.2,218.4 80.2,218.4" fill="#fbaa8d"/><polygon points="87.4,216.1 90.0,221.2 84.9,221.2" fill="#f55a41"/><polygon points="81.6,219.4 84.2,224.6 79.1,224.6" fill="#fa8566"/><polygon points="88.9,221.4 91.5,226.6 86.4,226.6" fill="#fa8566"/><polygon points="101.4,198.2 104.2,203.8 98.6,203.8" fill="#65000c" stroke="#000" stroke-width="1.1"/><rect x="100.7" y="200.9" width="1.5" height="1.5" fill="#b8121a"/><polygon points="104.5,200.3 106.5,204.3 102.5,204.3" fill="#c2181c"/><polygon points="93.3,202.1 95.8,207.2 90.8,207.2" fill="#fbaa8d"/><polygon points="96.2,202.9 98.0,206.5 94.4,206.5" fill="#3b87c1"/><polygon points="90.9,206.2 93.5,211.3 88.4,211.3" fill="#c2181c"/><polygon points="94.4,205.6 97.0,210.8 91.9,210.8" fill="#f55a41"/><polygon points="97.9,210.8 100.7,205.2 95.1,205.2" fill="#0b3068" stroke="#000" stroke-width="1.1"/><rect x="97.2" y="206.6" width="1.5" height="1.5" fill="#1a4596"/><polygon points="100.5,204.4 103.0,209.6 98.0,209.6" fill="#3b87c1"/><polygon points="93.3,210.5 95.8,215.7 90.8,215.7" fill="#e4352b"/><polygon points="99.5,209.9 102.0,215.1 97.0,215.1" fill="#fbaa8d"/><polygon points="104.5,214.5 107.6,208.3 101.4,208.3" fill="#0b3068"/><polygon points="108.5,215.1 111.6,208.9 105.4,208.9" fill="#0b3068"/><polygon points="101.6,225.7 104.2,220.5 99.1,220.5" fill="#b7d3e9"/><polygon points="102.7,223.2 105.2,228.3 100.2,228.3" fill="#fbaa8d"/><polygon points="97.3,227.3 99.8,232.4 94.8,232.4" fill="#c2181c"/><polygon points="104.1,226.3 106.9,231.9 101.3,231.9" fill="#65000c" stroke="#000" stroke-width="1.1"/><rect x="103.4" y="229.0" width="1.5" height="1.5" fill="#b8121a"/><polygon points="106.9,226.8 109.5,231.9 104.4,231.9" fill="#fa8566"/><polygon points="99.1,232.1 101.7,237.2 96.6,237.2" fill="#c2181c"/><polygon points="97.2,235.8 99.8,240.9 94.7,240.9" fill="#fa8566"/><polygon points="104.6,238.6 107.2,243.8 102.1,243.8" fill="#f55a41"/><polygon points="125.7,212.2 128.2,207.0 123.2,207.0" fill="#3b87c1"/><polygon points="122.3,210.0 124.8,215.2 119.8,215.2" fill="#fbaa8d"/><polygon points="117.2,211.1 119.8,216.2 114.7,216.2" fill="#f55a41"/><polygon points="119.7,213.1 122.2,218.2 117.2,218.2" fill="#e4352b"/><polygon points="114.6,213.6 117.2,218.8 112.1,218.8" fill="#fa8566"/><polygon points="118.2,216.2 120.8,221.3 115.7,221.3" fill="#e4352b"/><polygon points="122.3,215.5 125.1,221.1 119.5,221.1" fill="#65000c" stroke="#000" stroke-width="1.1"/><rect x="121.5" y="218.2" width="1.5" height="1.5" fill="#b8121a"/><polygon points="125.9,212.4 128.7,218.0 123.1,218.0" fill="#65000c" stroke="#000" stroke-width="1.1"/><rect x="125.2" y="215.1" width="1.5" height="1.5" fill="#b8121a"/><polygon points="127.4,215.5 130.2,221.1 124.6,221.1" fill="#f55a41" stroke="#000" stroke-width="1.1"/><rect x="126.7" y="218.2" width="1.5" height="1.5" fill="#b8121a"/><polygon points="112.6,216.7 115.2,221.8 110.1,221.8" fill="#fbaa8d"/><polygon points="110.5,222.1 113.3,227.7 107.7,227.7" fill="#65000c" stroke="#000" stroke-width="1.1"/><rect x="109.8" y="224.8" width="1.5" height="1.5" fill="#b8121a"/><polygon points="114.6,223.6 117.4,229.2 111.8,229.2" fill="#65000c" stroke="#000" stroke-width="1.1"/><rect x="113.9" y="226.3" width="1.5" height="1.5" fill="#b8121a"/><polygon points="113.7,229.0 115.7,233.0 111.7,233.0" fill="#e4352b"/><polygon points="135.9,252.6 138.7,258.2 133.1,258.2" fill="#65000c" stroke="#000" stroke-width="1.1"/><rect x="135.1" y="255.3" width="1.5" height="1.5" fill="#b8121a"/><polygon points="132.8,254.3 135.3,259.4 130.2,259.4" fill="#fa8566"/><polygon points="141.5,257.8 144.3,263.4 138.7,263.4" fill="#65000c" stroke="#000" stroke-width="1.1"/><rect x="140.8" y="260.6" width="1.5" height="1.5" fill="#b8121a"/><polygon points="146.5,259.1 149.3,264.7 143.7,264.7" fill="#65000c" stroke="#000" stroke-width="1.1"/><rect x="145.8" y="261.8" width="1.5" height="1.5" fill="#b8121a"/><polygon points="123.0,263.7 125.8,269.3 120.2,269.3" fill="#65000c" stroke="#000" stroke-width="1.1"/><rect x="122.2" y="266.4" width="1.5" height="1.5" fill="#b8121a"/><polygon points="141.5,267.2 144.1,272.3 138.9,272.3" fill="#f55a41"/><polygon points="146.5,269.2 149.3,274.8 143.7,274.8" fill="#65000c" stroke="#000" stroke-width="1.1"/><rect x="145.8" y="271.9" width="1.5" height="1.5" fill="#b8121a"/><polygon points="134.6,273.8 137.4,279.4 131.8,279.4" fill="#65000c" stroke="#000" stroke-width="1.1"/><rect x="133.8" y="276.6" width="1.5" height="1.5" fill="#b8121a"/><polygon points="139.6,275.9 142.2,281.1 137.0,281.1" fill="#c2181c"/><polygon points="130.4,282.3 132.9,277.2 127.8,277.2" fill="#3b87c1"/><polygon points="133.5,282.3 136.1,277.2 130.9,277.2" fill="#0b3068"/><polygon points="120.8,287.8 123.3,282.7 118.2,282.7" fill="#3b87c1"/><polygon points="121.2,290.1 123.8,284.9 118.7,284.9" fill="#b7d3e9"/><polygon points="124.7,283.8 127.5,289.4 121.9,289.4" fill="#9a0e14" stroke="#000" stroke-width="1.1"/><rect x="124.0" y="286.6" width="1.5" height="1.5" fill="#b8121a"/><polygon points="122.1,294.8 124.7,289.7 119.6,289.7" fill="#b7d3e9"/><polygon points="120.5,293.2 123.0,298.3 118.0,298.3" fill="#c2181c"/><polygon points="124.7,297.0 127.5,302.6 121.9,302.6" fill="#c2181c" stroke="#000" stroke-width="1.1"/><rect x="124.0" y="299.7" width="1.5" height="1.5" fill="#b8121a"/><polygon points="207.4,199.9 209.9,194.8 204.8,194.8" fill="#3b87c1"/><polygon points="210.5,199.9 213.1,194.8 207.9,194.8" fill="#b7d3e9"/><polygon points="205.9,197.9 208.4,203.1 203.3,203.1" fill="#fa8566"/><polygon points="206.9,199.7 209.7,205.3 204.1,205.3" fill="#9a0e14" stroke="#000" stroke-width="1.1"/><rect x="206.1" y="202.4" width="1.5" height="1.5" fill="#b8121a"/><polygon points="209.9,199.2 212.7,204.8 207.1,204.8" fill="#65000c" stroke="#000" stroke-width="1.1"/><rect x="209.1" y="201.9" width="1.5" height="1.5" fill="#b8121a"/><polygon points="213.5,202.5 216.1,207.7 210.9,207.7" fill="#f55a41"/><polygon points="207.9,204.0 210.4,209.2 205.3,209.2" fill="#c2181c"/><polygon points="202.8,208.2 205.3,203.0 200.2,203.0" fill="#b7d3e9"/><polygon points="198.9,211.4 201.4,206.3 196.3,206.3" fill="#3b87c1"/><polygon points="226.3,204.5 228.8,209.7 223.7,209.7" fill="#fa8566"/><polygon points="235.4,202.8 237.9,207.9 232.8,207.9" fill="#f55a41"/><polygon points="188.3,213.0 191.1,218.6 185.5,218.6" fill="#65000c" stroke="#000" stroke-width="1.1"/><rect x="187.5" y="215.7" width="1.5" height="1.5" fill="#b8121a"/><polygon points="190.5,215.8 193.1,221.0 187.9,221.0" fill="#e4352b" stroke="#000" stroke-width="1.1"/><rect x="189.8" y="218.3" width="1.5" height="1.5" fill="#b8121a"/><polygon points="197.9,217.6 200.7,223.2 195.1,223.2" fill="#65000c" stroke="#000" stroke-width="1.1"/><rect x="197.1" y="220.3" width="1.5" height="1.5" fill="#b8121a"/><polygon points="206.4,210.7 208.9,215.8 203.8,215.8" fill="#c2181c"/><polygon points="205.9,214.0 208.7,219.6 203.1,219.6" fill="#c2181c" stroke="#000" stroke-width="1.1"/><rect x="205.1" y="216.7" width="1.5" height="1.5" fill="#b8121a"/><polygon points="212.5,213.5 215.3,219.1 209.7,219.1" fill="#65000c" stroke="#000" stroke-width="1.1"/><rect x="211.8" y="216.2" width="1.5" height="1.5" fill="#b8121a"/><polygon points="204.8,218.8 207.3,223.9 202.2,223.9" fill="#fbaa8d"/><polygon points="208.4,223.9 210.9,218.8 205.8,218.8" fill="#3b87c1"/><polygon points="213.5,219.9 216.1,225.1 210.9,225.1" fill="#f55a41"/><polygon points="216.6,224.2 219.4,218.6 213.8,218.6" fill="#3b87c1" stroke="#000" stroke-width="1.1"/><rect x="215.8" y="219.9" width="1.5" height="1.5" fill="#1a4596"/><polygon points="218.1,220.7 220.9,226.3 215.3,226.3" fill="#65000c" stroke="#000" stroke-width="1.1"/><rect x="217.3" y="223.4" width="1.5" height="1.5" fill="#b8121a"/><polygon points="219.7,217.7 221.9,222.1 217.5,222.1" fill="#fbaa8d"/><polygon points="234.2,219.4 236.8,224.6 231.6,224.6" fill="#9a0e14"/><polygon points="241.4,207.1 243.9,212.2 238.8,212.2" fill="#f55a41"/><polygon points="244.8,211.0 246.8,207.0 242.8,207.0" fill="#3b87c1"/><polygon points="243.7,213.2 246.2,218.3 241.1,218.3" fill="#f55a41"/><polygon points="241.5,227.9 244.1,222.8 238.9,222.8" fill="#b7d3e9"/><polygon points="241.7,225.1 244.2,230.2 239.1,230.2" fill="#fbaa8d"/><polygon points="208.9,225.5 211.4,230.7 206.3,230.7" fill="#fa8566"/><polygon points="220.7,225.4 223.5,231.0 217.9,231.0" fill="#65000c" stroke="#000" stroke-width="1.1"/><rect x="219.9" y="228.1" width="1.5" height="1.5" fill="#b8121a"/><polygon points="224.4,227.0 227.2,232.6 221.6,232.6" fill="#65000c" stroke="#000" stroke-width="1.1"/><rect x="223.6" y="229.7" width="1.5" height="1.5" fill="#b8121a"/><polygon points="208.4,226.7 210.9,231.8 205.8,231.8" fill="#fa8566"/><polygon points="237.9,234.8 239.7,231.2 236.1,231.2" fill="#b7d3e9"/><polygon points="243.4,235.4 245.9,240.6 240.8,240.6" fill="#e4352b"/><polygon points="249.9,234.6 251.7,238.2 248.1,238.2" fill="#b7d3e9"/><polygon points="248.1,226.4 250.7,231.6 245.5,231.6" fill="#e4352b"/><polygon points="254.5,225.5 257.5,231.5 251.5,231.5" fill="#65000c" stroke="#000" stroke-width="1.1"/><rect x="253.8" y="228.4" width="1.5" height="1.5" fill="#b8121a"/><polygon points="253.0,217.4 255.8,223.0 250.2,223.0" fill="#65000c" stroke="#000" stroke-width="1.1"/><rect x="252.2" y="220.1" width="1.5" height="1.5" fill="#b8121a"/><polygon points="192.7,244.8 195.2,239.7 190.1,239.7" fill="#b7d3e9"/><polygon points="177.4,246.8 180.2,252.4 174.6,252.4" fill="#e4352b" stroke="#000" stroke-width="1.1"/><rect x="176.6" y="249.5" width="1.5" height="1.5" fill="#b8121a"/><polygon points="177.2,245.4 178.8,248.6 175.6,248.6" fill="#3b87c1"/><polygon points="182.9,245.9 185.7,251.5 180.1,251.5" fill="#65000c" stroke="#000" stroke-width="1.1"/><rect x="182.1" y="248.6" width="1.5" height="1.5" fill="#b8121a"/><polygon points="189.0,251.5 191.8,257.1 186.2,257.1" fill="#c2181c" stroke="#000" stroke-width="1.1"/><rect x="188.2" y="254.2" width="1.5" height="1.5" fill="#b8121a"/><polygon points="208.0,253.0 210.2,257.4 205.8,257.4" fill="#fbaa8d"/><polygon points="202.9,274.2 205.4,279.3 200.3,279.3" fill="#9a0e14"/><polygon points="208.0,279.3 210.0,275.3 206.0,275.3" fill="#b7d3e9"/><polygon points="217.3,270.1 219.8,275.2 214.7,275.2" fill="#c2181c"/><polygon points="221.0,266.6 223.0,270.6 219.0,270.6" fill="#fbaa8d"/><polygon points="258.2,196.2 261.0,201.8 255.4,201.8" fill="#65000c" stroke="#000" stroke-width="1.1"/><rect x="257.4" y="198.9" width="1.5" height="1.5" fill="#b8121a"/><polygon points="273.5,199.5 276.3,205.1 270.7,205.1" fill="#65000c" stroke="#000" stroke-width="1.1"/><rect x="272.8" y="202.2" width="1.5" height="1.5" fill="#b8121a"/><polygon points="302.6,197.4 305.1,192.3 300.0,192.3" fill="#fbaa8d"/><polygon points="246.2,207.8 248.2,211.8 244.2,211.8" fill="#fa8566"/><polygon points="245.2,211.8 247.8,206.6 242.6,206.6" fill="#3b87c1"/><polygon points="249.3,211.8 251.8,206.6 246.7,206.6" fill="#3b87c1"/><polygon points="243.9,213.2 246.4,218.3 241.3,218.3" fill="#f55a41"/><polygon points="248.0,219.3 250.6,214.2 245.4,214.2" fill="#3b87c1"/><polygon points="253.1,212.7 255.7,217.8 250.5,217.8" fill="#f55a41"/><polygon points="252.8,217.1 255.6,222.7 250.0,222.7" fill="#65000c" stroke="#000" stroke-width="1.1"/><rect x="252.0" y="219.8" width="1.5" height="1.5" fill="#b8121a"/><polygon points="256.1,224.5 258.1,220.5 254.1,220.5" fill="#3b87c1"/><polygon points="258.5,218.9 260.5,222.9 256.5,222.9" fill="#b7d3e9"/><polygon points="261.6,221.9 264.1,227.1 259.0,227.1" fill="#f55a41"/><polygon points="263.8,220.9 266.4,226.1 261.2,226.1" fill="#fa8566"/><polygon points="268.7,214.2 271.2,209.1 266.1,209.1" fill="#3b87c1"/><polygon points="274.0,206.7 276.0,210.7 272.0,210.7" fill="#b7d3e9"/><polygon points="277.9,216.1 280.7,210.5 275.1,210.5" fill="#0b3068" stroke="#000" stroke-width="1.1"/><rect x="277.1" y="211.8" width="1.5" height="1.5" fill="#1a4596"/><polygon points="271.0,217.8 273.6,222.9 268.4,222.9" fill="#fbaa8d"/><polygon points="277.3,215.8 279.9,220.9 274.8,220.9" fill="#fbaa8d"/><polygon points="287.3,206.4 290.1,212.0 284.5,212.0" fill="#65000c" stroke="#000" stroke-width="1.1"/><rect x="286.6" y="209.1" width="1.5" height="1.5" fill="#b8121a"/><polygon points="290.4,218.8 292.9,213.7 287.8,213.7" fill="#3b87c1"/><polygon points="283.2,215.3 285.2,219.3 281.2,219.3" fill="#e4352b"/><polygon points="285.3,216.6 288.1,222.2 282.5,222.2" fill="#c2181c" stroke="#000" stroke-width="1.1"/><rect x="284.6" y="219.3" width="1.5" height="1.5" fill="#b8121a"/><polygon points="294.0,208.5 296.2,212.9 291.8,212.9" fill="#fbaa8d"/><polygon points="296.5,209.1 299.1,214.2 293.9,214.2" fill="#fbaa8d"/><polygon points="293.4,222.2 296.2,227.8 290.6,227.8" fill="#65000c" stroke="#000" stroke-width="1.1"/><rect x="292.6" y="224.9" width="1.5" height="1.5" fill="#b8121a"/><polygon points="297.0,221.7 299.8,227.3 294.2,227.3" fill="#65000c" stroke="#000" stroke-width="1.1"/><rect x="296.2" y="224.4" width="1.5" height="1.5" fill="#b8121a"/><polygon points="278.1,222.6 281.1,228.6 275.1,228.6" fill="#65000c" stroke="#000" stroke-width="1.1"/><rect x="277.3" y="225.5" width="1.5" height="1.5" fill="#b8121a"/><polygon points="279.6,226.5 281.6,230.5 277.6,230.5" fill="#f55a41"/><polygon points="274.7,230.0 276.9,225.6 272.5,225.6" fill="#0b3068"/><polygon points="274.0,227.3 276.6,232.4 271.4,232.4" fill="#e4352b"/><polygon points="280.7,226.1 283.5,231.7 277.9,231.7" fill="#65000c" stroke="#000" stroke-width="1.1"/><rect x="279.9" y="228.8" width="1.5" height="1.5" fill="#b8121a"/><polygon points="248.5,225.5 251.1,230.7 245.9,230.7" fill="#e4352b"/><polygon points="237.2,235.6 239.8,230.4 234.6,230.4" fill="#b7d3e9"/><polygon points="242.9,236.0 245.4,241.2 240.3,241.2" fill="#e4352b"/><polygon points="250.0,224.6 251.8,228.2 248.2,228.2" fill="#b7d3e9"/><polygon points="265.9,234.8 268.7,229.2 263.1,229.2" fill="#0b3068" stroke="#000" stroke-width="1.1"/><rect x="265.1" y="230.6" width="1.5" height="1.5" fill="#1a4596"/><polygon points="264.8,230.7 267.6,236.3 262.0,236.3" fill="#65000c" stroke="#000" stroke-width="1.1"/><rect x="264.1" y="233.4" width="1.5" height="1.5" fill="#b8121a"/><polygon points="263.3,237.3 266.1,242.9 260.5,242.9" fill="#65000c" stroke="#000" stroke-width="1.1"/><rect x="262.6" y="240.0" width="1.5" height="1.5" fill="#b8121a"/><polygon points="265.9,237.9 268.7,243.5 263.1,243.5" fill="#65000c" stroke="#000" stroke-width="1.1"/><rect x="265.1" y="240.6" width="1.5" height="1.5" fill="#b8121a"/><polygon points="262.6,240.1 265.1,245.2 260.0,245.2" fill="#f55a41"/><polygon points="262.6,244.4 265.1,249.6 260.0,249.6" fill="#f55a41"/><polygon points="264.0,252.4 266.6,257.6 261.4,257.6" fill="#fa8566"/><polygon points="275.6,231.9 278.1,237.1 273.0,237.1" fill="#e4352b"/><polygon points="281.0,239.4 283.8,245.0 278.2,245.0" fill="#65000c" stroke="#000" stroke-width="1.1"/><rect x="280.2" y="242.1" width="1.5" height="1.5" fill="#b8121a"/><polygon points="284.8,243.8 287.6,249.4 282.0,249.4" fill="#65000c" stroke="#000" stroke-width="1.1"/><rect x="284.1" y="246.5" width="1.5" height="1.5" fill="#b8121a"/><polygon points="293.7,254.5 296.7,260.5 290.7,260.5" fill="#65000c" stroke="#000" stroke-width="1.1"/><rect x="292.9" y="257.4" width="1.5" height="1.5" fill="#b8121a"/><polygon points="302.5,286.9 305.1,281.8 299.9,281.8" fill="#3b87c1"/><polygon points="299.9,287.4 301.9,283.4 297.9,283.4" fill="#b7d3e9"/><polygon points="302.0,286.9 304.6,292.1 299.4,292.1" fill="#f55a41"/><polygon points="326.5,283.6 329.3,289.2 323.7,289.2" fill="#9a0e14" stroke="#000" stroke-width="1.1"/><rect x="325.8" y="286.3" width="1.5" height="1.5" fill="#b8121a"/>
</g>
<rect x="32.0" y="179.5" width="297.5" height="149.0" fill="none" stroke="#444" stroke-width="1"/>
<g transform="translate(374.3 179.5)">
<rect x="0" y="0" width="297.5" height="149.0" fill="#fff"/>
<g clip-path="url(#clip)">
<path d="M0.0 144.3L8.3 144.5L16.5 144.9L24.8 144.7L27.3 142.4L22.3 140.7L14.0 139.6L18.2 138.4L24.8 138.2L28.1 137.2L33.1 136.6L37.2 136.2L41.3 136.0L45.5 135.6L49.6 135.8L53.7 135.8L57.8 136.2L62.0 136.2L64.5 136.6L66.1 134.9L70.2 134.8L74.4 134.8L78.5 134.9L82.6 134.9L86.8 134.1L89.2 131.6L92.6 130.4L94.2 129.1L96.7 127.9L99.2 127.3L101.6 126.9L100.4 127.9L98.8 129.1L97.5 130.8L97.9 132.4L98.3 134.5L98.8 136.2L97.5 137.0L94.2 137.8L90.1 138.7L85.1 139.9L82.6 141.1L86.8 142.4L95.0 143.0L100.8 142.8L107.4 142.0L112.4 142.2L115.7 141.1L119.0 139.9L119.8 139.1L121.5 138.2L125.6 137.4L128.1 136.6L132.2 135.3L136.4 134.8L138.8 134.1L142.1 133.7L144.6 133.7L148.8 133.7L152.9 133.1L157.0 132.9L161.1 132.4L165.3 132.7L169.4 132.7L173.5 131.9L176.0 131.4L177.7 131.9L180.2 132.3L181.8 131.5L185.9 130.5L190.1 130.0L192.5 129.1L195.9 129.7L198.3 130.3L202.5 130.5L204.9 130.8L206.2 132.0L204.9 133.3L204.5 134.5L206.2 134.5L207.8 133.1L209.9 132.3L213.2 131.2L214.9 130.6L219.0 129.8L223.1 129.5L227.3 129.4L231.4 129.0L235.5 129.4L239.7 129.1L243.8 129.5L247.9 129.8L252.0 129.4L256.2 129.1L260.3 129.1L264.4 129.7L268.6 130.0L272.7 131.0L276.8 131.6L281.0 132.4L285.1 133.1L289.2 133.7L289.2 134.9L285.9 136.2L283.5 137.4L283.5 139.1L281.0 140.3L281.8 141.6L285.9 142.8L290.9 143.7L297.5 144.3L297.5 149.0L0.0 149.0Z" fill="#d3d3d3" stroke="none"/>
<path d="M0.0 144.3L8.3 144.5L16.5 144.9L24.8 144.7L27.3 142.4L22.3 140.7L14.0 139.6L18.2 138.4L24.8 138.2L28.1 137.2L33.1 136.6L37.2 136.2L41.3 136.0L45.5 135.6L49.6 135.8L53.7 135.8L57.8 136.2L62.0 136.2L64.5 136.6L66.1 134.9L70.2 134.8L74.4 134.8L78.5 134.9L82.6 134.9L86.8 134.1L89.2 131.6L92.6 130.4L94.2 129.1L96.7 127.9L99.2 127.3L101.6 126.9L100.4 127.9L98.8 129.1L97.5 130.8L97.9 132.4L98.3 134.5L98.8 136.2L97.5 137.0L94.2 137.8L90.1 138.7L85.1 139.9L82.6 141.1L86.8 142.4L95.0 143.0L100.8 142.8L107.4 142.0L112.4 142.2L115.7 141.1L119.0 139.9L119.8 139.1L121.5 138.2L125.6 137.4L128.1 136.6L132.2 135.3L136.4 134.8L138.8 134.1L142.1 133.7L144.6 133.7L148.8 133.7L152.9 133.1L157.0 132.9L161.1 132.4L165.3 132.7L169.4 132.7L173.5 131.9L176.0 131.4L177.7 131.9L180.2 132.3L181.8 131.5L185.9 130.5L190.1 130.0L192.5 129.1L195.9 129.7L198.3 130.3L202.5 130.5L204.9 130.8L206.2 132.0L204.9 133.3L204.5 134.5L206.2 134.5L207.8 133.1L209.9 132.3L213.2 131.2L214.9 130.6L219.0 129.8L223.1 129.5L227.3 129.4L231.4 129.0L235.5 129.4L239.7 129.1L243.8 129.5L247.9 129.8L252.0 129.4L256.2 129.1L260.3 129.1L264.4 129.7L268.6 130.0L272.7 131.0L276.8 131.6L281.0 132.4L285.1 133.1L289.2 133.7L289.2 134.9L285.9 136.2L283.5 137.4L283.5 139.1L281.0 140.3L281.8 141.6L285.9 142.8L290.9 143.7L297.5 144.3" fill="none" stroke="#000" stroke-width="0.75"/>
<path d="M9.9 20.3L11.6 18.0L14.9 16.6L19.4 15.5L24.8 16.1L32.2 16.8L37.2 17.4L43.0 16.4L46.3 17.0L52.1 17.4L53.7 18.2L59.5 18.2L64.5 18.2L68.6 17.8L70.2 14.9L72.7 17.0L76.0 17.8L78.5 16.7L81.4 17.4L81.0 19.0L77.7 19.9L76.9 21.1L71.9 23.2L70.7 25.7L72.3 27.3L76.0 27.7L78.5 28.7L80.7 29.0L81.0 31.0L82.2 32.1L83.5 31.6L83.5 29.4L85.1 27.7L84.3 25.9L84.7 24.4L84.3 22.8L88.0 23.0L90.9 24.0L91.3 25.7L93.4 26.2L95.0 24.6L95.9 26.1L97.9 27.7L99.2 29.0L101.2 29.8L102.5 31.0L100.0 32.7L95.9 32.9L93.4 33.5L90.9 35.2L92.6 34.1L95.4 33.9L95.0 35.2L95.4 36.3L97.9 36.6L99.2 36.0L98.3 37.1L95.9 37.8L94.2 38.5L94.2 37.4L93.4 37.2L90.9 38.3L90.5 39.7L90.9 40.0L89.2 40.4L87.6 40.9L87.4 41.8L86.4 43.0L85.9 43.9L86.2 45.1L84.7 46.1L83.1 47.2L81.8 48.2L81.6 49.7L82.6 52.1L82.4 53.6L81.4 53.4L80.4 51.5L80.3 50.1L79.3 49.7L78.1 49.8L76.4 49.4L74.8 49.5L74.8 50.3L73.1 50.2L71.1 50.0L69.0 51.1L68.3 53.0L68.0 55.9L69.2 58.4L70.7 59.4L72.7 59.1L73.9 57.9L74.1 57.1L76.9 56.7L76.4 58.8L75.9 60.0L75.6 61.4L77.7 61.3L79.7 61.9L79.7 64.2L79.6 65.4L80.6 66.8L81.8 67.2L83.1 66.6L84.7 67.3L85.3 67.9L86.4 65.8L88.4 65.0L89.7 64.2L89.7 65.6L90.9 64.7L92.6 65.7L95.9 66.0L97.5 65.6L98.3 67.0L100.4 68.7L101.6 69.5L104.1 69.7L105.8 70.5L107.0 72.8L107.4 74.5L108.7 75.3L111.6 76.0L112.4 76.7L114.9 76.9L116.9 77.6L119.6 78.8L120.0 80.7L119.6 82.4L118.2 84.0L116.9 85.3L116.5 87.7L116.1 89.8L115.0 91.9L114.0 93.5L112.0 93.7L110.3 94.5L108.7 96.0L108.5 97.9L107.0 100.0L105.4 101.8L104.3 103.0L102.1 103.3L100.5 102.6L101.6 104.3L101.2 106.0L97.5 106.8L97.3 108.3L95.0 108.4L96.1 109.7L94.8 110.5L94.6 111.8L93.0 112.6L94.4 113.8L93.0 115.5L91.7 116.7L92.2 117.8L90.1 119.0L88.0 118.0L86.8 115.9L87.2 113.4L88.4 110.9L88.0 108.9L88.0 106.0L88.8 103.9L89.7 101.0L89.7 97.7L90.5 94.4L90.7 91.1L90.6 89.6L89.2 88.6L86.8 87.2L85.7 85.9L84.7 84.0L83.5 81.1L81.8 79.5L81.6 78.1L82.6 77.2L82.0 76.4L82.2 74.9L82.6 73.8L83.6 73.3L84.7 71.4L84.7 69.1L84.4 68.5L84.0 67.6L83.1 67.2L82.4 68.3L81.4 68.1L80.2 67.6L79.6 67.3L78.5 66.2L77.8 65.4L76.4 63.7L75.6 63.6L73.5 63.0L72.3 62.2L70.7 61.1L69.0 61.5L66.9 60.8L64.9 60.0L62.8 58.8L61.6 57.7L61.7 56.7L60.7 55.0L59.1 53.6L58.3 52.4L57.0 51.3L55.8 50.1L55.2 48.7L54.0 48.3L54.0 49.7L55.4 51.3L56.6 53.0L57.6 54.5L58.3 55.4L57.6 55.2L56.2 54.0L55.9 52.8L54.3 51.7L54.3 50.7L53.1 49.4L52.1 47.6L50.8 46.4L49.1 45.9L48.0 44.2L47.5 43.2L46.4 41.8L46.0 41.1L46.1 38.9L46.3 36.3L45.7 34.4L47.1 33.9L45.9 33.1L43.8 32.3L43.0 31.0L41.3 29.4L40.1 28.6L38.4 26.9L36.4 26.1L35.1 25.8L33.2 25.0L30.6 24.8L28.1 24.3L26.0 24.4L23.6 25.4L24.0 24.0L22.3 24.8L21.1 26.1L19.0 27.3L16.9 28.3L14.5 29.0L12.6 29.3L14.9 28.3L16.5 27.7L18.6 26.1L17.4 25.9L14.9 25.9L14.9 24.8L12.4 24.2L11.6 23.2L12.8 22.4L15.7 21.9L15.7 21.1L12.4 21.1ZM88.4 9.8L92.6 8.3L97.5 6.8L107.4 6.2L119.8 5.4L128.1 5.8L132.2 6.6L134.7 7.2L133.0 8.3L132.2 10.8L133.0 12.4L130.6 14.1L128.5 14.9L130.6 16.1L127.3 17.8L122.3 18.2L118.2 20.0L115.7 20.7L114.0 22.8L112.8 24.8L110.7 24.4L108.7 24.0L106.6 21.9L105.0 19.9L104.1 18.2L106.6 17.0L103.7 16.1L103.3 14.5L100.8 12.0L95.0 11.6L90.9 11.3L89.2 10.3ZM95.0 23.3L95.9 21.9L97.9 19.5L95.9 18.4L92.6 17.0L90.1 15.7L85.9 14.2L82.6 13.4L78.5 13.4L74.8 14.1L74.4 15.3L78.5 16.6L82.6 16.7L85.1 17.8L88.0 18.6L88.4 20.3L84.7 21.1L87.2 21.3L90.1 22.5L93.4 23.2ZM64.9 17.4L62.0 17.5L57.8 17.7L54.5 17.5L52.1 16.7L53.7 15.7L50.8 15.3L51.2 14.3L54.5 14.1L57.8 14.2L61.2 13.8L62.4 15.3L65.3 16.1ZM45.5 14.9L47.1 15.6L49.2 15.1L51.6 14.2L53.3 13.7L51.6 13.0L48.3 12.8L45.9 13.1L46.3 14.1ZM76.0 11.2L82.6 11.4L84.3 10.8L86.8 9.5L89.2 8.7L95.0 7.5L97.5 6.2L90.9 5.8L82.6 5.8L76.9 6.6L73.5 7.5L76.0 8.3L76.9 9.5L75.2 10.3ZM82.6 12.7L77.7 12.8L72.7 12.7L72.3 11.6L69.4 10.9L75.2 11.3L78.5 11.8L81.8 11.8L83.1 12.4ZM76.9 9.1L73.5 9.7L70.2 8.7L71.1 7.5L74.4 7.9ZM71.9 14.9L69.8 14.5L69.8 13.2L73.5 13.2L74.0 14.1ZM68.6 14.9L65.3 14.9L64.5 13.7L67.4 13.3L68.6 14.1ZM61.2 12.4L57.8 12.7L54.5 12.6L52.5 11.8L56.2 11.3L59.5 11.4L61.6 11.8ZM67.8 12.4L65.3 12.3L63.2 11.6L66.1 11.0L67.8 11.6ZM82.4 21.7L80.2 22.4L77.7 21.8L76.9 21.1L78.1 19.9L79.7 20.0L78.9 20.7L81.0 21.1ZM99.7 35.0L102.9 35.8L105.0 35.8L105.2 35.1L104.5 34.3L102.6 33.3L102.9 31.9L101.6 32.3L101.0 33.5L99.8 34.5ZM46.9 34.4L45.5 34.2L42.7 32.5L43.8 32.4L45.5 33.1L46.7 33.9ZM40.5 31.5L38.8 30.0L39.8 29.7ZM78.5 56.5L80.2 55.5L82.2 55.4L85.1 56.6L87.4 57.8L84.7 58.0L84.3 57.4L82.6 56.5L81.0 56.0L79.3 56.4ZM87.3 59.3L88.8 58.0L90.9 58.1L92.2 59.1L90.5 59.4L89.5 59.8L88.4 59.4ZM84.0 59.4L85.7 59.4L85.7 59.7L84.5 59.8ZM93.2 59.2L94.5 59.3L94.4 59.6L93.2 59.6ZM92.1 118.0L92.4 118.6L94.9 119.8L92.6 120.3L90.1 120.0L89.2 119.4L90.5 118.9L90.7 118.2ZM98.3 117.4L101.0 117.0L100.4 117.7L98.8 117.7ZM128.7 20.2L130.6 19.5L133.9 19.8L136.5 19.7L137.5 20.5L136.4 21.3L133.5 22.0L130.6 21.7L130.2 20.9ZM157.8 9.5L161.1 10.8L162.8 11.1L165.3 9.7L167.8 9.7L170.2 8.7L171.1 8.1L165.3 7.8L158.7 8.4ZM191.3 15.3L192.5 16.0L196.3 16.0L194.6 14.5L195.9 13.2L199.2 12.0L205.4 10.9L203.3 10.8L198.3 11.3L194.6 12.3L192.5 13.7ZM187.2 7.9L190.9 8.2L191.7 7.7L188.4 7.5ZM227.3 9.1L231.4 9.8L235.5 9.5L234.7 8.7L231.4 8.1L228.1 7.5L224.8 8.0ZM262.0 12.2L265.3 13.4L267.8 12.4L272.7 12.3L269.4 11.8L264.4 11.5ZM296.3 15.8L297.5 15.8L297.5 15.3L296.7 15.3ZM0.0 15.8L2.1 15.7L1.7 15.3L0.0 15.3ZM0.0 17.5L2.5 18.0L5.8 19.0L8.3 19.7L7.9 20.3L6.2 21.1L4.1 20.9L3.3 20.3L1.2 19.6L0.0 20.4ZM170.1 15.6L171.9 15.7L174.4 16.3L173.5 16.7L176.0 17.1L178.5 17.2L182.6 18.6L182.6 19.3L181.8 19.7L177.7 19.5L175.6 19.0L177.5 21.1L179.3 21.7L180.2 21.3L182.2 21.0L181.8 19.9L185.1 19.9L184.5 17.7L186.8 18.0L186.8 19.0L188.4 18.5L192.5 18.0L193.4 17.5L197.5 17.8L199.2 16.7L202.1 17.2L204.9 18.0L204.1 17.0L204.0 15.7L206.6 14.1L208.7 14.5L208.2 15.7L208.7 18.2L208.2 19.6L209.9 19.0L210.7 17.4L209.9 15.3L210.7 14.5L213.2 14.7L214.9 14.7L216.9 15.9L217.3 14.9L215.7 13.7L220.6 12.4L223.1 12.0L229.7 11.4L234.9 10.2L238.0 11.0L242.5 11.4L237.2 13.7L239.7 13.2L242.1 13.4L246.3 13.9L251.2 13.5L253.7 14.5L255.4 15.7L258.7 15.3L262.8 15.3L264.4 14.3L269.4 14.7L272.7 15.3L275.2 15.9L281.0 16.8L282.6 16.9L287.6 16.7L289.2 17.4L289.6 16.6L294.2 16.7L297.5 17.5L297.5 20.5L296.3 21.1L295.4 20.9L296.9 22.8L293.4 23.3L290.9 24.0L289.5 24.8L285.9 24.8L284.3 25.0L283.5 26.7L283.7 28.0L282.5 29.0L281.0 30.5L279.7 31.3L278.2 32.3L277.5 30.6L277.4 29.0L277.7 27.3L279.3 26.3L281.4 25.0L283.5 23.2L281.0 24.0L278.1 23.8L276.8 25.3L274.4 25.7L272.7 25.2L269.0 25.4L266.5 25.5L264.4 26.9L262.0 29.8L262.8 30.0L265.3 30.4L264.7 32.3L264.9 34.4L263.2 36.0L260.7 37.8L258.7 39.1L257.0 39.2L255.9 40.1L255.8 41.4L254.1 41.8L254.9 43.0L255.7 44.3L255.5 45.4L254.1 45.8L253.1 45.9L253.3 44.3L253.5 43.3L252.0 43.0L252.3 41.8L251.5 41.4L249.3 42.2L249.6 40.9L248.7 40.7L247.5 41.6L246.3 42.1L246.0 42.6L247.1 43.5L248.6 43.2L250.0 43.7L248.7 44.3L247.3 45.5L248.3 46.8L249.4 48.2L249.5 49.0L248.3 49.4L249.6 49.8L249.2 51.1L247.9 52.6L247.1 53.8L245.9 54.8L244.6 55.5L243.2 56.0L242.1 56.3L240.5 56.9L239.9 57.7L239.5 56.7L238.2 56.6L237.0 57.5L236.2 58.8L237.2 60.4L238.6 61.7L239.1 63.7L238.8 65.0L237.2 65.9L236.8 66.6L235.5 67.3L235.5 66.2L234.3 65.7L233.5 64.6L232.2 64.0L231.8 63.3L231.4 64.2L230.8 65.8L231.4 67.0L231.8 68.5L233.0 69.4L234.2 70.8L234.3 72.4L234.9 73.3L234.2 73.3L232.5 72.2L231.7 69.9L231.1 69.0L230.0 67.6L230.1 65.8L230.3 64.2L229.6 62.5L229.4 60.8L228.1 60.6L227.5 61.4L226.7 61.2L226.8 59.6L226.0 58.1L224.8 56.7L224.6 55.9L223.5 56.3L222.3 56.5L220.6 56.9L220.5 57.7L219.0 58.4L216.9 60.4L215.1 61.7L215.0 63.5L214.8 65.0L214.3 66.0L214.0 66.8L213.4 67.2L212.8 67.8L211.8 66.4L211.0 64.6L210.3 62.5L209.5 60.8L208.9 58.8L208.8 57.1L208.5 56.5L207.4 57.3L205.8 56.0L206.6 55.6L205.2 55.0L204.1 54.0L203.7 53.5L200.0 53.6L197.5 53.5L196.0 52.6L195.4 52.1L193.8 52.5L192.1 51.7L190.7 50.5L190.1 49.5L189.1 49.3L188.4 50.2L189.1 51.3L190.1 52.4L190.3 53.2L191.1 52.9L191.3 54.2L193.4 54.5L195.2 52.8L195.4 54.2L197.3 55.0L198.2 55.9L197.1 57.5L196.5 58.8L194.6 60.0L191.9 61.3L189.2 62.7L185.9 63.9L184.7 64.0L184.1 62.5L183.9 60.8L182.2 58.4L181.0 56.7L179.7 54.4L178.1 51.7L177.5 51.1L177.7 50.1L177.1 51.5L176.0 50.5L175.6 49.7L176.4 51.5L178.1 54.6L179.5 57.1L179.6 58.8L180.6 59.6L181.4 61.7L182.8 62.5L184.4 64.2L184.5 65.0L185.5 65.9L187.6 65.3L191.1 64.7L190.7 67.0L188.8 70.4L186.8 72.4L184.7 74.5L183.0 76.0L181.8 77.4L181.0 79.5L181.4 81.1L182.2 83.2L182.4 86.5L181.4 88.2L179.3 89.2L177.7 91.1L178.1 92.7L178.0 94.4L176.0 95.6L175.9 96.8L174.4 99.2L172.3 101.4L170.2 102.5L167.3 102.8L165.3 103.3L164.0 102.8L163.6 101.4L162.4 98.1L161.1 96.4L160.7 93.1L159.1 89.4L158.5 87.7L159.9 84.8L159.7 82.0L158.8 79.5L158.5 78.2L156.4 75.7L156.4 73.7L156.8 71.6L155.9 70.8L154.1 70.9L152.9 69.7L152.3 69.3L150.8 69.3L149.6 69.6L147.1 70.5L145.0 70.2L142.6 70.9L140.9 69.7L139.2 68.8L137.8 67.5L137.6 66.4L136.4 65.4L134.9 64.2L134.3 62.3L135.1 61.3L135.3 58.8L134.7 57.1L135.5 54.9L136.8 52.8L138.4 51.3L140.5 50.1L140.7 48.4L141.7 46.9L143.1 46.3L143.9 44.9L144.4 44.8L147.1 45.4L148.8 44.8L151.2 44.0L154.5 43.9L157.0 43.6L157.8 43.9L157.4 45.1L157.0 46.4L157.8 47.0L159.5 47.3L161.4 47.8L162.0 48.6L163.6 49.3L165.3 48.8L165.3 47.6L166.9 47.3L169.4 48.3L172.7 48.9L174.4 48.4L175.4 48.7L177.0 48.6L177.7 47.3L178.3 45.5L178.5 44.0L176.8 44.5L175.2 44.5L174.0 44.0L172.7 44.3L171.5 43.9L170.6 42.6L170.6 41.8L170.4 41.2L170.2 40.7L168.6 40.7L168.4 41.4L167.6 41.1L167.8 42.2L168.6 43.0L167.8 43.5L167.8 44.3L166.7 44.0L166.3 43.0L165.3 41.6L164.8 40.6L164.9 39.7L162.8 38.9L161.1 37.7L160.2 37.2L160.1 36.7L158.9 37.0L159.1 38.1L160.3 39.5L162.0 39.9L164.0 41.3L162.6 41.4L162.9 42.2L161.7 43.0L161.8 41.4L160.6 40.7L158.9 40.0L157.4 38.9L157.0 38.1L156.0 37.7L154.9 38.2L153.7 38.8L152.1 38.5L151.3 39.3L151.4 39.9L149.4 40.7L148.5 41.8L148.9 42.5L148.2 43.4L147.1 44.0L145.0 44.1L144.1 44.7L143.5 44.1L142.7 43.7L141.4 43.9L141.5 42.6L140.9 42.4L141.5 40.6L141.1 38.9L142.1 38.3L144.6 38.4L147.1 38.6L147.7 37.7L147.8 36.4L146.9 35.4L145.0 34.8L144.9 34.4L147.4 34.2L147.3 33.4L148.9 33.5L150.1 32.4L151.6 32.0L152.5 31.0L152.9 30.4L154.5 30.1L155.9 29.9L155.9 28.6L155.5 27.3L157.5 26.7L157.3 27.7L157.0 28.6L156.8 29.1L157.8 29.6L159.1 29.5L160.5 29.8L162.4 29.4L164.0 29.1L165.1 29.5L166.1 28.7L166.1 27.5L167.3 26.7L168.6 27.2L168.9 26.2L168.2 25.5L169.4 25.2L171.9 25.2L173.5 24.8L172.3 24.3L170.2 24.5L167.8 24.9L166.4 24.2L166.4 23.2L166.5 22.2L169.0 20.9L169.7 20.3L168.7 20.0L166.9 20.3L166.4 21.1L165.7 21.8L163.9 22.5L163.0 23.6L163.0 24.3L164.3 24.8L163.8 25.5L162.6 26.1L162.4 27.3L162.0 28.0L160.6 28.5L159.4 28.6L159.2 28.0L158.5 26.7L158.0 25.7L157.5 25.0L156.6 25.7L154.5 26.5L153.3 25.8L152.9 24.4L152.9 23.2L154.5 22.5L155.8 21.9L157.4 21.3L159.1 19.9L160.7 18.6L161.1 18.0L163.2 17.2L164.5 16.7L166.9 16.3ZM189.5 84.4L190.5 87.3L189.7 89.0L188.4 92.7L187.6 95.2L185.9 95.6L184.7 94.0L184.5 92.3L185.4 91.1L185.1 88.6L186.8 87.5L188.4 85.7ZM144.0 33.0L145.9 32.8L149.9 32.1L150.2 30.8L148.9 30.5L147.7 29.0L147.1 28.1L147.1 26.8L146.0 26.0L144.6 26.0L143.8 27.1L144.2 28.3L144.6 29.1L146.1 29.4L146.3 30.3L145.0 30.5L145.3 31.3L144.5 31.6L146.1 32.0L145.0 32.3ZM140.5 31.8L142.1 31.7L143.5 31.3L143.8 30.2L144.1 29.3L143.4 28.8L142.0 28.8L140.5 29.6L141.1 30.5L140.2 31.3ZM159.1 43.0L161.6 42.9L161.2 44.1L159.2 43.5ZM155.5 42.2L155.6 40.6L156.7 40.6L156.7 42.1ZM155.9 39.3L156.5 38.9L156.6 40.1L156.0 40.1ZM168.2 45.1L170.5 45.4L169.0 45.6ZM175.4 45.5L177.3 45.0L176.7 45.7L175.9 45.9ZM214.7 66.6L215.0 66.4L216.3 68.3L215.7 69.4L214.9 69.5L214.6 67.9ZM238.6 58.5L240.1 57.9L240.5 58.4L239.2 59.4L238.6 59.1ZM248.0 55.5L248.7 53.6L249.6 53.8L249.2 55.5L248.6 56.3ZM256.9 46.4L258.2 45.1L260.7 45.0L261.7 43.7L263.2 43.5L264.4 41.8L264.4 41.0L265.5 40.2L265.7 41.1L266.1 41.8L265.3 43.0L265.1 44.0L264.9 45.1L264.3 45.5L263.5 45.8L262.0 45.9L261.8 46.2L261.0 46.8L260.3 45.9L258.7 46.1L257.0 46.4ZM256.2 46.8L257.4 46.6L257.7 47.3L257.0 48.7L256.3 48.6L256.2 47.6ZM258.2 46.5L259.9 46.2L259.7 46.9L258.7 47.3ZM264.4 40.1L264.7 38.7L265.8 36.9L266.9 37.7L268.8 37.9L269.0 38.7L267.3 39.7L265.7 39.2L265.3 40.0ZM266.1 36.4L267.3 35.8L266.9 33.9L268.2 33.9L267.1 31.5L266.9 29.6L266.1 30.2L266.1 33.1L266.1 34.8ZM248.3 59.2L249.7 59.2L249.6 60.8L249.2 62.1L251.2 63.7L250.4 63.2L248.7 63.2L248.3 62.5L247.9 61.3ZM249.6 68.7L250.8 67.4L252.5 66.4L253.3 67.9L253.0 69.3L252.5 69.8L251.2 69.1L250.8 68.3ZM251.5 64.2L252.5 64.3L252.5 66.0L251.8 66.1ZM249.6 64.7L250.6 65.0L250.6 66.9L250.0 66.5L249.6 65.8ZM245.6 67.5L247.5 65.1L247.3 66.0L246.0 67.5ZM238.8 73.3L239.4 72.8L240.7 72.4L242.1 71.9L243.8 70.4L245.3 68.7L246.0 69.1L247.3 70.1L246.3 70.9L246.1 72.0L247.1 73.7L246.1 73.8L245.9 75.2L245.0 76.2L244.6 77.8L243.4 77.8L242.5 77.2L241.1 77.4L239.8 76.8L238.8 74.9L238.8 74.1ZM227.5 69.9L229.3 70.2L231.4 72.0L232.6 72.8L234.3 74.3L235.1 76.0L236.3 77.0L236.2 79.3L235.1 79.3L233.3 77.8L231.8 75.5L230.3 73.1L228.5 71.4ZM235.7 80.1L236.9 79.5L238.4 79.9L240.3 79.8L241.9 80.2L243.4 80.9L243.4 81.7L240.5 81.4L238.0 81.0L236.7 80.6ZM247.4 79.1L247.6 77.4L246.9 76.8L247.8 74.3L248.6 73.4L250.4 73.7L252.2 73.2L251.6 74.2L248.7 74.1L248.1 75.2L249.2 75.2L250.6 75.2L250.1 75.8L249.2 76.1L249.8 77.2L250.6 78.2L250.0 79.0L249.2 78.3L248.7 76.8L248.2 77.0L248.2 79.1ZM257.0 75.2L258.2 74.8L259.5 75.2L260.3 77.2L262.4 75.8L265.3 76.7L268.2 77.6L269.4 79.1L270.9 79.5L270.2 80.1L271.5 82.0L273.4 83.0L271.1 82.9L269.4 81.3L267.8 80.9L266.9 82.1L265.3 82.1L263.6 81.3L262.8 81.4L263.5 80.3L262.8 79.1L260.7 78.2L258.7 77.8L258.5 76.8L259.5 76.4L257.8 76.3L257.0 75.7ZM271.5 79.1L273.1 79.1L274.5 78.0L274.4 78.8L272.7 79.7ZM250.8 83.0L252.0 81.6L253.9 81.5L252.0 82.6ZM243.8 81.3L245.4 81.4L247.1 81.5L248.7 81.5L250.4 81.4L248.7 81.9L246.3 81.9L244.6 81.9ZM254.1 73.7L254.5 72.8L255.1 73.7L254.5 75.2ZM254.5 77.0L256.8 77.1L255.4 77.4ZM242.7 93.1L243.0 92.5L245.0 91.6L247.1 91.1L249.2 90.2L249.8 88.6L250.8 88.8L251.6 87.7L252.9 86.1L254.5 86.8L255.8 86.8L256.8 84.8L258.2 84.0L260.3 84.6L261.8 84.6L261.1 85.7L260.7 86.9L262.4 87.7L264.0 89.0L265.3 88.6L265.8 86.1L265.9 84.8L266.5 83.4L267.3 84.8L267.6 86.3L268.8 86.9L269.4 89.0L270.2 90.5L271.9 91.5L273.4 93.5L275.2 95.2L275.6 97.7L275.2 100.2L273.9 102.1L273.1 103.9L272.7 105.4L270.6 106.0L269.7 106.8L268.4 106.0L267.3 106.6L265.3 106.0L264.2 104.7L263.2 103.9L262.8 101.8L262.6 101.5L261.1 103.3L260.7 103.3L259.5 101.7L257.4 100.6L255.4 100.7L252.9 101.2L251.2 101.8L250.8 102.6L247.9 102.6L246.3 103.5L244.6 103.3L243.8 102.9L244.4 101.0L243.8 99.3L243.1 97.3L242.4 96.0L242.7 94.2ZM268.3 108.3L269.8 108.5L271.2 108.3L271.2 109.4L270.4 110.5L269.4 110.5L268.7 109.5ZM291.5 103.0L292.8 103.9L293.8 104.7L294.2 105.6L296.1 105.7L295.7 106.9L295.0 107.1L294.4 108.4L293.4 108.9L293.2 107.6L292.4 107.0L293.1 106.0L292.8 104.7ZM291.5 108.0L292.7 108.9L291.7 110.3L290.3 111.2L289.8 112.6L288.0 113.1L286.5 112.6L287.6 111.2L289.6 109.9L290.7 108.9ZM284.3 91.2L286.8 93.0L286.1 92.9L284.3 91.7ZM19.8 58.8L20.7 58.4L20.0 57.8ZM295.3 89.0L296.3 89.0L296.2 89.6L295.4 89.6ZM194.2 7.8L197.1 7.9L197.5 7.5L195.0 7.4ZM273.4 76.7L274.8 77.6L275.2 78.4L274.5 77.8ZM278.1 80.1L280.1 81.1L281.8 82.4L282.5 83.2L281.0 82.4L278.9 81.1ZM286.4 86.9L287.0 87.6L286.9 88.2L286.5 87.6Z" fill="#d3d3d3" stroke="#000" stroke-width="0.75" stroke-linejoin="round"/>
<path d="M171.9 40.1L172.5 38.5L172.4 37.8L173.3 37.1L174.2 36.0L175.2 36.2L176.4 36.4L175.6 37.0L176.4 37.7L178.1 37.2L179.0 37.0L177.7 36.3L180.6 35.4L181.0 36.4L179.7 37.0L179.6 37.5L180.6 37.9L181.8 38.7L183.0 39.3L183.0 40.1L181.4 40.6L179.7 40.6L178.9 40.3L177.7 39.7L176.0 39.7L174.6 40.4L172.9 40.4ZM189.2 36.0L190.9 35.6L192.5 35.8L192.5 37.0L191.1 37.6L190.3 37.8L190.9 38.7L192.4 39.7L192.3 40.1L193.4 40.3L192.5 41.8L193.4 43.6L191.7 44.1L190.3 43.6L189.2 43.4L189.2 42.6L189.7 41.1L189.2 40.1L188.0 38.9L187.6 37.7L188.0 36.7Z" fill="#fff" stroke="#000" stroke-width="0.75" stroke-linejoin="round"/>
<path d="M49.6 0V149.0M99.2 0V149.0M148.8 0V149.0M198.3 0V149.0M247.9 0V149.0M0 24.8H297.5M0 49.7H297.5M0 74.5H297.5M0 99.3H297.5M0 124.2H297.5" fill="none" stroke="#b4b4b4" stroke-width="0.55" stroke-dasharray="1 1"/>
</g>
</g>
<g clip-path="url(#clipd)">
<polygon points="388.6,202.6 390.8,207.0 386.4,207.0" fill="#c2181c"/><polygon points="394.7,202.7 397.2,207.8 392.1,207.8" fill="#f55a41"/><polygon points="394.7,204.2 395.1,205.3 396.3,205.4 395.3,206.1 395.7,207.3 394.7,206.6 393.7,207.3 394.1,206.1 393.1,205.4 394.3,205.3" fill="#000"/><polygon points="413.8,194.5 416.4,199.7 411.2,199.7" fill="#c2181c"/><polygon points="419.0,196.1 421.8,201.7 416.2,201.7" fill="#65000c" stroke="#000" stroke-width="1.1"/><rect x="418.2" y="198.8" width="1.5" height="1.5" fill="#b8121a"/><polygon points="426.0,198.8 428.6,203.9 423.4,203.9" fill="#f55a41"/><polygon points="422.8,201.9 425.4,207.1 420.2,207.1" fill="#c2181c"/><polygon points="418.5,206.2 420.3,209.8 416.7,209.8" fill="#b7d3e9"/><polygon points="419.6,211.9 422.2,206.8 417.1,206.8" fill="#3b87c1"/><polygon points="419.6,210.3 422.4,215.9 416.8,215.9" fill="#65000c" stroke="#000" stroke-width="1.1"/><rect x="418.9" y="213.0" width="1.5" height="1.5" fill="#b8121a"/><polygon points="424.9,209.5 427.7,215.1 422.1,215.1" fill="#65000c" stroke="#000" stroke-width="1.1"/><rect x="424.1" y="212.2" width="1.5" height="1.5" fill="#b8121a"/><polygon points="424.3,214.4 426.3,218.4 422.3,218.4" fill="#fbaa8d"/><polygon points="429.5,216.1 432.1,221.2 426.9,221.2" fill="#f55a41"/><polygon points="423.7,219.4 426.3,224.6 421.2,224.6" fill="#f55a41"/><polygon points="431.0,221.4 433.6,226.6 428.4,226.6" fill="#fbaa8d"/><polygon points="443.5,198.2 446.3,203.8 440.7,203.8" fill="#65000c" stroke="#000" stroke-width="1.1"/><rect x="442.8" y="200.9" width="1.5" height="1.5" fill="#b8121a"/><polygon points="446.6,200.3 448.6,204.3 444.6,204.3" fill="#c2181c"/><polygon points="435.4,202.1 437.9,207.2 432.8,207.2" fill="#fbaa8d"/><polygon points="438.3,202.9 440.1,206.5 436.5,206.5" fill="#3b87c1"/><polygon points="433.0,206.4 435.4,211.2 430.6,211.2" fill="#fbaa8d" stroke="#000" stroke-width="1.1"/><polygon points="436.5,205.6 439.1,210.8 433.9,210.8" fill="#f55a41"/><polygon points="440.0,210.8 442.8,205.2 437.2,205.2" fill="#0b3068" stroke="#000" stroke-width="1.1"/><rect x="439.2" y="206.6" width="1.5" height="1.5" fill="#1a4596"/><polygon points="442.6,204.4 445.2,209.6 440.1,209.6" fill="#3b87c1"/><polygon points="435.4,210.5 437.9,215.7 432.8,215.7" fill="#e4352b"/><polygon points="441.6,209.9 444.2,215.1 439.1,215.1" fill="#fbaa8d"/><polygon points="446.6,214.5 449.7,208.3 443.5,208.3" fill="#0b3068"/><polygon points="450.6,215.1 453.7,208.9 447.5,208.9" fill="#0b3068"/><polygon points="443.7,225.7 446.3,220.5 441.2,220.5" fill="#b7d3e9"/><polygon points="444.8,223.2 447.4,228.3 442.2,228.3" fill="#fbaa8d"/><polygon points="439.4,227.3 441.9,232.4 436.8,232.4" fill="#c2181c"/><polygon points="446.2,226.5 448.8,231.7 443.7,231.7" fill="#f55a41"/><polygon points="449.0,226.8 451.6,231.9 446.4,231.9" fill="#fa8566"/><polygon points="441.2,232.1 443.8,237.2 438.7,237.2" fill="#c2181c"/><polygon points="439.3,235.8 441.9,240.9 436.8,240.9" fill="#fa8566"/><polygon points="446.7,238.6 449.3,243.8 444.2,243.8" fill="#f55a41"/><polygon points="467.8,212.2 470.4,207.0 465.2,207.0" fill="#3b87c1"/><polygon points="464.4,210.0 466.9,215.2 461.8,215.2" fill="#fbaa8d"/><polygon points="459.3,211.1 461.9,216.2 456.8,216.2" fill="#f55a41"/><polygon points="461.8,213.1 464.4,218.2 459.2,218.2" fill="#e4352b"/><polygon points="456.7,213.6 459.3,218.8 454.2,218.8" fill="#fa8566"/><polygon points="460.3,216.2 462.9,221.3 457.8,221.3" fill="#e4352b"/><polygon points="464.4,215.5 467.2,221.1 461.6,221.1" fill="#65000c" stroke="#000" stroke-width="1.1"/><rect x="463.6" y="218.2" width="1.5" height="1.5" fill="#b8121a"/><polygon points="468.0,212.4 470.8,218.0 465.2,218.0" fill="#65000c" stroke="#000" stroke-width="1.1"/><rect x="467.2" y="215.1" width="1.5" height="1.5" fill="#b8121a"/><polygon points="469.5,215.5 472.3,221.1 466.7,221.1" fill="#f55a41" stroke="#000" stroke-width="1.1"/><rect x="468.8" y="218.2" width="1.5" height="1.5" fill="#b8121a"/><polygon points="454.7,216.7 457.3,221.8 452.2,221.8" fill="#fbaa8d"/><polygon points="452.6,222.1 455.4,227.7 449.8,227.7" fill="#65000c" stroke="#000" stroke-width="1.1"/><rect x="451.9" y="224.8" width="1.5" height="1.5" fill="#b8121a"/><polygon points="456.7,223.6 459.5,229.2 453.9,229.2" fill="#65000c" stroke="#000" stroke-width="1.1"/><rect x="456.0" y="226.3" width="1.5" height="1.5" fill="#b8121a"/><polygon points="455.8,229.0 457.8,233.0 453.8,233.0" fill="#e4352b"/><polygon points="478.0,252.6 480.8,258.2 475.2,258.2" fill="#65000c" stroke="#000" stroke-width="1.1"/><rect x="477.2" y="255.3" width="1.5" height="1.5" fill="#b8121a"/><polygon points="474.9,254.3 477.4,259.4 472.3,259.4" fill="#fbaa8d"/><polygon points="483.6,258.1 486.2,263.2 481.1,263.2" fill="#fbaa8d"/><polygon points="488.6,259.1 491.4,264.7 485.8,264.7" fill="#65000c" stroke="#000" stroke-width="1.1"/><rect x="487.9" y="261.8" width="1.5" height="1.5" fill="#b8121a"/><polygon points="465.1,263.7 467.9,269.3 462.3,269.3" fill="#65000c" stroke="#000" stroke-width="1.1"/><rect x="464.4" y="266.4" width="1.5" height="1.5" fill="#b8121a"/><polygon points="483.6,267.2 486.2,272.3 481.1,272.3" fill="#e4352b"/><polygon points="488.6,269.2 491.4,274.8 485.8,274.8" fill="#65000c" stroke="#000" stroke-width="1.1"/><rect x="487.9" y="271.9" width="1.5" height="1.5" fill="#b8121a"/><polygon points="476.7,273.8 479.5,279.4 473.9,279.4" fill="#65000c" stroke="#000" stroke-width="1.1"/><rect x="476.0" y="276.6" width="1.5" height="1.5" fill="#b8121a"/><polygon points="481.7,275.9 484.3,281.1 479.2,281.1" fill="#9a0e14"/><polygon points="472.5,282.3 475.1,277.2 469.9,277.2" fill="#3b87c1"/><polygon points="475.6,282.3 478.2,277.2 473.1,277.2" fill="#3b87c1"/><polygon points="462.9,287.8 465.4,282.7 460.3,282.7" fill="#b7d3e9"/><polygon points="463.3,290.1 465.9,284.9 460.8,284.9" fill="#b7d3e9"/><polygon points="466.8,283.8 469.6,289.4 464.0,289.4" fill="#9a0e14" stroke="#000" stroke-width="1.1"/><rect x="466.1" y="286.6" width="1.5" height="1.5" fill="#b8121a"/><polygon points="464.2,289.7 466.8,294.8 461.7,294.8" fill="#fbaa8d"/><polygon points="462.6,293.2 465.2,298.3 460.1,298.3" fill="#c2181c"/><polygon points="466.8,297.0 469.6,302.6 464.0,302.6" fill="#c2181c" stroke="#000" stroke-width="1.1"/><rect x="466.1" y="299.7" width="1.5" height="1.5" fill="#b8121a"/><polygon points="549.5,199.9 552.0,194.8 547.0,194.8" fill="#3b87c1"/><polygon points="552.6,199.9 555.1,194.8 550.1,194.8" fill="#b7d3e9"/><polygon points="548.0,197.9 550.5,203.1 545.5,203.1" fill="#fa8566"/><polygon points="549.0,199.7 551.8,205.3 546.2,205.3" fill="#9a0e14" stroke="#000" stroke-width="1.1"/><rect x="548.2" y="202.4" width="1.5" height="1.5" fill="#b8121a"/><polygon points="552.0,199.2 554.8,204.8 549.2,204.8" fill="#65000c" stroke="#000" stroke-width="1.1"/><rect x="551.2" y="201.9" width="1.5" height="1.5" fill="#b8121a"/><polygon points="555.6,202.5 558.1,207.7 553.1,207.7" fill="#f55a41"/><polygon points="550.0,204.0 552.5,209.2 547.5,209.2" fill="#c2181c"/><polygon points="544.9,208.2 547.4,203.0 542.4,203.0" fill="#b7d3e9"/><polygon points="541.0,211.4 543.5,206.3 538.5,206.3" fill="#3b87c1"/><polygon points="568.4,204.5 570.9,209.7 565.9,209.7" fill="#fbaa8d"/><polygon points="577.5,202.8 580.0,207.9 575.0,207.9" fill="#e4352b"/><polygon points="530.4,213.0 533.2,218.6 527.6,218.6" fill="#65000c" stroke="#000" stroke-width="1.1"/><rect x="529.6" y="215.7" width="1.5" height="1.5" fill="#b8121a"/><polygon points="532.6,215.8 535.2,221.0 530.0,221.0" fill="#e4352b" stroke="#000" stroke-width="1.1"/><rect x="531.9" y="218.3" width="1.5" height="1.5" fill="#b8121a"/><polygon points="540.0,217.6 542.8,223.2 537.2,223.2" fill="#65000c" stroke="#000" stroke-width="1.1"/><rect x="539.2" y="220.3" width="1.5" height="1.5" fill="#b8121a"/><polygon points="548.5,210.7 551.0,215.8 546.0,215.8" fill="#f55a41"/><polygon points="548.0,214.2 550.5,219.3 545.5,219.3" fill="#f55a41"/><polygon points="554.6,213.5 557.4,219.1 551.8,219.1" fill="#65000c" stroke="#000" stroke-width="1.1"/><rect x="553.9" y="216.2" width="1.5" height="1.5" fill="#b8121a"/><polygon points="546.9,218.8 549.4,223.9 544.4,223.9" fill="#fbaa8d"/><polygon points="550.5,218.8 553.0,223.9 548.0,223.9" fill="#f55a41"/><polygon points="555.6,219.9 558.1,225.1 553.1,225.1" fill="#f55a41"/><polygon points="558.7,224.2 561.5,218.6 555.9,218.6" fill="#3b87c1" stroke="#000" stroke-width="1.1"/><rect x="558.0" y="219.9" width="1.5" height="1.5" fill="#1a4596"/><polygon points="560.2,220.7 563.0,226.3 557.4,226.3" fill="#65000c" stroke="#000" stroke-width="1.1"/><rect x="559.5" y="223.4" width="1.5" height="1.5" fill="#b8121a"/><polygon points="561.8,217.7 564.0,222.1 559.6,222.1" fill="#fbaa8d"/><polygon points="576.3,219.4 578.8,224.6 573.8,224.6" fill="#c2181c"/><polygon points="583.5,207.1 586.0,212.2 581.0,212.2" fill="#fbaa8d"/><polygon points="586.9,211.0 588.9,207.0 584.9,207.0" fill="#3b87c1"/><polygon points="585.8,213.2 588.3,218.3 583.2,218.3" fill="#f55a41"/><polygon points="583.6,227.9 586.1,222.8 581.1,222.8" fill="#b7d3e9"/><polygon points="583.8,225.1 586.3,230.2 581.2,230.2" fill="#fbaa8d"/><polygon points="551.0,225.5 553.5,230.7 548.5,230.7" fill="#fa8566"/><polygon points="562.8,225.4 565.6,231.0 560.0,231.0" fill="#65000c" stroke="#000" stroke-width="1.1"/><rect x="562.0" y="228.1" width="1.5" height="1.5" fill="#b8121a"/><polygon points="566.5,227.0 569.3,232.6 563.7,232.6" fill="#65000c" stroke="#000" stroke-width="1.1"/><rect x="565.8" y="229.7" width="1.5" height="1.5" fill="#b8121a"/><polygon points="550.5,226.7 553.0,231.8 548.0,231.8" fill="#fa8566"/><polygon points="580.0,234.8 581.8,231.2 578.2,231.2" fill="#b7d3e9"/><polygon points="585.5,235.4 588.0,240.6 583.0,240.6" fill="#e4352b"/><polygon points="592.0,234.6 593.8,238.2 590.2,238.2" fill="#b7d3e9"/><polygon points="590.2,226.4 592.8,231.6 587.7,231.6" fill="#e4352b"/><polygon points="596.6,225.5 599.6,231.5 593.6,231.5" fill="#65000c" stroke="#000" stroke-width="1.1"/><rect x="595.9" y="228.4" width="1.5" height="1.5" fill="#b8121a"/><polygon points="595.1,217.6 597.6,222.8 592.6,222.8" fill="#c2181c"/><polygon points="534.8,244.8 537.3,239.7 532.2,239.7" fill="#fbaa8d"/><polygon points="519.5,246.8 522.3,252.4 516.7,252.4" fill="#f55a41" stroke="#000" stroke-width="1.1"/><rect x="518.8" y="249.5" width="1.5" height="1.5" fill="#b8121a"/><polygon points="519.3,245.4 520.9,248.6 517.7,248.6" fill="#3b87c1"/><polygon points="525.0,245.9 527.8,251.5 522.2,251.5" fill="#f55a41" stroke="#000" stroke-width="1.1"/><rect x="524.2" y="248.6" width="1.5" height="1.5" fill="#b8121a"/><polygon points="531.1,251.5 533.9,257.1 528.3,257.1" fill="#fa8566" stroke="#000" stroke-width="1.1"/><rect x="530.4" y="254.2" width="1.5" height="1.5" fill="#b8121a"/><polygon points="550.1,253.0 552.3,257.4 547.9,257.4" fill="#3b87c1"/><polygon points="545.0,274.2 547.5,279.3 542.5,279.3" fill="#9a0e14"/><polygon points="550.1,279.3 552.1,275.3 548.1,275.3" fill="#b7d3e9"/><polygon points="559.4,270.1 561.9,275.2 556.9,275.2" fill="#c2181c"/><polygon points="563.1,266.6 565.1,270.6 561.1,270.6" fill="#fbaa8d"/><polygon points="600.3,196.2 603.1,201.8 597.5,201.8" fill="#65000c" stroke="#000" stroke-width="1.1"/><rect x="599.5" y="198.9" width="1.5" height="1.5" fill="#b8121a"/><polygon points="615.6,199.7 618.1,204.8 613.1,204.8" fill="#9a0e14"/><polygon points="644.7,192.3 647.2,197.4 642.2,197.4" fill="#fbaa8d"/><polygon points="588.3,207.8 590.3,211.8 586.3,211.8" fill="#fa8566"/><polygon points="587.3,211.8 589.8,206.6 584.8,206.6" fill="#0b3068"/><polygon points="591.4,211.8 593.9,206.6 588.9,206.6" fill="#b7d3e9"/><polygon points="586.0,213.2 588.5,218.3 583.5,218.3" fill="#f55a41"/><polygon points="590.1,219.3 592.6,214.2 587.6,214.2" fill="#3b87c1"/><polygon points="595.2,212.7 597.8,217.8 592.7,217.8" fill="#f55a41"/><polygon points="594.9,217.3 597.4,222.4 592.4,222.4" fill="#c2181c"/><polygon points="598.2,224.5 600.2,220.5 596.2,220.5" fill="#3b87c1"/><polygon points="600.6,218.9 602.6,222.9 598.6,222.9" fill="#b7d3e9"/><polygon points="603.7,221.9 606.2,227.1 601.2,227.1" fill="#f55a41"/><polygon points="605.9,220.9 608.5,226.1 603.4,226.1" fill="#fa8566"/><polygon points="610.8,209.1 613.3,214.2 608.2,214.2" fill="#fa8566"/><polygon points="616.1,206.7 618.1,210.7 614.1,210.7" fill="#b7d3e9"/><polygon points="620.0,215.8 622.5,210.7 617.5,210.7" fill="#0b3068"/><polygon points="613.1,217.8 615.6,222.9 610.6,222.9" fill="#e4352b"/><polygon points="619.4,215.8 622.0,220.9 616.9,220.9" fill="#fbaa8d"/><polygon points="629.4,206.4 632.2,212.0 626.6,212.0" fill="#65000c" stroke="#000" stroke-width="1.1"/><rect x="628.7" y="209.1" width="1.5" height="1.5" fill="#b8121a"/><polygon points="632.5,218.8 635.0,213.7 630.0,213.7" fill="#3b87c1"/><polygon points="625.3,215.3 627.3,219.3 623.3,219.3" fill="#e4352b"/><polygon points="627.4,216.6 630.2,222.2 624.6,222.2" fill="#c2181c" stroke="#000" stroke-width="1.1"/><rect x="626.7" y="219.3" width="1.5" height="1.5" fill="#b8121a"/><polygon points="636.1,208.5 638.3,212.9 633.9,212.9" fill="#fbaa8d"/><polygon points="638.6,209.1 641.1,214.2 636.1,214.2" fill="#fbaa8d"/><polygon points="635.5,222.2 638.3,227.8 632.7,227.8" fill="#65000c" stroke="#000" stroke-width="1.1"/><rect x="634.8" y="224.9" width="1.5" height="1.5" fill="#b8121a"/><polygon points="639.1,221.7 641.9,227.3 636.3,227.3" fill="#65000c" stroke="#000" stroke-width="1.1"/><rect x="638.4" y="224.4" width="1.5" height="1.5" fill="#b8121a"/><polygon points="620.2,222.6 623.2,228.6 617.2,228.6" fill="#65000c" stroke="#000" stroke-width="1.1"/><rect x="619.5" y="225.5" width="1.5" height="1.5" fill="#b8121a"/><polygon points="621.7,226.5 623.7,230.5 619.7,230.5" fill="#f55a41"/><polygon points="616.8,230.0 619.0,225.6 614.6,225.6" fill="#0b3068"/><polygon points="616.1,227.3 618.6,232.4 613.6,232.4" fill="#e4352b"/><polygon points="622.8,226.1 625.6,231.7 620.0,231.7" fill="#65000c" stroke="#000" stroke-width="1.1"/><rect x="622.0" y="228.8" width="1.5" height="1.5" fill="#b8121a"/><polygon points="590.6,225.5 593.1,230.7 588.1,230.7" fill="#e4352b"/><polygon points="579.3,235.6 581.8,230.4 576.8,230.4" fill="#b7d3e9"/><polygon points="585.0,236.0 587.5,241.2 582.5,241.2" fill="#e4352b"/><polygon points="592.1,224.6 593.9,228.2 590.3,228.2" fill="#b7d3e9"/><polygon points="608.0,234.8 610.8,229.2 605.2,229.2" fill="#0b3068" stroke="#000" stroke-width="1.1"/><rect x="607.2" y="230.6" width="1.5" height="1.5" fill="#1a4596"/><polygon points="606.9,230.7 609.7,236.3 604.1,236.3" fill="#65000c" stroke="#000" stroke-width="1.1"/><rect x="606.2" y="233.4" width="1.5" height="1.5" fill="#b8121a"/><polygon points="605.4,237.3 608.2,242.9 602.6,242.9" fill="#65000c" stroke="#000" stroke-width="1.1"/><rect x="604.7" y="240.0" width="1.5" height="1.5" fill="#b8121a"/><polygon points="608.0,237.9 610.8,243.5 605.2,243.5" fill="#65000c" stroke="#000" stroke-width="1.1"/><rect x="607.2" y="240.6" width="1.5" height="1.5" fill="#b8121a"/><polygon points="604.7,240.1 607.2,245.2 602.2,245.2" fill="#f55a41"/><polygon points="604.7,244.4 607.2,249.6 602.2,249.6" fill="#f55a41"/><polygon points="606.1,252.4 608.6,257.6 603.6,257.6" fill="#fa8566"/><polygon points="617.7,231.9 620.2,237.1 615.2,237.1" fill="#e4352b"/><polygon points="623.1,239.4 625.9,245.0 620.3,245.0" fill="#65000c" stroke="#000" stroke-width="1.1"/><rect x="622.4" y="242.1" width="1.5" height="1.5" fill="#b8121a"/><polygon points="626.9,243.8 629.7,249.4 624.1,249.4" fill="#65000c" stroke="#000" stroke-width="1.1"/><rect x="626.2" y="246.5" width="1.5" height="1.5" fill="#b8121a"/><polygon points="635.8,254.5 638.8,260.5 632.8,260.5" fill="#c2181c" stroke="#000" stroke-width="1.1"/><rect x="635.0" y="257.4" width="1.5" height="1.5" fill="#b8121a"/><polygon points="644.6,286.9 647.1,281.8 642.1,281.8" fill="#b7d3e9"/><polygon points="642.0,287.4 644.0,283.4 640.0,283.4" fill="#b7d3e9"/><polygon points="644.1,286.9 646.6,292.1 641.6,292.1" fill="#fa8566"/><polygon points="668.6,283.8 671.1,288.9 666.1,288.9" fill="#e4352b"/><polygon points="668.6,285.3 669.0,286.4 670.2,286.5 669.2,287.2 669.6,288.4 668.6,287.7 667.6,288.4 668.0,287.2 667.0,286.5 668.2,286.4" fill="#000"/>
</g>
<rect x="374.3" y="179.5" width="297.5" height="149.0" fill="none" stroke="#444" stroke-width="1"/>
<text x="2.0" y="12.3" font-size="18.0" text-anchor="start">(a)</text>
<text x="343.4" y="12.3" font-size="18.0" text-anchor="start">(b)</text>
<text x="1.1" y="183.4" font-size="18.0" text-anchor="start">(c)</text>
<text x="342.1" y="187.8" font-size="18.0" text-anchor="start">(d)</text>
<text x="38.6" y="174.6" font-size="12.8" text-anchor="middle">180°</text>
<text x="82.7" y="174.6" font-size="12.8" text-anchor="middle">120°W</text>
<text x="135.0" y="174.6" font-size="12.8" text-anchor="middle">60°W</text>
<text x="182.8" y="174.6" font-size="12.8" text-anchor="middle">0°</text>
<text x="228.4" y="174.6" font-size="12.8" text-anchor="middle">60°E</text>
<text x="278.0" y="174.6" font-size="12.8" text-anchor="middle">120°E</text>
<text x="330.5" y="174.6" font-size="12.8" text-anchor="middle">180°</text>
<text x="28.6" y="41.7" font-size="12.8" text-anchor="end">60°N</text>
<text x="28.6" y="66.6" font-size="12.8" text-anchor="end">30°N</text>
<text x="14.1" y="89.0" font-size="12.8" text-anchor="middle">0°</text>
<text x="28.6" y="116.2" font-size="12.8" text-anchor="end">30°S</text>
<text x="28.6" y="141.1" font-size="12.8" text-anchor="end">60°S</text>
<text x="377.4" y="174.6" font-size="12.8" text-anchor="middle">180°</text>
<text x="423.9" y="174.6" font-size="12.8" text-anchor="middle">120°W</text>
<text x="473.4" y="174.6" font-size="12.8" text-anchor="middle">60°W</text>
<text x="524.3" y="174.6" font-size="12.8" text-anchor="middle">0°</text>
<text x="577.2" y="174.6" font-size="12.8" text-anchor="middle">60°E</text>
<text x="627.7" y="174.6" font-size="12.8" text-anchor="middle">120°E</text>
<text x="673.1" y="174.6" font-size="12.8" text-anchor="middle">180°</text>
<text x="369.9" y="41.7" font-size="12.8" text-anchor="end">60°N</text>
<text x="369.9" y="66.6" font-size="12.8" text-anchor="end">30°N</text>
<text x="355.4" y="89.0" font-size="12.8" text-anchor="middle">0°</text>
<text x="369.9" y="116.2" font-size="12.8" text-anchor="end">30°S</text>
<text x="369.9" y="141.1" font-size="12.8" text-anchor="end">60°S</text>
<text x="34.6" y="343.1" font-size="12.8" text-anchor="middle">180°</text>
<text x="81.2" y="343.1" font-size="12.8" text-anchor="middle">120°W</text>
<text x="131.3" y="343.1" font-size="12.8" text-anchor="middle">60°W</text>
<text x="182.6" y="343.1" font-size="12.8" text-anchor="middle">0°</text>
<text x="235.0" y="343.1" font-size="12.8" text-anchor="middle">60°E</text>
<text x="284.7" y="343.1" font-size="12.8" text-anchor="middle">120°E</text>
<text x="330.5" y="343.1" font-size="12.8" text-anchor="middle">180°</text>
<text x="28.6" y="208.7" font-size="12.8" text-anchor="end">60°N</text>
<text x="28.6" y="233.6" font-size="12.8" text-anchor="end">30°N</text>
<text x="14.1" y="256.0" font-size="12.8" text-anchor="middle">0°</text>
<text x="28.6" y="283.2" font-size="12.8" text-anchor="end">30°S</text>
<text x="28.6" y="308.1" font-size="12.8" text-anchor="end">60°S</text>
<text x="376.5" y="343.1" font-size="12.8" text-anchor="middle">180°</text>
<text x="423.3" y="343.1" font-size="12.8" text-anchor="middle">120°W</text>
<text x="473.4" y="343.1" font-size="12.8" text-anchor="middle">60°W</text>
<text x="524.4" y="343.1" font-size="12.8" text-anchor="middle">0°</text>
<text x="577.2" y="343.1" font-size="12.8" text-anchor="middle">60°E</text>
<text x="627.3" y="343.1" font-size="12.8" text-anchor="middle">120°E</text>
<text x="673.1" y="343.1" font-size="12.8" text-anchor="middle">180°</text>
<text x="369.9" y="208.7" font-size="12.8" text-anchor="end">60°N</text>
<text x="369.9" y="233.6" font-size="12.8" text-anchor="end">30°N</text>
<text x="355.4" y="256.0" font-size="12.8" text-anchor="middle">0°</text>
<text x="369.9" y="283.2" font-size="12.8" text-anchor="end">30°S</text>
<text x="369.9" y="308.1" font-size="12.8" text-anchor="end">60°S</text>
<rect x="78.50" y="357.2" width="22.93" height="10.3" fill="#0b3068"/>
<rect x="101.23" y="357.2" width="22.93" height="10.3" fill="#3b87c1"/>
<rect x="123.96" y="357.2" width="22.93" height="10.3" fill="#b7d3e9"/>
<rect x="146.69" y="357.2" width="22.93" height="10.3" fill="#fbaa8d"/>
<rect x="169.42" y="357.2" width="22.93" height="10.3" fill="#fa8566"/>
<rect x="192.15" y="357.2" width="22.93" height="10.3" fill="#f55a41"/>
<rect x="214.88" y="357.2" width="22.93" height="10.3" fill="#e4352b"/>
<rect x="237.61" y="357.2" width="22.93" height="10.3" fill="#c2181c"/>
<rect x="260.34" y="357.2" width="22.93" height="10.3" fill="#9a0e14"/>
<rect x="283.07" y="357.2" width="22.93" height="10.3" fill="#65000c"/>
<polygon points="79.2,357.2 67.3,362.4 79.2,367.5" fill="#0b3068"/>
<polygon points="305.3,357.2 317.2,362.4 305.3,367.5" fill="#65000c"/>
<path d="M101.3 367.5v2.2M124.1 367.5v1.6M146.8 367.5v2.2M169.5 367.5v1.6M192.2 367.5v2.2M215.0 367.5v1.6M237.7 367.5v2.2M260.4 367.5v1.6M283.2 367.5v2.2" stroke="#333" stroke-width="0.6" fill="none"/>
<text x="99.2" y="382.0" font-size="10.7" text-anchor="middle">-0.27</text>
<text x="147.3" y="382.0" font-size="10.7" text-anchor="middle">0.00</text>
<text x="192.8" y="382.0" font-size="10.7" text-anchor="middle">0.20</text>
<text x="238.2" y="382.0" font-size="10.7" text-anchor="middle">0.38</text>
<text x="283.7" y="382.0" font-size="10.7" text-anchor="middle">0.67</text>
<rect x="398.50" y="357.2" width="22.93" height="10.3" fill="#0b3068"/>
<rect x="421.23" y="357.2" width="22.93" height="10.3" fill="#3b87c1"/>
<rect x="443.96" y="357.2" width="22.93" height="10.3" fill="#b7d3e9"/>
<rect x="466.69" y="357.2" width="22.93" height="10.3" fill="#fbaa8d"/>
<rect x="489.42" y="357.2" width="22.93" height="10.3" fill="#fa8566"/>
<rect x="512.15" y="357.2" width="22.93" height="10.3" fill="#f55a41"/>
<rect x="534.88" y="357.2" width="22.93" height="10.3" fill="#e4352b"/>
<rect x="557.61" y="357.2" width="22.93" height="10.3" fill="#c2181c"/>
<rect x="580.34" y="357.2" width="22.93" height="10.3" fill="#9a0e14"/>
<rect x="603.07" y="357.2" width="22.93" height="10.3" fill="#65000c"/>
<polygon points="399.2,357.2 387.3,362.4 399.2,367.5" fill="#0b3068"/>
<polygon points="625.3,357.2 637.2,362.4 625.3,367.5" fill="#65000c"/>
<path d="M421.3 367.5v2.2M444.1 367.5v1.6M466.8 367.5v2.2M489.5 367.5v1.6M512.2 367.5v2.2M535.0 367.5v1.6M557.7 367.5v2.2M580.4 367.5v1.6M603.2 367.5v2.2" stroke="#333" stroke-width="0.6" fill="none"/>
<text x="419.2" y="382.0" font-size="10.7" text-anchor="middle">-0.12</text>
<text x="467.3" y="382.0" font-size="10.7" text-anchor="middle">0.00</text>
<text x="512.8" y="382.0" font-size="10.7" text-anchor="middle">0.07</text>
<text x="558.2" y="382.0" font-size="10.7" text-anchor="middle">0.14</text>
<text x="603.7" y="382.0" font-size="10.7" text-anchor="middle">0.25</text>
<text x="203.2" y="395.8" font-size="8.8" text-anchor="middle">Sen's slope</text>
<text x="531.0" y="395.8" font-size="8.8" text-anchor="middle">Sen's slope</text>
<polygon points="133.2,410.2 140.2,410.2 136.7,404.0" fill="#8c8c8c"/>
<text x="146.8" y="410.1" font-size="8.7" text-anchor="start">MK &gt; 0</text>
<polygon points="203.2,404.0 210.2,404.0 206.7,410.2" fill="#8c8c8c"/>
<text x="216.9" y="410.1" font-size="8.7" text-anchor="start">MK &lt; 0</text>
<polygon points="273.3,409.8 280.3,409.8 276.8,403.8" fill="none" stroke="#000" stroke-width="0.8"/>
<text x="287.9" y="410.1" font-size="8.7" text-anchor="start">MK <tspan font-style="italic">p</tspan> ≤ 0.05</text>
<rect x="360.8" y="404.3" width="6.2" height="6.2" fill="#f00"/>
<text x="372.9" y="410.1" font-size="8.7" text-anchor="start">Sen &gt; 0</text>
<rect x="429.2" y="404.3" width="6.2" height="6.2" fill="#00f"/>
<text x="445.1" y="410.1" font-size="8.7" text-anchor="start">Sen &lt; 0</text>
<polygon points="501.7,403.8 502.5,406.2 505.1,406.3 503.1,407.8 503.8,410.3 501.7,408.8 499.6,410.3 500.3,407.8 498.3,406.3 500.9,406.2" fill="#000"/>
<text x="511.0" y="410.1" font-size="8.7" text-anchor="start">Sen <tspan font-style="italic">p</tspan> ≤ 0.05</text>
</svg></body></html>
